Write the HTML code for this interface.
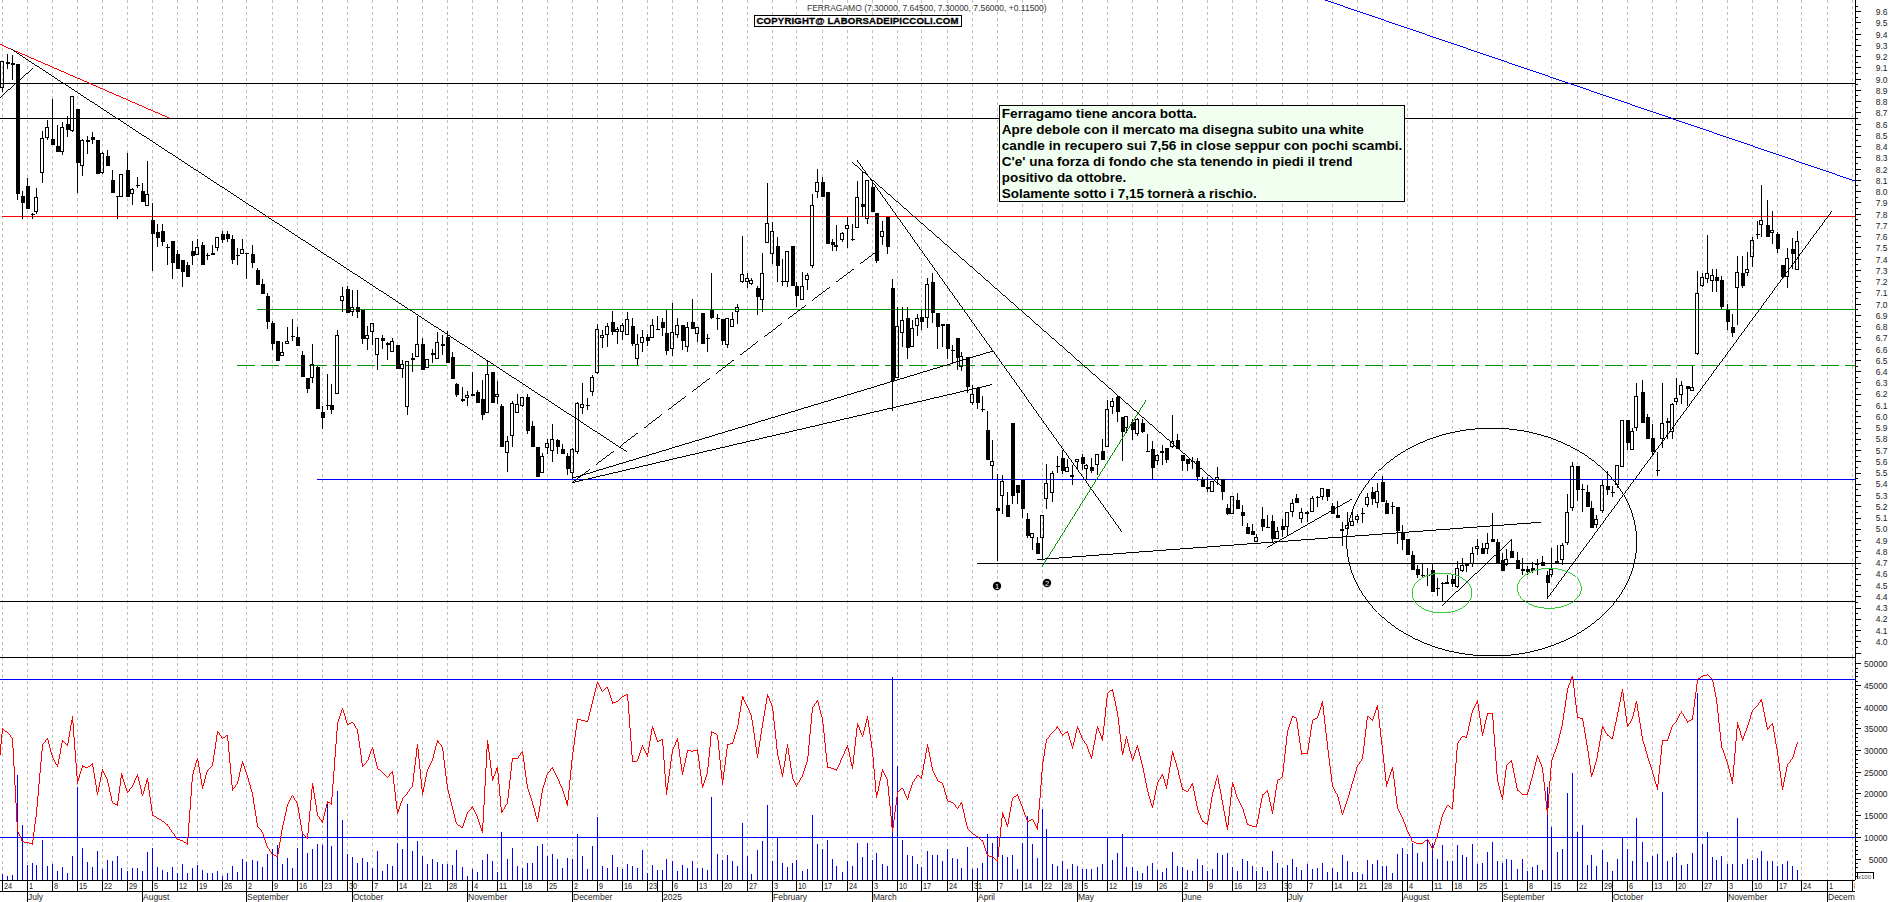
<!DOCTYPE html><html><head><meta charset="utf-8"><style>
html,body{margin:0;padding:0;background:#fff;width:1890px;height:902px;overflow:hidden}
svg{display:block;position:absolute;left:0;top:0}
text{font-family:"Liberation Sans",sans-serif}
</style></head><body>
<svg width="1890" height="902" viewBox="0 0 1890 902" shape-rendering="crispEdges">
<path d="M2.5 0V657M2.5 657V880M27.5 0V657M27.5 657V880M52.5 0V657M52.5 657V880M77.5 0V657M77.5 657V880M102.5 0V657M102.5 657V880M127.5 0V657M127.5 657V880M152.5 0V657M152.5 657V880M177.5 0V657M177.5 657V880M197.5 0V657M197.5 657V880M222.5 0V657M222.5 657V880M246.5 0V657M246.5 657V880M272.5 0V657M272.5 657V880M297.5 0V657M297.5 657V880M322.5 0V657M322.5 657V880M347.5 0V657M347.5 657V880M372.5 0V657M372.5 657V880M397.5 0V657M397.5 657V880M422.5 0V657M422.5 657V880M447.5 0V657M447.5 657V880M472.5 0V657M472.5 657V880M497.5 0V657M497.5 657V880M522.5 0V657M522.5 657V880M547.5 0V657M547.5 657V880M572.5 0V657M572.5 657V880M597.5 0V657M597.5 657V880M622.5 0V657M622.5 657V880M647.5 0V657M647.5 657V880M672.5 0V657M672.5 657V880M697.5 0V657M697.5 657V880M722.5 0V657M722.5 657V880M747.5 0V657M747.5 657V880M772.5 0V657M772.5 657V880M796.5 0V657M796.5 657V880M822.5 0V657M822.5 657V880M847.5 0V657M847.5 657V880M872.5 0V657M872.5 657V880M897.5 0V657M897.5 657V880M921.5 0V657M921.5 657V880M947.5 0V657M947.5 657V880M972.5 0V657M972.5 657V880M997.5 0V657M997.5 657V880M1022.5 0V657M1022.5 657V880M1042.5 0V657M1042.5 657V880M1062.5 0V657M1062.5 657V880M1082.5 0V657M1082.5 657V880M1107.5 0V657M1107.5 657V880M1132.5 0V657M1132.5 657V880M1157.5 0V657M1157.5 657V880M1182.5 0V657M1182.5 657V880M1207.5 0V657M1207.5 657V880M1232.5 0V657M1232.5 657V880M1256.5 0V657M1256.5 657V880M1282.5 0V657M1282.5 657V880M1307.5 0V657M1307.5 657V880M1332.5 0V657M1332.5 657V880M1357.5 0V657M1357.5 657V880M1382.5 0V657M1382.5 657V880M1407.5 0V657M1407.5 657V880M1432.5 0V657M1432.5 657V880M1452.5 0V657M1452.5 657V880M1477.5 0V657M1477.5 657V880M1502.5 0V657M1502.5 657V880M1527.5 0V657M1527.5 657V880M1551.5 0V657M1551.5 657V880M1577.5 0V657M1577.5 657V880M1602.5 0V657M1602.5 657V880M1627.5 0V657M1627.5 657V880M1652.5 0V657M1652.5 657V880M1676.5 0V657M1676.5 657V880M1702.5 0V657M1702.5 657V880M1727.5 0V657M1727.5 657V880M1752.5 0V657M1752.5 657V880M1777.5 0V657M1777.5 657V880M1801.5 0V657M1801.5 657V880M1827.5 0V657M1827.5 657V880M1852.5 0V657M1852.5 657V880" stroke="#c0c0c0" stroke-width="1" stroke-dasharray="3 3" fill="none"/>
<line x1="0" y1="83.5" x2="1855" y2="83.5" stroke="#000" stroke-width="1" />
<line x1="0" y1="118.5" x2="1855" y2="118.5" stroke="#000" stroke-width="1" />
<line x1="2" y1="216.5" x2="1855" y2="216.5" stroke="#f00" stroke-width="1" />
<line x1="257" y1="309.5" x2="1855" y2="309.5" stroke="#009600" stroke-width="1" />
<line x1="237" y1="365.5" x2="1855" y2="365.5" stroke="#009600" stroke-width="1" stroke-dasharray="18 6"/>
<line x1="317" y1="479.5" x2="1855" y2="479.5" stroke="#00f" stroke-width="1" />
<line x1="977" y1="563.5" x2="1855" y2="563.5" stroke="#000" stroke-width="1" />
<line x1="0" y1="601.5" x2="1855" y2="601.5" stroke="#000" stroke-width="1" />
<line x1="0" y1="657.5" x2="1855" y2="657.5" stroke="#000" stroke-width="1" />
<path d="M2.5 88V92M7.5 54V69M12.5 55V80M17.5 64V200M22.5 191V219M27.5 178V209M32.5 213V219M36.5 188V197M36.5 212V214M42.5 131V138M42.5 173V183M47.5 120V127M47.5 138V140M52.5 99V145M57.5 125V152M62.5 122V127M62.5 152V155M67.5 116V137M72.5 131V132M77.5 109V193M82.5 139V140M82.5 166V176M87.5 136V154M92.5 132V144M97.5 140V174M102.5 152V153M102.5 173V174M107.5 150V166M112.5 170V193M117.5 196V219M127.5 153V197M132.5 188V189M132.5 194V205M137.5 177V188M142.5 183V202M147.5 161V194M152.5 203V271M157.5 224V247M162.5 224V246M167.5 244V265M172.5 241V279M177.5 250V269M182.5 260V287M187.5 262V277M192.5 241V265M197.5 239V247M202.5 242V265M207.5 253V260M212.5 245V255M217.5 248V251M222.5 231V243M227.5 231V242M232.5 235V264M237.5 248V265M242.5 239V249M246.5 253V279M252.5 245V268M257.5 268V285M262.5 279V294M267.5 293V329M272.5 321V350M277.5 341V361M282.5 342V352M287.5 327V341M292.5 319V341M297.5 327V346M302.5 351V377M307.5 378V393M312.5 344V364M312.5 378V383M317.5 366V409M322.5 406V429M327.5 374V410M331.5 384V414M337.5 330V335M342.5 287V296M342.5 301V312M347.5 286V313M352.5 290V307M352.5 312V316M357.5 290V318M362.5 310V344M367.5 326V335M367.5 339V350M372.5 332V345M377.5 355V370M382.5 335V349M387.5 342V360M392.5 338V341M397.5 345V369M402.5 360V364M402.5 369V378M407.5 407V415M412.5 353V372M417.5 316V344M422.5 338V370M432.5 349V363M437.5 332V342M442.5 335V355M447.5 331V363M452.5 352V379M456.5 383V397M462.5 387V402M467.5 391V395M467.5 398V406M472.5 372V396M477.5 390V403M482.5 380V420M487.5 361V374M492.5 372V403M497.5 381V394M497.5 397V404M501.5 404V447M507.5 436V441M507.5 453V472M512.5 401V403M512.5 436V447M517.5 394V404M522.5 406V407M527.5 394V434M532.5 421V447M537.5 447V477M542.5 453V456M547.5 439V443M547.5 448V454M552.5 424V439M552.5 451V462M557.5 439V454M562.5 444V454M567.5 453V475M572.5 448V449M572.5 473V479M577.5 402V403M577.5 452V454M582.5 383V404M582.5 408V414M587.5 398V410M592.5 375V377M592.5 392V396M597.5 324V329M597.5 373V374M602.5 330V335M602.5 338V348M607.5 323V326M607.5 335V347M612.5 311V335M617.5 327V329M617.5 332V344M622.5 323V325M622.5 332V340M627.5 312V319M632.5 318V346M637.5 334V344M637.5 359V365M642.5 330V337M642.5 343V352M647.5 334V346M652.5 319V325M657.5 316V330M662.5 318V336M666.5 310V355M672.5 303V332M672.5 349V356M677.5 318V325M677.5 335V338M682.5 325V350M687.5 322V327M687.5 347V352M692.5 299V329M697.5 334V342M702.5 313V344M707.5 334V352M711.5 273V319M717.5 314V330M722.5 319V345M727.5 345V348M732.5 312V319M737.5 304V307M737.5 312V324M742.5 236V274M742.5 282V283M747.5 273V278M747.5 282V288M751.5 278V280M751.5 284V285M757.5 286V315M762.5 253V273M762.5 300V312M767.5 183V223M772.5 222V231M772.5 254V264M777.5 237V282M782.5 259V286M787.5 282V287M792.5 246V286M796.5 282V307M802.5 272V286M807.5 273V275M807.5 280V290M812.5 194V205M812.5 266V268M817.5 169V182M817.5 192V198M822.5 177V197M827.5 192V244M832.5 239V251M836.5 225V245M836.5 247V251M842.5 232V233M842.5 240V242M847.5 217V225M847.5 229V248M852.5 224V241M857.5 181V197M862.5 171V217M867.5 219V224M872.5 182V212M876.5 213V263M882.5 221V231M882.5 237V245M887.5 217V254M892.5 279V411M897.5 307V326M902.5 307V320M902.5 333V347M907.5 307V359M912.5 320V328M917.5 314V318M917.5 326V336M921.5 310V330M927.5 278V284M927.5 318V328M932.5 273V323M937.5 313V349M942.5 324V347M947.5 324V359M952.5 345V364M957.5 338V370M961.5 352V356M961.5 367V371M967.5 357V393M972.5 385V394M972.5 403V405M977.5 387V409M982.5 396V412M987.5 411V460M992.5 440V461M992.5 466V479M997.5 474V561M1002.5 475V481M1002.5 496V514M1007.5 492V517M1012.5 423V504M1017.5 485V504M1022.5 480V518M1027.5 513V538M1032.5 538V550M1037.5 537V554M1042.5 538V560M1046.5 464V483M1046.5 499V509M1052.5 471V473M1052.5 493V502M1057.5 456V473M1062.5 450V474M1067.5 459V467M1072.5 465V475M1072.5 477V485M1077.5 462V469M1082.5 454V470M1086.5 464V465M1086.5 469V480M1091.5 458V473M1097.5 465V475M1102.5 439V460M1107.5 400V409M1112.5 398V401M1112.5 407V414M1117.5 396V422M1122.5 417V461M1126.5 428V433M1132.5 419V440M1137.5 418V419M1137.5 434V436M1142.5 419V433M1147.5 434V452M1152.5 441V479M1157.5 454V455M1157.5 461V465M1162.5 445V451M1162.5 453V465M1166.5 448V463M1172.5 415V441M1172.5 447V448M1177.5 434V449M1182.5 455V471M1187.5 459V471M1192.5 457V469M1197.5 458V481M1202.5 477V487M1207.5 477V492M1217.5 467V477M1217.5 480V485M1222.5 479V500M1227.5 504V515M1237.5 493V509M1242.5 505V526M1247.5 523V534M1252.5 524V535M1256.5 534V537M1262.5 507V531M1267.5 515V528M1272.5 515V542M1277.5 527V531M1282.5 519V537M1287.5 527V535M1292.5 499V503M1292.5 512V517M1296.5 494V503M1301.5 508V512M1301.5 519V523M1307.5 511V512M1307.5 513V522M1312.5 496V498M1317.5 496V507M1322.5 497V500M1327.5 489V501M1332.5 503V514M1337.5 501V518M1342.5 522V529M1342.5 531V546M1347.5 512V525M1347.5 529V535M1352.5 509V521M1357.5 514V516M1357.5 520V523M1362.5 508V523M1367.5 493V497M1367.5 505V507M1372.5 487V505M1377.5 483V491M1377.5 503V508M1382.5 476V502M1386.5 500V514M1392.5 502V514M1397.5 507V544M1402.5 525V550M1407.5 539V555M1412.5 551V570M1417.5 565V578M1422.5 564V577M1427.5 568V586M1432.5 564V592M1437.5 578V596M1442.5 582V602M1447.5 575V582M1452.5 575V587M1457.5 561V568M1457.5 587V588M1462.5 558V565M1462.5 571V572M1466.5 563V572M1472.5 547V553M1472.5 564V567M1477.5 539V546M1477.5 549V555M1482.5 543V554M1487.5 533V543M1487.5 549V554M1492.5 513V542M1497.5 539V563M1502.5 553V571M1506.5 549V559M1506.5 565V566M1511.5 539V558M1517.5 552V569M1522.5 558V575M1527.5 566V575M1532.5 562V573M1537.5 559V563M1537.5 565V575M1542.5 556V566M1547.5 571V599M1551.5 548V569M1551.5 575V577M1557.5 545V561M1562.5 543V545M1562.5 560V565M1567.5 494V512M1567.5 543V545M1572.5 462V466M1572.5 508V511M1577.5 466V501M1582.5 484V512M1587.5 485V507M1591.5 501V528M1596.5 515V519M1596.5 525V528M1602.5 480V485M1602.5 511V513M1607.5 471V495M1612.5 486V497M1617.5 485V488M1627.5 420V450M1632.5 428V431M1636.5 383V396M1636.5 428V431M1642.5 380V423M1647.5 414V439M1652.5 424V455M1657.5 452V476M1662.5 383V423M1662.5 439V448M1667.5 418V439M1672.5 403V404M1672.5 432V439M1676.5 378V398M1676.5 402V405M1681.5 381V385M1681.5 395V404M1687.5 386V406M1692.5 366V387M1697.5 271V293M1697.5 354V355M1702.5 273V277M1702.5 286V287M1707.5 235V273M1707.5 279V283M1712.5 269V275M1712.5 281V292M1716.5 269V292M1721.5 276V309M1727.5 304V330M1732.5 314V337M1737.5 256V272M1737.5 288V325M1742.5 256V288M1747.5 252V269M1747.5 273V276M1752.5 237V240M1752.5 257V267M1757.5 221V239M1761.5 185V220M1761.5 225V237M1767.5 200V237M1772.5 211V230M1772.5 233V244M1777.5 232V253M1782.5 265V279M1787.5 248V258M1787.5 277V288M1792.5 238V269M1797.5 231V241" stroke="#000" stroke-width="1" fill="none"/>
<path d="M6 62h4v2h-4zM11 63h4v2h-4zM16 64h4v130h-4zM21 196h4v7h-4zM26 186h4v23h-4zM31 214h4v1h-4zM51 139h4v6h-4zM56 146h4v6h-4zM66 124h4v6h-4zM76 109h4v54h-4zM86 140h4v2h-4zM91 137h4v3h-4zM96 140h4v34h-4zM106 156h4v10h-4zM111 180h4v13h-4zM116 196h4v1h-4zM126 170h4v27h-4zM136 185h4v1h-4zM141 191h4v11h-4zM151 220h4v14h-4zM156 232h4v6h-4zM161 231h4v11h-4zM166 247h4v1h-4zM171 241h4v22h-4zM176 254h4v15h-4zM181 260h4v12h-4zM186 265h4v12h-4zM191 251h4v5h-4zM201 245h4v20h-4zM206 255h4v1h-4zM211 253h4v2h-4zM221 234h4v6h-4zM226 234h4v5h-4zM231 239h4v21h-4zM236 255h4v1h-4zM245 253h4v1h-4zM251 254h4v9h-4zM256 270h4v15h-4zM261 284h4v10h-4zM266 296h4v26h-4zM271 323h4v21h-4zM276 341h4v20h-4zM291 336h4v1h-4zM296 337h4v9h-4zM301 355h4v22h-4zM306 378h4v11h-4zM316 367h4v42h-4zM321 412h4v6h-4zM326 405h4v1h-4zM330 405h4v5h-4zM346 289h4v24h-4zM356 307h4v5h-4zM361 310h4v29h-4zM381 338h4v3h-4zM386 343h4v2h-4zM396 345h4v24h-4zM411 358h4v2h-4zM421 344h4v26h-4zM431 353h4v2h-4zM441 344h4v2h-4zM446 337h4v26h-4zM451 357h4v22h-4zM455 384h4v11h-4zM461 399h4v2h-4zM471 394h4v2h-4zM476 392h4v11h-4zM481 399h4v16h-4zM491 372h4v31h-4zM500 406h4v41h-4zM526 397h4v34h-4zM531 426h4v21h-4zM536 447h4v30h-4zM556 440h4v7h-4zM561 449h4v5h-4zM566 456h4v13h-4zM586 405h4v1h-4zM611 322h4v10h-4zM631 326h4v18h-4zM646 337h4v4h-4zM656 329h4v1h-4zM661 322h4v6h-4zM665 333h4v18h-4zM681 325h4v16h-4zM691 322h4v7h-4zM701 313h4v31h-4zM706 338h4v1h-4zM710 310h4v8h-4zM716 318h4v1h-4zM721 319h4v22h-4zM756 288h4v9h-4zM776 246h4v20h-4zM781 281h4v1h-4zM791 246h4v40h-4zM795 286h4v10h-4zM821 182h4v15h-4zM826 192h4v52h-4zM831 242h4v3h-4zM851 239h4v1h-4zM861 204h4v3h-4zM871 187h4v25h-4zM875 213h4v48h-4zM886 217h4v30h-4zM891 288h4v93h-4zM906 318h4v30h-4zM920 317h4v5h-4zM931 282h4v31h-4zM936 313h4v14h-4zM941 324h4v2h-4zM946 324h4v25h-4zM951 350h4v1h-4zM956 338h4v20h-4zM966 357h4v30h-4zM976 388h4v15h-4zM981 409h4v1h-4zM986 430h4v30h-4zM996 508h4v3h-4zM1006 505h4v12h-4zM1011 423h4v73h-4zM1016 485h4v8h-4zM1021 480h4v29h-4zM1026 519h4v17h-4zM1036 543h4v11h-4zM1056 466h4v1h-4zM1061 458h4v13h-4zM1081 457h4v7h-4zM1090 467h4v4h-4zM1101 451h4v9h-4zM1116 397h4v15h-4zM1121 417h4v15h-4zM1131 422h4v8h-4zM1141 423h4v9h-4zM1146 451h4v1h-4zM1151 449h4v19h-4zM1165 448h4v12h-4zM1176 440h4v9h-4zM1181 455h4v6h-4zM1186 459h4v5h-4zM1191 461h4v1h-4zM1196 461h4v16h-4zM1201 479h4v8h-4zM1206 487h4v2h-4zM1221 479h4v13h-4zM1226 508h4v6h-4zM1236 500h4v9h-4zM1241 512h4v4h-4zM1246 527h4v7h-4zM1251 531h4v4h-4zM1261 519h4v8h-4zM1266 527h4v1h-4zM1271 521h4v18h-4zM1281 526h4v4h-4zM1295 498h4v5h-4zM1316 497h4v1h-4zM1326 489h4v8h-4zM1331 506h4v8h-4zM1336 515h4v3h-4zM1361 513h4v1h-4zM1371 492h4v7h-4zM1381 482h4v20h-4zM1385 503h4v11h-4zM1391 506h4v1h-4zM1396 507h4v24h-4zM1401 532h4v8h-4zM1406 539h4v16h-4zM1411 555h4v15h-4zM1416 569h4v6h-4zM1421 575h4v1h-4zM1426 575h4v1h-4zM1431 570h4v22h-4zM1436 588h4v1h-4zM1441 583h4v1h-4zM1451 579h4v5h-4zM1465 564h4v2h-4zM1481 548h4v6h-4zM1491 539h4v3h-4zM1496 542h4v21h-4zM1501 560h4v11h-4zM1510 551h4v7h-4zM1516 560h4v9h-4zM1521 569h4v2h-4zM1526 569h4v3h-4zM1531 568h4v3h-4zM1541 562h4v4h-4zM1546 575h4v8h-4zM1576 466h4v24h-4zM1581 489h4v1h-4zM1586 492h4v15h-4zM1590 508h4v20h-4zM1606 486h4v4h-4zM1611 492h4v1h-4zM1626 420h4v23h-4zM1641 392h4v31h-4zM1646 417h4v22h-4zM1651 438h4v14h-4zM1656 470h4v1h-4zM1666 421h4v2h-4zM1686 386h4v3h-4zM1715 277h4v4h-4zM1720 280h4v27h-4zM1726 310h4v12h-4zM1731 327h4v6h-4zM1741 273h4v13h-4zM1756 234h4v1h-4zM1766 225h4v12h-4zM1776 234h4v15h-4zM1781 265h4v12h-4zM1791 249h4v5h-4z" fill="#000"/>
<path d="M0.5 61.5h3v26h-3zM34.5 197.5h3v14h-3zM40.5 138.5h3v34h-3zM45.5 127.5h3v10h-3zM60.5 127.5h3v24h-3zM70.5 96.5h3v34h-3zM80.5 140.5h3v25h-3zM100.5 153.5h3v19h-3zM119.5 174.5h3v22h-3zM130.5 189.5h3v4h-3zM145.5 194.5h3v11h-3zM195.5 247.5h3v7h-3zM215.5 237.5h3v10h-3zM240.5 249.5h3v4h-3zM280.5 352.5h3v3h-3zM285.5 341.5h3v2h-3zM310.5 364.5h3v13h-3zM335.5 335.5h3v58h-3zM340.5 296.5h3v4h-3zM350.5 307.5h3v4h-3zM365.5 335.5h3v3h-3zM370.5 323.5h3v8h-3zM375.5 338.5h3v16h-3zM390.5 341.5h3v10h-3zM400.5 364.5h3v4h-3zM405.5 361.5h3v45h-3zM415.5 344.5h3v12h-3zM425.5 359.5h3v8h-3zM435.5 342.5h3v16h-3zM465.5 395.5h3v2h-3zM485.5 374.5h3v38h-3zM495.5 394.5h3v2h-3zM505.5 441.5h3v11h-3zM510.5 403.5h3v32h-3zM515.5 404.5h3v8h-3zM520.5 397.5h3v8h-3zM540.5 456.5h3v16h-3zM545.5 443.5h3v4h-3zM550.5 439.5h3v11h-3zM570.5 449.5h3v23h-3zM575.5 403.5h3v48h-3zM580.5 404.5h3v3h-3zM590.5 377.5h3v14h-3zM595.5 329.5h3v43h-3zM600.5 335.5h3v2h-3zM605.5 326.5h3v8h-3zM615.5 329.5h3v2h-3zM620.5 325.5h3v6h-3zM625.5 319.5h3v15h-3zM635.5 344.5h3v14h-3zM640.5 337.5h3v5h-3zM650.5 325.5h3v12h-3zM670.5 332.5h3v16h-3zM675.5 325.5h3v9h-3zM685.5 327.5h3v19h-3zM695.5 327.5h3v6h-3zM725.5 318.5h3v26h-3zM730.5 319.5h3v7h-3zM735.5 307.5h3v4h-3zM740.5 274.5h3v7h-3zM745.5 278.5h3v3h-3zM749.5 280.5h3v3h-3zM760.5 273.5h3v26h-3zM765.5 223.5h3v19h-3zM770.5 231.5h3v22h-3zM785.5 251.5h3v30h-3zM800.5 286.5h3v13h-3zM805.5 275.5h3v4h-3zM810.5 205.5h3v60h-3zM815.5 182.5h3v9h-3zM834.5 245.5h3v1h-3zM840.5 233.5h3v6h-3zM845.5 225.5h3v3h-3zM855.5 197.5h3v30h-3zM865.5 180.5h3v38h-3zM880.5 231.5h3v5h-3zM895.5 326.5h3v51h-3zM900.5 320.5h3v12h-3zM910.5 328.5h3v18h-3zM915.5 318.5h3v7h-3zM925.5 284.5h3v33h-3zM959.5 356.5h3v10h-3zM970.5 394.5h3v8h-3zM990.5 461.5h3v4h-3zM1000.5 481.5h3v14h-3zM1030.5 533.5h3v4h-3zM1040.5 515.5h3v22h-3zM1044.5 483.5h3v15h-3zM1050.5 473.5h3v19h-3zM1065.5 467.5h3v4h-3zM1070.5 475.5h3v1h-3zM1075.5 459.5h3v2h-3zM1084.5 465.5h3v3h-3zM1095.5 454.5h3v10h-3zM1105.5 409.5h3v37h-3zM1110.5 401.5h3v5h-3zM1124.5 416.5h3v11h-3zM1135.5 419.5h3v14h-3zM1155.5 455.5h3v5h-3zM1160.5 451.5h3v1h-3zM1170.5 441.5h3v5h-3zM1210.5 481.5h3v10h-3zM1215.5 477.5h3v2h-3zM1230.5 496.5h3v17h-3zM1254.5 537.5h3v4h-3zM1275.5 531.5h3v7h-3zM1285.5 512.5h3v14h-3zM1290.5 503.5h3v8h-3zM1299.5 512.5h3v6h-3zM1305.5 512.5h3v1h-3zM1310.5 498.5h3v13h-3zM1320.5 488.5h3v8h-3zM1340.5 529.5h3v1h-3zM1345.5 525.5h3v3h-3zM1350.5 521.5h3v4h-3zM1355.5 516.5h3v3h-3zM1365.5 497.5h3v7h-3zM1375.5 491.5h3v11h-3zM1445.5 582.5h3v1h-3zM1455.5 568.5h3v18h-3zM1460.5 565.5h3v5h-3zM1470.5 553.5h3v10h-3zM1475.5 546.5h3v2h-3zM1485.5 543.5h3v5h-3zM1504.5 559.5h3v5h-3zM1535.5 563.5h3v1h-3zM1549.5 569.5h3v5h-3zM1555.5 561.5h3v1h-3zM1560.5 545.5h3v14h-3zM1565.5 512.5h3v30h-3zM1570.5 466.5h3v41h-3zM1594.5 519.5h3v5h-3zM1600.5 485.5h3v25h-3zM1615.5 465.5h3v19h-3zM1620.5 420.5h3v46h-3zM1630.5 431.5h3v18h-3zM1634.5 396.5h3v31h-3zM1660.5 423.5h3v15h-3zM1670.5 404.5h3v27h-3zM1674.5 398.5h3v3h-3zM1679.5 385.5h3v9h-3zM1690.5 387.5h3v3h-3zM1695.5 293.5h3v60h-3zM1700.5 277.5h3v8h-3zM1705.5 273.5h3v5h-3zM1710.5 275.5h3v5h-3zM1735.5 272.5h3v15h-3zM1745.5 269.5h3v3h-3zM1750.5 240.5h3v16h-3zM1759.5 220.5h3v4h-3zM1770.5 230.5h3v2h-3zM1785.5 258.5h3v18h-3zM1795.5 241.5h3v28h-3z" stroke="#000" stroke-width="1" fill="none"/>
<path d="M0 44h2v1h-2zM2 45h2v1h-2zM4 46h2v1h-2zM6 47h2v1h-2zM8 48h3v1h-3zM11 49h2v1h-2zM13 50h2v1h-2zM15 51h3v1h-3zM18 52h2v1h-2zM20 53h2v1h-2zM22 54h3v1h-3zM25 55h2v1h-2zM27 56h2v1h-2zM29 57h2v1h-2zM31 58h3v1h-3zM34 59h2v1h-2zM36 60h2v1h-2zM38 61h3v1h-3zM41 62h2v1h-2zM43 63h2v1h-2zM45 64h3v1h-3zM48 65h2v1h-2zM50 66h2v1h-2zM52 67h2v1h-2zM54 68h3v1h-3zM57 69h2v1h-2zM59 70h2v1h-2zM61 71h3v1h-3zM64 72h2v1h-2zM66 73h2v1h-2zM68 74h2v1h-2zM70 75h3v1h-3zM73 76h2v1h-2zM75 77h2v1h-2zM77 78h3v1h-3zM80 79h2v1h-2zM82 80h2v1h-2zM84 81h3v1h-3zM87 82h2v1h-2zM89 83h2v1h-2zM91 84h2v1h-2zM93 85h3v1h-3zM96 86h2v1h-2zM98 87h2v1h-2zM100 88h3v1h-3zM103 89h2v1h-2zM105 90h2v1h-2zM107 91h2v1h-2zM109 92h3v1h-3zM112 93h2v1h-2zM114 94h2v1h-2zM116 95h3v1h-3zM119 96h2v1h-2zM121 97h2v1h-2zM123 98h3v1h-3zM126 99h2v1h-2zM128 100h2v1h-2zM130 101h2v1h-2zM132 102h3v1h-3zM135 103h2v1h-2zM137 104h2v1h-2zM139 105h3v1h-3zM142 106h2v1h-2zM144 107h2v1h-2zM146 108h2v1h-2zM148 109h3v1h-3zM151 110h2v1h-2zM153 111h2v1h-2zM155 112h3v1h-3zM158 113h2v1h-2zM160 114h2v1h-2zM162 115h3v1h-3zM165 116h2v1h-2zM167 117h2v1h-2z" fill="#f00"/>
<path d="M11 49h2v1h-2zM13 50h1v1h-1zM14 51h2v1h-2zM16 52h1v1h-1zM17 53h2v1h-2zM19 54h1v1h-1zM20 55h2v1h-2zM22 56h1v1h-1zM23 57h2v1h-2zM25 58h1v1h-1zM26 59h2v1h-2zM28 60h1v1h-1zM29 61h2v1h-2zM31 62h1v1h-1zM32 63h2v1h-2zM34 64h1v1h-1zM35 65h2v1h-2zM37 66h2v1h-2zM39 67h1v1h-1zM40 68h2v1h-2zM42 69h1v1h-1zM43 70h2v1h-2zM45 71h1v1h-1zM46 72h2v1h-2zM48 73h1v1h-1zM49 74h2v1h-2zM51 75h1v1h-1zM52 76h2v1h-2zM54 77h1v1h-1zM55 78h2v1h-2zM57 79h1v1h-1zM58 80h2v1h-2zM60 81h1v1h-1zM61 82h2v1h-2zM63 83h2v1h-2zM65 84h1v1h-1zM66 85h2v1h-2zM68 86h1v1h-1zM69 87h2v1h-2zM71 88h1v1h-1zM72 89h2v1h-2zM74 90h1v1h-1zM75 91h2v1h-2zM77 92h1v1h-1zM78 93h2v1h-2zM80 94h1v1h-1zM81 95h2v1h-2zM83 96h1v1h-1zM84 97h2v1h-2zM86 98h1v1h-1zM87 99h2v1h-2zM89 100h1v1h-1zM90 101h2v1h-2zM92 102h2v1h-2zM94 103h1v1h-1zM95 104h2v1h-2zM97 105h1v1h-1zM98 106h2v1h-2zM100 107h1v1h-1zM101 108h2v1h-2zM103 109h1v1h-1zM104 110h2v1h-2zM106 111h1v1h-1zM107 112h2v1h-2zM109 113h1v1h-1zM110 114h2v1h-2zM112 115h1v1h-1zM113 116h2v1h-2zM115 117h1v1h-1zM116 118h2v1h-2zM118 119h2v1h-2zM120 120h1v1h-1zM121 121h2v1h-2zM123 122h1v1h-1zM124 123h2v1h-2zM126 124h1v1h-1zM127 125h2v1h-2zM129 126h1v1h-1zM130 127h2v1h-2zM132 128h1v1h-1zM133 129h2v1h-2zM135 130h1v1h-1zM136 131h2v1h-2zM138 132h1v1h-1zM139 133h2v1h-2zM141 134h1v1h-1zM142 135h2v1h-2zM144 136h2v1h-2zM146 137h1v1h-1zM147 138h2v1h-2zM149 139h1v1h-1zM150 140h2v1h-2zM152 141h1v1h-1zM153 142h2v1h-2zM155 143h1v1h-1zM156 144h2v1h-2zM158 145h1v1h-1zM159 146h2v1h-2zM161 147h1v1h-1zM162 148h2v1h-2zM164 149h1v1h-1zM165 150h2v1h-2zM167 151h1v1h-1zM168 152h2v1h-2zM170 153h2v1h-2zM172 154h1v1h-1zM173 155h2v1h-2zM175 156h1v1h-1zM176 157h2v1h-2zM178 158h1v1h-1zM179 159h2v1h-2zM181 160h1v1h-1zM182 161h2v1h-2zM184 162h1v1h-1zM185 163h2v1h-2zM187 164h1v1h-1zM188 165h2v1h-2zM190 166h1v1h-1zM191 167h2v1h-2zM193 168h1v1h-1zM194 169h2v1h-2zM196 170h2v1h-2zM198 171h1v1h-1zM199 172h2v1h-2zM201 173h1v1h-1zM202 174h2v1h-2zM204 175h1v1h-1zM205 176h2v1h-2zM207 177h1v1h-1zM208 178h2v1h-2zM210 179h1v1h-1zM211 180h2v1h-2zM213 181h1v1h-1zM214 182h2v1h-2zM216 183h1v1h-1zM217 184h2v1h-2zM219 185h1v1h-1zM220 186h2v1h-2zM222 187h2v1h-2zM224 188h1v1h-1zM225 189h2v1h-2zM227 190h1v1h-1zM228 191h2v1h-2zM230 192h1v1h-1zM231 193h2v1h-2zM233 194h1v1h-1zM234 195h2v1h-2zM236 196h1v1h-1zM237 197h2v1h-2zM239 198h1v1h-1zM240 199h2v1h-2zM242 200h1v1h-1zM243 201h2v1h-2zM245 202h1v1h-1zM246 203h2v1h-2zM248 204h1v1h-1zM249 205h2v1h-2zM251 206h2v1h-2zM253 207h1v1h-1zM254 208h2v1h-2zM256 209h1v1h-1zM257 210h2v1h-2zM259 211h1v1h-1zM260 212h2v1h-2zM262 213h1v1h-1zM263 214h2v1h-2zM265 215h1v1h-1zM266 216h2v1h-2zM268 217h1v1h-1zM269 218h2v1h-2zM271 219h1v1h-1zM272 220h2v1h-2zM274 221h1v1h-1zM275 222h2v1h-2zM277 223h2v1h-2zM279 224h1v1h-1zM280 225h2v1h-2zM282 226h1v1h-1zM283 227h2v1h-2zM285 228h1v1h-1zM286 229h2v1h-2zM288 230h1v1h-1zM289 231h2v1h-2zM291 232h1v1h-1zM292 233h2v1h-2zM294 234h1v1h-1zM295 235h2v1h-2zM297 236h1v1h-1zM298 237h2v1h-2zM300 238h1v1h-1zM301 239h2v1h-2zM303 240h2v1h-2zM305 241h1v1h-1zM306 242h2v1h-2zM308 243h1v1h-1zM309 244h2v1h-2zM311 245h1v1h-1zM312 246h2v1h-2zM314 247h1v1h-1zM315 248h2v1h-2zM317 249h1v1h-1zM318 250h2v1h-2zM320 251h1v1h-1zM321 252h2v1h-2zM323 253h1v1h-1zM324 254h2v1h-2zM326 255h1v1h-1zM327 256h2v1h-2zM329 257h2v1h-2zM331 258h1v1h-1zM332 259h2v1h-2zM334 260h1v1h-1zM335 261h2v1h-2zM337 262h1v1h-1zM338 263h2v1h-2zM340 264h1v1h-1zM341 265h2v1h-2zM343 266h1v1h-1zM344 267h2v1h-2zM346 268h1v1h-1zM347 269h2v1h-2zM349 270h1v1h-1zM350 271h2v1h-2zM352 272h1v1h-1zM353 273h2v1h-2zM355 274h2v1h-2zM357 275h1v1h-1zM358 276h2v1h-2zM360 277h1v1h-1zM361 278h2v1h-2zM363 279h1v1h-1zM364 280h2v1h-2zM366 281h1v1h-1zM367 282h2v1h-2zM369 283h1v1h-1zM370 284h2v1h-2zM372 285h1v1h-1zM373 286h2v1h-2zM375 287h1v1h-1zM376 288h2v1h-2zM378 289h1v1h-1zM379 290h2v1h-2zM381 291h2v1h-2zM383 292h1v1h-1zM384 293h2v1h-2zM386 294h1v1h-1zM387 295h2v1h-2zM389 296h1v1h-1zM390 297h2v1h-2zM392 298h1v1h-1zM393 299h2v1h-2zM395 300h1v1h-1zM396 301h2v1h-2zM398 302h1v1h-1zM399 303h2v1h-2zM401 304h1v1h-1zM402 305h2v1h-2zM404 306h1v1h-1zM405 307h2v1h-2zM407 308h1v1h-1zM408 309h2v1h-2zM410 310h2v1h-2zM412 311h1v1h-1zM413 312h2v1h-2zM415 313h1v1h-1zM416 314h2v1h-2zM418 315h1v1h-1zM419 316h2v1h-2zM421 317h1v1h-1zM422 318h2v1h-2zM424 319h1v1h-1zM425 320h2v1h-2zM427 321h1v1h-1zM428 322h2v1h-2zM430 323h1v1h-1zM431 324h2v1h-2zM433 325h1v1h-1zM434 326h2v1h-2zM436 327h2v1h-2zM438 328h1v1h-1zM439 329h2v1h-2zM441 330h1v1h-1zM442 331h2v1h-2zM444 332h1v1h-1zM445 333h2v1h-2zM447 334h1v1h-1zM448 335h2v1h-2zM450 336h1v1h-1zM451 337h2v1h-2zM453 338h1v1h-1zM454 339h2v1h-2zM456 340h1v1h-1zM457 341h2v1h-2zM459 342h1v1h-1zM460 343h2v1h-2zM462 344h2v1h-2zM464 345h1v1h-1zM465 346h2v1h-2zM467 347h1v1h-1zM468 348h2v1h-2zM470 349h1v1h-1zM471 350h2v1h-2zM473 351h1v1h-1zM474 352h2v1h-2zM476 353h1v1h-1zM477 354h2v1h-2zM479 355h1v1h-1zM480 356h2v1h-2zM482 357h1v1h-1zM483 358h2v1h-2zM485 359h1v1h-1zM486 360h2v1h-2zM488 361h2v1h-2zM490 362h1v1h-1zM491 363h2v1h-2zM493 364h1v1h-1zM494 365h2v1h-2zM496 366h1v1h-1zM497 367h2v1h-2zM499 368h1v1h-1zM500 369h2v1h-2zM502 370h1v1h-1zM503 371h2v1h-2zM505 372h1v1h-1zM506 373h2v1h-2zM508 374h1v1h-1zM509 375h2v1h-2zM511 376h1v1h-1zM512 377h2v1h-2zM514 378h2v1h-2zM516 379h1v1h-1zM517 380h2v1h-2zM519 381h1v1h-1zM520 382h2v1h-2zM522 383h1v1h-1zM523 384h2v1h-2zM525 385h1v1h-1zM526 386h2v1h-2zM528 387h1v1h-1zM529 388h2v1h-2zM531 389h1v1h-1zM532 390h2v1h-2zM534 391h1v1h-1zM535 392h2v1h-2zM537 393h1v1h-1zM538 394h2v1h-2zM540 395h1v1h-1zM541 396h2v1h-2zM543 397h2v1h-2zM545 398h1v1h-1zM546 399h2v1h-2zM548 400h1v1h-1zM549 401h2v1h-2zM551 402h1v1h-1zM552 403h2v1h-2zM554 404h1v1h-1zM555 405h2v1h-2zM557 406h1v1h-1zM558 407h2v1h-2zM560 408h1v1h-1zM561 409h2v1h-2zM563 410h1v1h-1zM564 411h2v1h-2zM566 412h1v1h-1zM567 413h2v1h-2zM569 414h2v1h-2zM571 415h1v1h-1zM572 416h2v1h-2zM574 417h1v1h-1zM575 418h2v1h-2zM577 419h1v1h-1zM578 420h2v1h-2zM580 421h1v1h-1zM581 422h2v1h-2zM583 423h1v1h-1zM584 424h2v1h-2zM586 425h1v1h-1zM587 426h2v1h-2zM589 427h1v1h-1zM590 428h2v1h-2zM592 429h1v1h-1zM593 430h2v1h-2zM595 431h2v1h-2zM597 432h1v1h-1zM598 433h2v1h-2zM600 434h1v1h-1zM601 435h2v1h-2zM603 436h1v1h-1zM604 437h2v1h-2zM606 438h1v1h-1zM607 439h2v1h-2zM609 440h1v1h-1zM610 441h2v1h-2zM612 442h1v1h-1zM613 443h2v1h-2zM615 444h1v1h-1zM616 445h2v1h-2zM618 446h1v1h-1zM619 447h2v1h-2zM621 448h2v1h-2zM623 449h1v1h-1zM624 450h2v1h-2zM626 451h1v1h-1z" fill="#000"/>
<path d="M32 68h1v1h-1zM31 69h1v1h-1zM30 70h1v1h-1zM29 71h1v1h-1zM28 72h1v1h-1zM26 73h2v1h-2zM25 74h1v1h-1zM24 75h1v1h-1zM23 76h1v1h-1zM22 77h1v1h-1zM21 78h1v1h-1zM20 79h1v1h-1zM19 80h1v1h-1zM17 81h2v1h-2zM16 82h1v1h-1zM15 83h1v1h-1zM14 84h1v1h-1zM13 85h1v1h-1zM12 86h1v1h-1zM11 87h1v1h-1zM10 88h1v1h-1zM8 89h2v1h-2zM7 90h1v1h-1zM6 91h1v1h-1zM5 92h1v1h-1zM4 93h1v1h-1zM3 94h1v1h-1zM2 95h1v1h-1zM1 96h1v1h-1zM0 97h1v1h-1z" fill="#000"/>
<path d="M1325 0h3v1h-3zM1328 1h3v1h-3zM1331 2h3v1h-3zM1334 3h3v1h-3zM1337 4h3v1h-3zM1340 5h3v1h-3zM1343 6h2v1h-2zM1345 7h3v1h-3zM1348 8h3v1h-3zM1351 9h3v1h-3zM1354 10h3v1h-3zM1357 11h3v1h-3zM1360 12h3v1h-3zM1363 13h3v1h-3zM1366 14h3v1h-3zM1369 15h3v1h-3zM1372 16h3v1h-3zM1375 17h3v1h-3zM1378 18h3v1h-3zM1381 19h3v1h-3zM1384 20h2v1h-2zM1386 21h3v1h-3zM1389 22h3v1h-3zM1392 23h3v1h-3zM1395 24h3v1h-3zM1398 25h3v1h-3zM1401 26h3v1h-3zM1404 27h3v1h-3zM1407 28h3v1h-3zM1410 29h3v1h-3zM1413 30h3v1h-3zM1416 31h3v1h-3zM1419 32h3v1h-3zM1422 33h3v1h-3zM1425 34h2v1h-2zM1427 35h3v1h-3zM1430 36h3v1h-3zM1433 37h3v1h-3zM1436 38h3v1h-3zM1439 39h3v1h-3zM1442 40h3v1h-3zM1445 41h3v1h-3zM1448 42h3v1h-3zM1451 43h3v1h-3zM1454 44h3v1h-3zM1457 45h3v1h-3zM1460 46h3v1h-3zM1463 47h3v1h-3zM1466 48h2v1h-2zM1468 49h3v1h-3zM1471 50h3v1h-3zM1474 51h3v1h-3zM1477 52h3v1h-3zM1480 53h3v1h-3zM1483 54h3v1h-3zM1486 55h3v1h-3zM1489 56h3v1h-3zM1492 57h3v1h-3zM1495 58h3v1h-3zM1498 59h3v1h-3zM1501 60h3v1h-3zM1504 61h3v1h-3zM1507 62h2v1h-2zM1509 63h3v1h-3zM1512 64h3v1h-3zM1515 65h3v1h-3zM1518 66h3v1h-3zM1521 67h3v1h-3zM1524 68h3v1h-3zM1527 69h3v1h-3zM1530 70h3v1h-3zM1533 71h3v1h-3zM1536 72h3v1h-3zM1539 73h3v1h-3zM1542 74h3v1h-3zM1545 75h3v1h-3zM1548 76h2v1h-2zM1550 77h3v1h-3zM1553 78h3v1h-3zM1556 79h3v1h-3zM1559 80h3v1h-3zM1562 81h3v1h-3zM1565 82h3v1h-3zM1568 83h3v1h-3zM1571 84h3v1h-3zM1574 85h3v1h-3zM1577 86h3v1h-3zM1580 87h3v1h-3zM1583 88h3v1h-3zM1586 89h3v1h-3zM1589 90h2v1h-2zM1591 91h3v1h-3zM1594 92h3v1h-3zM1597 93h3v1h-3zM1600 94h3v1h-3zM1603 95h3v1h-3zM1606 96h3v1h-3zM1609 97h3v1h-3zM1612 98h3v1h-3zM1615 99h3v1h-3zM1618 100h3v1h-3zM1621 101h3v1h-3zM1624 102h3v1h-3zM1627 103h3v1h-3zM1630 104h2v1h-2zM1632 105h3v1h-3zM1635 106h3v1h-3zM1638 107h3v1h-3zM1641 108h3v1h-3zM1644 109h3v1h-3zM1647 110h3v1h-3zM1650 111h3v1h-3zM1653 112h3v1h-3zM1656 113h3v1h-3zM1659 114h3v1h-3zM1662 115h3v1h-3zM1665 116h3v1h-3zM1668 117h3v1h-3zM1671 118h2v1h-2zM1673 119h3v1h-3zM1676 120h3v1h-3zM1679 121h3v1h-3zM1682 122h3v1h-3zM1685 123h3v1h-3zM1688 124h3v1h-3zM1691 125h3v1h-3zM1694 126h3v1h-3zM1697 127h3v1h-3zM1700 128h3v1h-3zM1703 129h3v1h-3zM1706 130h3v1h-3zM1709 131h3v1h-3zM1712 132h2v1h-2zM1714 133h3v1h-3zM1717 134h3v1h-3zM1720 135h3v1h-3zM1723 136h3v1h-3zM1726 137h3v1h-3zM1729 138h3v1h-3zM1732 139h3v1h-3zM1735 140h3v1h-3zM1738 141h3v1h-3zM1741 142h3v1h-3zM1744 143h3v1h-3zM1747 144h3v1h-3zM1750 145h3v1h-3zM1753 146h2v1h-2zM1755 147h3v1h-3zM1758 148h3v1h-3zM1761 149h3v1h-3zM1764 150h3v1h-3zM1767 151h3v1h-3zM1770 152h3v1h-3zM1773 153h3v1h-3zM1776 154h3v1h-3zM1779 155h3v1h-3zM1782 156h3v1h-3zM1785 157h3v1h-3zM1788 158h3v1h-3zM1791 159h3v1h-3zM1794 160h2v1h-2zM1796 161h3v1h-3zM1799 162h3v1h-3zM1802 163h3v1h-3zM1805 164h3v1h-3zM1808 165h3v1h-3zM1811 166h3v1h-3zM1814 167h3v1h-3zM1817 168h3v1h-3zM1820 169h3v1h-3zM1823 170h3v1h-3zM1826 171h3v1h-3zM1829 172h3v1h-3zM1832 173h3v1h-3zM1835 174h2v1h-2zM1837 175h3v1h-3zM1840 176h3v1h-3zM1843 177h3v1h-3zM1846 178h3v1h-3zM1849 179h3v1h-3zM1852 180h3v1h-3z" fill="#00f"/>
<path d="M852 162h1v1h-1zM853 163h1v1h-1zM854 164h1v1h-1zM855 165h2v1h-2zM857 166h1v1h-1zM858 167h1v1h-1zM859 168h1v1h-1zM860 169h1v1h-1zM861 170h1v1h-1zM862 171h1v1h-1zM863 172h2v1h-2zM865 173h1v1h-1zM866 174h1v1h-1zM867 175h1v1h-1zM868 176h1v1h-1zM869 177h1v1h-1zM870 178h1v1h-1zM871 179h1v1h-1zM872 180h2v1h-2zM874 181h1v1h-1zM875 182h1v1h-1zM876 183h1v1h-1zM877 184h1v1h-1zM878 185h1v1h-1zM879 186h1v1h-1zM880 187h2v1h-2zM882 188h1v1h-1zM883 189h1v1h-1zM884 190h1v1h-1zM885 191h1v1h-1zM886 192h1v1h-1zM887 193h1v1h-1zM888 194h2v1h-2zM890 195h1v1h-1zM891 196h1v1h-1zM892 197h1v1h-1zM893 198h1v1h-1zM894 199h1v1h-1zM895 200h1v1h-1zM896 201h2v1h-2zM898 202h1v1h-1zM899 203h1v1h-1zM900 204h1v1h-1zM901 205h1v1h-1zM902 206h1v1h-1zM903 207h1v1h-1zM904 208h2v1h-2zM906 209h1v1h-1zM907 210h1v1h-1zM908 211h1v1h-1zM909 212h1v1h-1zM910 213h1v1h-1zM911 214h1v1h-1zM912 215h1v1h-1zM913 216h2v1h-2zM915 217h1v1h-1zM916 218h1v1h-1zM917 219h1v1h-1zM918 220h1v1h-1zM919 221h1v1h-1zM920 222h1v1h-1zM921 223h2v1h-2zM923 224h1v1h-1zM924 225h1v1h-1zM925 226h1v1h-1zM926 227h1v1h-1zM927 228h1v1h-1zM928 229h1v1h-1zM929 230h2v1h-2zM931 231h1v1h-1zM932 232h1v1h-1zM933 233h1v1h-1zM934 234h1v1h-1zM935 235h1v1h-1zM936 236h1v1h-1zM937 237h2v1h-2zM939 238h1v1h-1zM940 239h1v1h-1zM941 240h1v1h-1zM942 241h1v1h-1zM943 242h1v1h-1zM944 243h1v1h-1zM945 244h2v1h-2zM947 245h1v1h-1zM948 246h1v1h-1zM949 247h1v1h-1zM950 248h1v1h-1zM951 249h1v1h-1zM952 250h1v1h-1zM953 251h1v1h-1zM954 252h2v1h-2zM956 253h1v1h-1zM957 254h1v1h-1zM958 255h1v1h-1zM959 256h1v1h-1zM960 257h1v1h-1zM961 258h1v1h-1zM962 259h2v1h-2zM964 260h1v1h-1zM965 261h1v1h-1zM966 262h1v1h-1zM967 263h1v1h-1zM968 264h1v1h-1zM969 265h1v1h-1zM970 266h2v1h-2zM972 267h1v1h-1zM973 268h1v1h-1zM974 269h1v1h-1zM975 270h1v1h-1zM976 271h1v1h-1zM977 272h1v1h-1zM978 273h2v1h-2zM980 274h1v1h-1zM981 275h1v1h-1zM982 276h1v1h-1zM983 277h1v1h-1zM984 278h1v1h-1zM985 279h1v1h-1zM986 280h2v1h-2zM988 281h1v1h-1zM989 282h1v1h-1zM990 283h1v1h-1zM991 284h1v1h-1zM992 285h1v1h-1zM993 286h1v1h-1zM994 287h1v1h-1zM995 288h2v1h-2zM997 289h1v1h-1zM998 290h1v1h-1zM999 291h1v1h-1zM1000 292h1v1h-1zM1001 293h1v1h-1zM1002 294h1v1h-1zM1003 295h2v1h-2zM1005 296h1v1h-1zM1006 297h1v1h-1zM1007 298h1v1h-1zM1008 299h1v1h-1zM1009 300h1v1h-1zM1010 301h1v1h-1zM1011 302h2v1h-2zM1013 303h1v1h-1zM1014 304h1v1h-1zM1015 305h1v1h-1zM1016 306h1v1h-1zM1017 307h1v1h-1zM1018 308h1v1h-1zM1019 309h2v1h-2zM1021 310h1v1h-1zM1022 311h1v1h-1zM1023 312h1v1h-1zM1024 313h1v1h-1zM1025 314h1v1h-1zM1026 315h1v1h-1zM1027 316h2v1h-2zM1029 317h1v1h-1zM1030 318h1v1h-1zM1031 319h1v1h-1zM1032 320h1v1h-1zM1033 321h1v1h-1zM1034 322h1v1h-1zM1035 323h1v1h-1zM1036 324h2v1h-2zM1038 325h1v1h-1zM1039 326h1v1h-1zM1040 327h1v1h-1zM1041 328h1v1h-1zM1042 329h1v1h-1zM1043 330h1v1h-1zM1044 331h2v1h-2zM1046 332h1v1h-1zM1047 333h1v1h-1zM1048 334h1v1h-1zM1049 335h1v1h-1zM1050 336h1v1h-1zM1051 337h1v1h-1zM1052 338h2v1h-2zM1054 339h1v1h-1zM1055 340h1v1h-1zM1056 341h1v1h-1zM1057 342h1v1h-1zM1058 343h1v1h-1zM1059 344h1v1h-1zM1060 345h2v1h-2zM1062 346h1v1h-1zM1063 347h1v1h-1zM1064 348h1v1h-1zM1065 349h1v1h-1zM1066 350h1v1h-1zM1067 351h1v1h-1zM1068 352h2v1h-2zM1070 353h1v1h-1zM1071 354h1v1h-1zM1072 355h1v1h-1zM1073 356h1v1h-1zM1074 357h1v1h-1zM1075 358h1v1h-1zM1076 359h1v1h-1zM1077 360h2v1h-2zM1079 361h1v1h-1zM1080 362h1v1h-1zM1081 363h1v1h-1zM1082 364h1v1h-1zM1083 365h1v1h-1zM1084 366h1v1h-1zM1085 367h2v1h-2zM1087 368h1v1h-1zM1088 369h1v1h-1zM1089 370h1v1h-1zM1090 371h1v1h-1zM1091 372h1v1h-1zM1092 373h1v1h-1zM1093 374h2v1h-2zM1095 375h1v1h-1zM1096 376h1v1h-1zM1097 377h1v1h-1zM1098 378h1v1h-1zM1099 379h1v1h-1zM1100 380h1v1h-1zM1101 381h2v1h-2zM1103 382h1v1h-1zM1104 383h1v1h-1zM1105 384h1v1h-1zM1106 385h1v1h-1zM1107 386h1v1h-1zM1108 387h1v1h-1zM1109 388h2v1h-2zM1111 389h1v1h-1zM1112 390h1v1h-1zM1113 391h1v1h-1zM1114 392h1v1h-1zM1115 393h1v1h-1zM1116 394h1v1h-1zM1117 395h1v1h-1zM1118 396h2v1h-2zM1120 397h1v1h-1zM1121 398h1v1h-1zM1122 399h1v1h-1zM1123 400h1v1h-1zM1124 401h1v1h-1zM1125 402h1v1h-1zM1126 403h2v1h-2zM1128 404h1v1h-1zM1129 405h1v1h-1zM1130 406h1v1h-1zM1131 407h1v1h-1zM1132 408h1v1h-1zM1133 409h1v1h-1zM1134 410h2v1h-2zM1136 411h1v1h-1zM1137 412h1v1h-1zM1138 413h1v1h-1zM1139 414h1v1h-1zM1140 415h1v1h-1zM1141 416h1v1h-1zM1142 417h2v1h-2zM1144 418h1v1h-1zM1145 419h1v1h-1zM1146 420h1v1h-1zM1147 421h1v1h-1zM1148 422h1v1h-1zM1149 423h1v1h-1zM1150 424h2v1h-2zM1152 425h1v1h-1zM1153 426h1v1h-1zM1154 427h1v1h-1zM1155 428h1v1h-1zM1156 429h1v1h-1zM1157 430h1v1h-1zM1158 431h1v1h-1zM1159 432h2v1h-2zM1161 433h1v1h-1zM1162 434h1v1h-1zM1163 435h1v1h-1zM1164 436h1v1h-1zM1165 437h1v1h-1zM1166 438h1v1h-1zM1167 439h2v1h-2zM1169 440h1v1h-1zM1170 441h1v1h-1zM1171 442h1v1h-1zM1172 443h1v1h-1zM1173 444h1v1h-1zM1174 445h1v1h-1zM1175 446h2v1h-2zM1177 447h1v1h-1zM1178 448h1v1h-1zM1179 449h1v1h-1zM1180 450h1v1h-1zM1181 451h1v1h-1zM1182 452h1v1h-1zM1183 453h2v1h-2zM1185 454h1v1h-1zM1186 455h1v1h-1zM1187 456h1v1h-1zM1188 457h1v1h-1zM1189 458h1v1h-1zM1190 459h1v1h-1zM1191 460h2v1h-2zM1193 461h1v1h-1zM1194 462h1v1h-1zM1195 463h1v1h-1zM1196 464h1v1h-1zM1197 465h1v1h-1zM1198 466h1v1h-1zM1199 467h1v1h-1zM1200 468h2v1h-2zM1202 469h1v1h-1zM1203 470h1v1h-1zM1204 471h1v1h-1zM1205 472h1v1h-1zM1206 473h1v1h-1zM1207 474h1v1h-1zM1208 475h2v1h-2zM1210 476h1v1h-1zM1211 477h1v1h-1zM1212 478h1v1h-1zM1213 479h1v1h-1zM1214 480h1v1h-1zM1215 481h1v1h-1zM1216 482h2v1h-2zM1218 483h1v1h-1zM1219 484h1v1h-1zM1220 485h1v1h-1zM1221 486h1v1h-1z" fill="#000"/>
<path d="M857 160h1v1h-1zM857 161h1v1h-1zM858 162h1v1h-1zM859 163h1v1h-1zM860 164h1v1h-1zM860 165h1v1h-1zM861 166h1v1h-1zM862 167h1v1h-1zM862 168h1v1h-1zM863 169h1v1h-1zM864 170h1v1h-1zM865 171h1v1h-1zM865 172h1v1h-1zM866 173h1v1h-1zM867 174h1v1h-1zM867 175h1v1h-1zM868 176h1v1h-1zM869 177h1v1h-1zM870 178h1v1h-1zM870 179h1v1h-1zM871 180h1v1h-1zM872 181h1v1h-1zM872 182h1v1h-1zM873 183h1v1h-1zM874 184h1v1h-1zM875 185h1v1h-1zM875 186h1v1h-1zM876 187h1v1h-1zM877 188h1v1h-1zM877 189h1v1h-1zM878 190h1v1h-1zM879 191h1v1h-1zM880 192h1v1h-1zM880 193h1v1h-1zM881 194h1v1h-1zM882 195h1v1h-1zM882 196h1v1h-1zM883 197h1v1h-1zM884 198h1v1h-1zM885 199h1v1h-1zM885 200h1v1h-1zM886 201h1v1h-1zM887 202h1v1h-1zM887 203h1v1h-1zM888 204h1v1h-1zM889 205h1v1h-1zM890 206h1v1h-1zM890 207h1v1h-1zM891 208h1v1h-1zM892 209h1v1h-1zM892 210h1v1h-1zM893 211h1v1h-1zM894 212h1v1h-1zM895 213h1v1h-1zM895 214h1v1h-1zM896 215h1v1h-1zM897 216h1v1h-1zM897 217h1v1h-1zM898 218h1v1h-1zM899 219h1v1h-1zM900 220h1v1h-1zM900 221h1v1h-1zM901 222h1v1h-1zM902 223h1v1h-1zM902 224h1v1h-1zM903 225h1v1h-1zM904 226h1v1h-1zM905 227h1v1h-1zM905 228h1v1h-1zM906 229h1v1h-1zM907 230h1v1h-1zM907 231h1v1h-1zM908 232h1v1h-1zM909 233h1v1h-1zM910 234h1v1h-1zM910 235h1v1h-1zM911 236h1v1h-1zM912 237h1v1h-1zM912 238h1v1h-1zM913 239h1v1h-1zM914 240h1v1h-1zM914 241h1v1h-1zM915 242h1v1h-1zM916 243h1v1h-1zM917 244h1v1h-1zM917 245h1v1h-1zM918 246h1v1h-1zM919 247h1v1h-1zM919 248h1v1h-1zM920 249h1v1h-1zM921 250h1v1h-1zM922 251h1v1h-1zM922 252h1v1h-1zM923 253h1v1h-1zM924 254h1v1h-1zM924 255h1v1h-1zM925 256h1v1h-1zM926 257h1v1h-1zM927 258h1v1h-1zM927 259h1v1h-1zM928 260h1v1h-1zM929 261h1v1h-1zM929 262h1v1h-1zM930 263h1v1h-1zM931 264h1v1h-1zM932 265h1v1h-1zM932 266h1v1h-1zM933 267h1v1h-1zM934 268h1v1h-1zM934 269h1v1h-1zM935 270h1v1h-1zM936 271h1v1h-1zM937 272h1v1h-1zM937 273h1v1h-1zM938 274h1v1h-1zM939 275h1v1h-1zM939 276h1v1h-1zM940 277h1v1h-1zM941 278h1v1h-1zM942 279h1v1h-1zM942 280h1v1h-1zM943 281h1v1h-1zM944 282h1v1h-1zM944 283h1v1h-1zM945 284h1v1h-1zM946 285h1v1h-1zM947 286h1v1h-1zM947 287h1v1h-1zM948 288h1v1h-1zM949 289h1v1h-1zM949 290h1v1h-1zM950 291h1v1h-1zM951 292h1v1h-1zM952 293h1v1h-1zM952 294h1v1h-1zM953 295h1v1h-1zM954 296h1v1h-1zM954 297h1v1h-1zM955 298h1v1h-1zM956 299h1v1h-1zM957 300h1v1h-1zM957 301h1v1h-1zM958 302h1v1h-1zM959 303h1v1h-1zM959 304h1v1h-1zM960 305h1v1h-1zM961 306h1v1h-1zM962 307h1v1h-1zM962 308h1v1h-1zM963 309h1v1h-1zM964 310h1v1h-1zM964 311h1v1h-1zM965 312h1v1h-1zM966 313h1v1h-1zM967 314h1v1h-1zM967 315h1v1h-1zM968 316h1v1h-1zM969 317h1v1h-1zM969 318h1v1h-1zM970 319h1v1h-1zM971 320h1v1h-1zM971 321h1v1h-1zM972 322h1v1h-1zM973 323h1v1h-1zM974 324h1v1h-1zM974 325h1v1h-1zM975 326h1v1h-1zM976 327h1v1h-1zM976 328h1v1h-1zM977 329h1v1h-1zM978 330h1v1h-1zM979 331h1v1h-1zM979 332h1v1h-1zM980 333h1v1h-1zM981 334h1v1h-1zM981 335h1v1h-1zM982 336h1v1h-1zM983 337h1v1h-1zM984 338h1v1h-1zM984 339h1v1h-1zM985 340h1v1h-1zM986 341h1v1h-1zM986 342h1v1h-1zM987 343h1v1h-1zM988 344h1v1h-1zM989 345h1v1h-1zM989 346h1v1h-1zM990 347h1v1h-1zM991 348h1v1h-1zM991 349h1v1h-1zM992 350h1v1h-1zM993 351h1v1h-1zM994 352h1v1h-1zM994 353h1v1h-1zM995 354h1v1h-1zM996 355h1v1h-1zM996 356h1v1h-1zM997 357h1v1h-1zM998 358h1v1h-1zM999 359h1v1h-1zM999 360h1v1h-1zM1000 361h1v1h-1zM1001 362h1v1h-1zM1001 363h1v1h-1zM1002 364h1v1h-1zM1003 365h1v1h-1zM1004 366h1v1h-1zM1004 367h1v1h-1zM1005 368h1v1h-1zM1006 369h1v1h-1zM1006 370h1v1h-1zM1007 371h1v1h-1zM1008 372h1v1h-1zM1009 373h1v1h-1zM1009 374h1v1h-1zM1010 375h1v1h-1zM1011 376h1v1h-1zM1011 377h1v1h-1zM1012 378h1v1h-1zM1013 379h1v1h-1zM1014 380h1v1h-1zM1014 381h1v1h-1zM1015 382h1v1h-1zM1016 383h1v1h-1zM1016 384h1v1h-1zM1017 385h1v1h-1zM1018 386h1v1h-1zM1019 387h1v1h-1zM1019 388h1v1h-1zM1020 389h1v1h-1zM1021 390h1v1h-1zM1021 391h1v1h-1zM1022 392h1v1h-1zM1023 393h1v1h-1zM1024 394h1v1h-1zM1024 395h1v1h-1zM1025 396h1v1h-1zM1026 397h1v1h-1zM1026 398h1v1h-1zM1027 399h1v1h-1zM1028 400h1v1h-1zM1028 401h1v1h-1zM1029 402h1v1h-1zM1030 403h1v1h-1zM1031 404h1v1h-1zM1031 405h1v1h-1zM1032 406h1v1h-1zM1033 407h1v1h-1zM1033 408h1v1h-1zM1034 409h1v1h-1zM1035 410h1v1h-1zM1036 411h1v1h-1zM1036 412h1v1h-1zM1037 413h1v1h-1zM1038 414h1v1h-1zM1038 415h1v1h-1zM1039 416h1v1h-1zM1040 417h1v1h-1zM1041 418h1v1h-1zM1041 419h1v1h-1zM1042 420h1v1h-1zM1043 421h1v1h-1zM1043 422h1v1h-1zM1044 423h1v1h-1zM1045 424h1v1h-1zM1046 425h1v1h-1zM1046 426h1v1h-1zM1047 427h1v1h-1zM1048 428h1v1h-1zM1048 429h1v1h-1zM1049 430h1v1h-1zM1050 431h1v1h-1zM1051 432h1v1h-1zM1051 433h1v1h-1zM1052 434h1v1h-1zM1053 435h1v1h-1zM1053 436h1v1h-1zM1054 437h1v1h-1zM1055 438h1v1h-1zM1056 439h1v1h-1zM1056 440h1v1h-1zM1057 441h1v1h-1zM1058 442h1v1h-1zM1058 443h1v1h-1zM1059 444h1v1h-1zM1060 445h1v1h-1zM1061 446h1v1h-1zM1061 447h1v1h-1zM1062 448h1v1h-1zM1063 449h1v1h-1zM1063 450h1v1h-1zM1064 451h1v1h-1zM1065 452h1v1h-1zM1066 453h1v1h-1zM1066 454h1v1h-1zM1067 455h1v1h-1zM1068 456h1v1h-1zM1068 457h1v1h-1zM1069 458h1v1h-1zM1070 459h1v1h-1zM1071 460h1v1h-1zM1071 461h1v1h-1zM1072 462h1v1h-1zM1073 463h1v1h-1zM1073 464h1v1h-1zM1074 465h1v1h-1zM1075 466h1v1h-1zM1076 467h1v1h-1zM1076 468h1v1h-1zM1077 469h1v1h-1zM1078 470h1v1h-1zM1078 471h1v1h-1zM1079 472h1v1h-1zM1080 473h1v1h-1zM1081 474h1v1h-1zM1081 475h1v1h-1zM1082 476h1v1h-1zM1083 477h1v1h-1zM1083 478h1v1h-1zM1084 479h1v1h-1zM1085 480h1v1h-1zM1086 481h1v1h-1zM1086 482h1v1h-1zM1087 483h1v1h-1zM1088 484h1v1h-1zM1088 485h1v1h-1zM1089 486h1v1h-1zM1090 487h1v1h-1zM1090 488h1v1h-1zM1091 489h1v1h-1zM1092 490h1v1h-1zM1093 491h1v1h-1zM1093 492h1v1h-1zM1094 493h1v1h-1zM1095 494h1v1h-1zM1095 495h1v1h-1zM1096 496h1v1h-1zM1097 497h1v1h-1zM1098 498h1v1h-1zM1098 499h1v1h-1zM1099 500h1v1h-1zM1100 501h1v1h-1zM1100 502h1v1h-1zM1101 503h1v1h-1zM1102 504h1v1h-1zM1103 505h1v1h-1zM1103 506h1v1h-1zM1104 507h1v1h-1zM1105 508h1v1h-1zM1105 509h1v1h-1zM1106 510h1v1h-1zM1107 511h1v1h-1zM1108 512h1v1h-1zM1108 513h1v1h-1zM1109 514h1v1h-1zM1110 515h1v1h-1zM1110 516h1v1h-1zM1111 517h1v1h-1zM1112 518h1v1h-1zM1113 519h1v1h-1zM1113 520h1v1h-1zM1114 521h1v1h-1zM1115 522h1v1h-1zM1115 523h1v1h-1zM1116 524h1v1h-1zM1117 525h1v1h-1zM1118 526h1v1h-1zM1118 527h1v1h-1zM1119 528h1v1h-1zM1120 529h1v1h-1zM1120 530h1v1h-1zM1121 531h1v1h-1z" fill="#000"/>
<path d="M990 351h3v1h-3zM986 352h4v1h-4zM983 353h3v1h-3zM980 354h3v1h-3zM976 355h4v1h-4zM973 356h3v1h-3zM970 357h3v1h-3zM966 358h4v1h-4zM963 359h3v1h-3zM960 360h3v1h-3zM956 361h4v1h-4zM953 362h3v1h-3zM950 363h3v1h-3zM947 364h3v1h-3zM943 365h4v1h-4zM940 366h3v1h-3zM937 367h3v1h-3zM933 368h4v1h-4zM930 369h3v1h-3zM927 370h3v1h-3zM923 371h4v1h-4zM920 372h3v1h-3zM917 373h3v1h-3zM914 374h3v1h-3zM910 375h4v1h-4zM907 376h3v1h-3zM904 377h3v1h-3zM900 378h4v1h-4zM897 379h3v1h-3zM894 380h3v1h-3zM890 381h4v1h-4zM887 382h3v1h-3zM884 383h3v1h-3zM880 384h4v1h-4zM877 385h3v1h-3zM874 386h3v1h-3zM871 387h3v1h-3zM867 388h4v1h-4zM864 389h3v1h-3zM861 390h3v1h-3zM857 391h4v1h-4zM854 392h3v1h-3zM851 393h3v1h-3zM847 394h4v1h-4zM844 395h3v1h-3zM841 396h3v1h-3zM837 397h4v1h-4zM834 398h3v1h-3zM831 399h3v1h-3zM828 400h3v1h-3zM824 401h4v1h-4zM821 402h3v1h-3zM818 403h3v1h-3zM814 404h4v1h-4zM811 405h3v1h-3zM808 406h3v1h-3zM804 407h4v1h-4zM801 408h3v1h-3zM798 409h3v1h-3zM795 410h3v1h-3zM791 411h4v1h-4zM788 412h3v1h-3zM785 413h3v1h-3zM781 414h4v1h-4zM778 415h3v1h-3zM775 416h3v1h-3zM771 417h4v1h-4zM768 418h3v1h-3zM765 419h3v1h-3zM761 420h4v1h-4zM758 421h3v1h-3zM755 422h3v1h-3zM752 423h3v1h-3zM748 424h4v1h-4zM745 425h3v1h-3zM742 426h3v1h-3zM738 427h4v1h-4zM735 428h3v1h-3zM732 429h3v1h-3zM728 430h4v1h-4zM725 431h3v1h-3zM722 432h3v1h-3zM718 433h4v1h-4zM715 434h3v1h-3zM712 435h3v1h-3zM709 436h3v1h-3zM705 437h4v1h-4zM702 438h3v1h-3zM699 439h3v1h-3zM695 440h4v1h-4zM692 441h3v1h-3zM689 442h3v1h-3zM685 443h4v1h-4zM682 444h3v1h-3zM679 445h3v1h-3zM675 446h4v1h-4zM672 447h3v1h-3zM669 448h3v1h-3zM666 449h3v1h-3zM662 450h4v1h-4zM659 451h3v1h-3zM656 452h3v1h-3zM652 453h4v1h-4zM649 454h3v1h-3zM646 455h3v1h-3zM642 456h4v1h-4zM639 457h3v1h-3zM636 458h3v1h-3zM633 459h3v1h-3zM629 460h4v1h-4zM626 461h3v1h-3zM623 462h3v1h-3zM619 463h4v1h-4zM616 464h3v1h-3zM613 465h3v1h-3zM609 466h4v1h-4zM606 467h3v1h-3zM603 468h3v1h-3zM599 469h4v1h-4zM596 470h3v1h-3zM593 471h3v1h-3zM590 472h3v1h-3zM586 473h4v1h-4zM583 474h3v1h-3zM580 475h3v1h-3zM576 476h4v1h-4zM573 477h3v1h-3z" fill="#000"/>
<path d="M990 384h2v1h-2zM986 385h4v1h-4zM982 386h4v1h-4zM977 387h5v1h-5zM973 388h4v1h-4zM969 389h4v1h-4zM964 390h5v1h-5zM960 391h4v1h-4zM956 392h4v1h-4zM952 393h4v1h-4zM947 394h5v1h-5zM943 395h4v1h-4zM939 396h4v1h-4zM934 397h5v1h-5zM930 398h4v1h-4zM926 399h4v1h-4zM922 400h4v1h-4zM917 401h5v1h-5zM913 402h4v1h-4zM909 403h4v1h-4zM904 404h5v1h-5zM900 405h4v1h-4zM896 406h4v1h-4zM892 407h4v1h-4zM887 408h5v1h-5zM883 409h4v1h-4zM879 410h4v1h-4zM874 411h5v1h-5zM870 412h4v1h-4zM866 413h4v1h-4zM862 414h4v1h-4zM857 415h5v1h-5zM853 416h4v1h-4zM849 417h4v1h-4zM844 418h5v1h-5zM840 419h4v1h-4zM836 420h4v1h-4zM832 421h4v1h-4zM827 422h5v1h-5zM823 423h4v1h-4zM819 424h4v1h-4zM815 425h4v1h-4zM810 426h5v1h-5zM806 427h4v1h-4zM802 428h4v1h-4zM797 429h5v1h-5zM793 430h4v1h-4zM789 431h4v1h-4zM785 432h4v1h-4zM780 433h5v1h-5zM776 434h4v1h-4zM772 435h4v1h-4zM767 436h5v1h-5zM763 437h4v1h-4zM759 438h4v1h-4zM755 439h4v1h-4zM750 440h5v1h-5zM746 441h4v1h-4zM742 442h4v1h-4zM737 443h5v1h-5zM733 444h4v1h-4zM729 445h4v1h-4zM725 446h4v1h-4zM720 447h5v1h-5zM716 448h4v1h-4zM712 449h4v1h-4zM707 450h5v1h-5zM703 451h4v1h-4zM699 452h4v1h-4zM695 453h4v1h-4zM690 454h5v1h-5zM686 455h4v1h-4zM682 456h4v1h-4zM677 457h5v1h-5zM673 458h4v1h-4zM669 459h4v1h-4zM665 460h4v1h-4zM660 461h5v1h-5zM656 462h4v1h-4zM652 463h4v1h-4zM648 464h4v1h-4zM643 465h5v1h-5zM639 466h4v1h-4zM635 467h4v1h-4zM630 468h5v1h-5zM626 469h4v1h-4zM622 470h4v1h-4zM618 471h4v1h-4zM613 472h5v1h-5zM609 473h4v1h-4zM605 474h4v1h-4zM600 475h5v1h-5zM596 476h4v1h-4zM592 477h4v1h-4zM588 478h4v1h-4zM583 479h5v1h-5zM579 480h4v1h-4zM575 481h4v1h-4zM573 482h2v1h-2z" fill="#000"/>
<path d="M875 252h1v1h-1zM873 253h2v1h-2zM872 254h1v1h-1zM871 255h1v1h-1zM869 256h2v1h-2zM868 257h1v1h-1zM867 258h1v1h-1zM865 259h2v1h-2zM864 260h1v1h-1zM863 261h1v1h-1zM861 262h2v1h-2zM860 263h1v1h-1zM852 269h2v1h-2zM851 270h1v1h-1zM850 271h1v1h-1zM848 272h2v1h-2zM847 273h1v1h-1zM846 274h1v1h-1zM844 275h2v1h-2zM843 276h1v1h-1zM842 277h1v1h-1zM840 278h2v1h-2zM839 279h1v1h-1zM838 280h1v1h-1zM836 281h2v1h-2zM829 287h1v1h-1zM827 288h2v1h-2zM826 289h1v1h-1zM825 290h1v1h-1zM823 291h2v1h-2zM822 292h1v1h-1zM821 293h1v1h-1zM819 294h2v1h-2zM818 295h1v1h-1zM817 296h1v1h-1zM815 297h2v1h-2zM814 298h1v1h-1zM813 299h1v1h-1zM812 300h1v1h-1zM805 305h1v1h-1zM804 306h1v1h-1zM802 307h2v1h-2zM801 308h1v1h-1zM800 309h1v1h-1zM798 310h2v1h-2zM797 311h1v1h-1zM796 312h1v1h-1zM794 313h2v1h-2zM793 314h1v1h-1zM792 315h1v1h-1zM790 316h2v1h-2zM789 317h1v1h-1zM788 318h1v1h-1zM781 323h1v1h-1zM780 324h1v1h-1zM778 325h2v1h-2zM777 326h1v1h-1zM776 327h1v1h-1zM775 328h1v1h-1zM773 329h2v1h-2zM772 330h1v1h-1zM771 331h1v1h-1zM769 332h2v1h-2zM768 333h1v1h-1zM767 334h1v1h-1zM765 335h2v1h-2zM764 336h1v1h-1zM757 341h1v1h-1zM756 342h1v1h-1zM755 343h1v1h-1zM753 344h2v1h-2zM752 345h1v1h-1zM751 346h1v1h-1zM750 347h1v1h-1zM748 348h2v1h-2zM747 349h1v1h-1zM746 350h1v1h-1zM744 351h2v1h-2zM743 352h1v1h-1zM742 353h1v1h-1zM740 354h2v1h-2zM732 360h2v1h-2zM731 361h1v1h-1zM730 362h1v1h-1zM728 363h2v1h-2zM727 364h1v1h-1zM726 365h1v1h-1zM725 366h1v1h-1zM723 367h2v1h-2zM722 368h1v1h-1zM721 369h1v1h-1zM719 370h2v1h-2zM718 371h1v1h-1zM717 372h1v1h-1zM716 373h1v1h-1zM709 378h1v1h-1zM707 379h2v1h-2zM706 380h1v1h-1zM705 381h1v1h-1zM703 382h2v1h-2zM702 383h1v1h-1zM701 384h1v1h-1zM700 385h1v1h-1zM698 386h2v1h-2zM697 387h1v1h-1zM696 388h1v1h-1zM694 389h2v1h-2zM693 390h1v1h-1zM692 391h1v1h-1zM685 396h1v1h-1zM684 397h1v1h-1zM682 398h2v1h-2zM681 399h1v1h-1zM680 400h1v1h-1zM678 401h2v1h-2zM677 402h1v1h-1zM676 403h1v1h-1zM674 404h2v1h-2zM673 405h1v1h-1zM672 406h1v1h-1zM671 407h1v1h-1zM669 408h2v1h-2zM668 409h1v1h-1zM661 414h1v1h-1zM660 415h1v1h-1zM659 416h1v1h-1zM657 417h2v1h-2zM656 418h1v1h-1zM655 419h1v1h-1zM653 420h2v1h-2zM652 421h1v1h-1zM651 422h1v1h-1zM649 423h2v1h-2zM648 424h1v1h-1zM647 425h1v1h-1zM646 426h1v1h-1zM644 427h2v1h-2zM636 433h2v1h-2zM635 434h1v1h-1zM634 435h1v1h-1zM632 436h2v1h-2zM631 437h1v1h-1zM630 438h1v1h-1zM628 439h2v1h-2zM627 440h1v1h-1zM626 441h1v1h-1zM624 442h2v1h-2zM623 443h1v1h-1zM622 444h1v1h-1zM621 445h1v1h-1zM620 446h1v1h-1zM613 451h1v1h-1zM611 452h2v1h-2zM610 453h1v1h-1zM609 454h1v1h-1zM607 455h2v1h-2zM606 456h1v1h-1zM605 457h1v1h-1zM603 458h2v1h-2zM602 459h1v1h-1zM601 460h1v1h-1zM599 461h2v1h-2zM598 462h1v1h-1zM597 463h1v1h-1zM596 464h1v1h-1zM589 469h1v1h-1zM588 470h1v1h-1zM586 471h2v1h-2zM585 472h1v1h-1zM584 473h1v1h-1zM582 474h2v1h-2zM581 475h1v1h-1zM580 476h1v1h-1zM578 477h2v1h-2zM577 478h1v1h-1zM576 479h1v1h-1zM574 480h2v1h-2zM573 481h1v1h-1zM572 482h1v1h-1z" fill="#000"/>
<path d="M1145 400h1v1h-1zM1145 401h1v1h-1zM1144 402h1v1h-1zM1144 403h1v1h-1zM1143 404h1v1h-1zM1142 405h1v1h-1zM1142 406h1v1h-1zM1141 407h1v1h-1zM1140 408h1v1h-1zM1140 409h1v1h-1zM1139 410h1v1h-1zM1139 411h1v1h-1zM1138 412h1v1h-1zM1137 413h1v1h-1zM1137 414h1v1h-1zM1136 415h1v1h-1zM1135 416h1v1h-1zM1135 417h1v1h-1zM1134 418h1v1h-1zM1134 419h1v1h-1zM1133 420h1v1h-1zM1132 421h1v1h-1zM1132 422h1v1h-1zM1131 423h1v1h-1zM1130 424h1v1h-1zM1130 425h1v1h-1zM1129 426h1v1h-1zM1129 427h1v1h-1zM1128 428h1v1h-1zM1127 429h1v1h-1zM1127 430h1v1h-1zM1126 431h1v1h-1zM1125 432h1v1h-1zM1125 433h1v1h-1zM1124 434h1v1h-1zM1124 435h1v1h-1zM1123 436h1v1h-1zM1122 437h1v1h-1zM1122 438h1v1h-1zM1121 439h1v1h-1zM1120 440h1v1h-1zM1120 441h1v1h-1zM1119 442h1v1h-1zM1119 443h1v1h-1zM1118 444h1v1h-1zM1117 445h1v1h-1zM1117 446h1v1h-1zM1116 447h1v1h-1zM1115 448h1v1h-1zM1115 449h1v1h-1zM1114 450h1v1h-1zM1114 451h1v1h-1zM1113 452h1v1h-1zM1112 453h1v1h-1zM1112 454h1v1h-1zM1111 455h1v1h-1zM1110 456h1v1h-1zM1110 457h1v1h-1zM1109 458h1v1h-1zM1109 459h1v1h-1zM1108 460h1v1h-1zM1107 461h1v1h-1zM1107 462h1v1h-1zM1106 463h1v1h-1zM1105 464h1v1h-1zM1105 465h1v1h-1zM1104 466h1v1h-1zM1104 467h1v1h-1zM1103 468h1v1h-1zM1102 469h1v1h-1zM1102 470h1v1h-1zM1101 471h1v1h-1zM1100 472h1v1h-1zM1100 473h1v1h-1zM1099 474h1v1h-1zM1099 475h1v1h-1zM1098 476h1v1h-1zM1097 477h1v1h-1zM1097 478h1v1h-1zM1096 479h1v1h-1zM1095 480h1v1h-1zM1095 481h1v1h-1zM1094 482h1v1h-1zM1094 483h1v1h-1zM1093 484h1v1h-1zM1092 485h1v1h-1zM1092 486h1v1h-1zM1091 487h1v1h-1zM1090 488h1v1h-1zM1090 489h1v1h-1zM1089 490h1v1h-1zM1089 491h1v1h-1zM1088 492h1v1h-1zM1087 493h1v1h-1zM1087 494h1v1h-1zM1086 495h1v1h-1zM1085 496h1v1h-1zM1085 497h1v1h-1zM1084 498h1v1h-1zM1084 499h1v1h-1zM1083 500h1v1h-1zM1082 501h1v1h-1zM1082 502h1v1h-1zM1081 503h1v1h-1zM1080 504h1v1h-1zM1080 505h1v1h-1zM1079 506h1v1h-1zM1079 507h1v1h-1zM1078 508h1v1h-1zM1077 509h1v1h-1zM1077 510h1v1h-1zM1076 511h1v1h-1zM1075 512h1v1h-1zM1075 513h1v1h-1zM1074 514h1v1h-1zM1074 515h1v1h-1zM1073 516h1v1h-1zM1072 517h1v1h-1zM1072 518h1v1h-1zM1071 519h1v1h-1zM1070 520h1v1h-1zM1070 521h1v1h-1zM1069 522h1v1h-1zM1069 523h1v1h-1zM1068 524h1v1h-1zM1067 525h1v1h-1zM1067 526h1v1h-1zM1066 527h1v1h-1zM1065 528h1v1h-1zM1065 529h1v1h-1zM1064 530h1v1h-1zM1064 531h1v1h-1zM1063 532h1v1h-1zM1062 533h1v1h-1zM1062 534h1v1h-1zM1061 535h1v1h-1zM1060 536h1v1h-1zM1060 537h1v1h-1zM1059 538h1v1h-1zM1059 539h1v1h-1zM1058 540h1v1h-1zM1057 541h1v1h-1zM1057 542h1v1h-1zM1056 543h1v1h-1zM1055 544h1v1h-1zM1055 545h1v1h-1zM1054 546h1v1h-1zM1054 547h1v1h-1zM1053 548h1v1h-1zM1052 549h1v1h-1zM1052 550h1v1h-1zM1051 551h1v1h-1zM1050 552h1v1h-1zM1050 553h1v1h-1zM1049 554h1v1h-1zM1049 555h1v1h-1zM1048 556h1v1h-1zM1047 557h1v1h-1zM1047 558h1v1h-1zM1046 559h1v1h-1zM1045 560h1v1h-1zM1045 561h1v1h-1zM1044 562h1v1h-1zM1044 563h1v1h-1zM1043 564h1v1h-1zM1042 565h1v1h-1zM1042 566h1v1h-1z" fill="#009600"/>
<path d="M1531 522h10v1h-10zM1517 523h14v1h-14zM1504 524h13v1h-13zM1490 525h14v1h-14zM1477 526h13v1h-13zM1463 527h14v1h-14zM1450 528h13v1h-13zM1436 529h14v1h-14zM1423 530h13v1h-13zM1409 531h14v1h-14zM1396 532h13v1h-13zM1382 533h14v1h-14zM1369 534h13v1h-13zM1355 535h14v1h-14zM1342 536h13v1h-13zM1328 537h14v1h-14zM1315 538h13v1h-13zM1301 539h14v1h-14zM1288 540h13v1h-13zM1274 541h14v1h-14zM1261 542h13v1h-13zM1247 543h14v1h-14zM1234 544h13v1h-13zM1220 545h14v1h-14zM1207 546h13v1h-13zM1193 547h14v1h-14zM1180 548h13v1h-13zM1166 549h14v1h-14zM1153 550h13v1h-13zM1139 551h14v1h-14zM1126 552h13v1h-13zM1113 553h13v1h-13zM1099 554h14v1h-14zM1086 555h13v1h-13zM1072 556h14v1h-14zM1059 557h13v1h-13zM1045 558h14v1h-14zM1037 559h8v1h-8z" fill="#000"/>
<path d="M1350 499h2v1h-2zM1349 500h1v1h-1zM1347 501h2v1h-2zM1345 502h2v1h-2zM1343 503h2v1h-2zM1342 504h1v1h-1zM1340 505h2v1h-2zM1338 506h2v1h-2zM1336 507h2v1h-2zM1335 508h1v1h-1zM1333 509h2v1h-2zM1331 510h2v1h-2zM1329 511h2v1h-2zM1328 512h1v1h-1zM1326 513h2v1h-2zM1324 514h2v1h-2zM1322 515h2v1h-2zM1321 516h1v1h-1zM1319 517h2v1h-2zM1317 518h2v1h-2zM1315 519h2v1h-2zM1314 520h1v1h-1zM1312 521h2v1h-2zM1310 522h2v1h-2zM1308 523h2v1h-2zM1307 524h1v1h-1zM1305 525h2v1h-2zM1303 526h2v1h-2zM1301 527h2v1h-2zM1300 528h1v1h-1zM1298 529h2v1h-2zM1296 530h2v1h-2zM1294 531h2v1h-2zM1293 532h1v1h-1zM1291 533h2v1h-2zM1289 534h2v1h-2zM1287 535h2v1h-2zM1286 536h1v1h-1zM1284 537h2v1h-2zM1282 538h2v1h-2zM1280 539h2v1h-2zM1279 540h1v1h-1zM1277 541h2v1h-2zM1275 542h2v1h-2zM1273 543h2v1h-2zM1272 544h1v1h-1zM1270 545h2v1h-2zM1268 546h2v1h-2zM1267 547h1v1h-1z" fill="#000"/>
<path d="M1511 539h1v1h-1zM1510 540h1v1h-1zM1509 541h1v1h-1zM1508 542h1v1h-1zM1507 543h1v1h-1zM1506 544h1v1h-1zM1505 545h1v1h-1zM1504 546h1v1h-1zM1503 547h1v1h-1zM1502 548h1v1h-1zM1501 549h1v1h-1zM1500 550h1v1h-1zM1499 551h1v1h-1zM1498 552h1v1h-1zM1497 553h1v1h-1zM1496 554h1v1h-1zM1494 555h2v1h-2zM1493 556h1v1h-1zM1492 557h1v1h-1zM1491 558h1v1h-1zM1490 559h1v1h-1zM1489 560h1v1h-1zM1488 561h1v1h-1zM1487 562h1v1h-1zM1486 563h1v1h-1zM1485 564h1v1h-1zM1484 565h1v1h-1zM1483 566h1v1h-1zM1482 567h1v1h-1zM1481 568h1v1h-1zM1480 569h1v1h-1zM1479 570h1v1h-1zM1478 571h1v1h-1zM1477 572h1v1h-1zM1475 573h2v1h-2zM1474 574h1v1h-1zM1473 575h1v1h-1zM1472 576h1v1h-1zM1471 577h1v1h-1zM1470 578h1v1h-1zM1469 579h1v1h-1zM1468 580h1v1h-1zM1467 581h1v1h-1zM1466 582h1v1h-1zM1465 583h1v1h-1zM1464 584h1v1h-1zM1463 585h1v1h-1zM1462 586h1v1h-1zM1461 587h1v1h-1zM1460 588h1v1h-1zM1459 589h1v1h-1zM1458 590h1v1h-1zM1456 591h2v1h-2zM1455 592h1v1h-1zM1454 593h1v1h-1zM1453 594h1v1h-1zM1452 595h1v1h-1zM1451 596h1v1h-1zM1450 597h1v1h-1zM1449 598h1v1h-1zM1448 599h1v1h-1zM1447 600h1v1h-1zM1446 601h1v1h-1zM1445 602h1v1h-1zM1444 603h1v1h-1zM1443 604h1v1h-1zM1442 605h1v1h-1z" fill="#000"/>
<path d="M1831 211h1v1h-1zM1830 212h1v1h-1zM1830 213h1v1h-1zM1829 214h1v1h-1zM1828 215h1v1h-1zM1827 216h1v1h-1zM1827 217h1v1h-1zM1826 218h1v1h-1zM1825 219h1v1h-1zM1824 220h1v1h-1zM1824 221h1v1h-1zM1823 222h1v1h-1zM1822 223h1v1h-1zM1822 224h1v1h-1zM1821 225h1v1h-1zM1820 226h1v1h-1zM1819 227h1v1h-1zM1819 228h1v1h-1zM1818 229h1v1h-1zM1817 230h1v1h-1zM1816 231h1v1h-1zM1816 232h1v1h-1zM1815 233h1v1h-1zM1814 234h1v1h-1zM1813 235h1v1h-1zM1813 236h1v1h-1zM1812 237h1v1h-1zM1811 238h1v1h-1zM1810 239h1v1h-1zM1810 240h1v1h-1zM1809 241h1v1h-1zM1808 242h1v1h-1zM1808 243h1v1h-1zM1807 244h1v1h-1zM1806 245h1v1h-1zM1805 246h1v1h-1zM1805 247h1v1h-1zM1804 248h1v1h-1zM1803 249h1v1h-1zM1802 250h1v1h-1zM1802 251h1v1h-1zM1801 252h1v1h-1zM1800 253h1v1h-1zM1799 254h1v1h-1zM1799 255h1v1h-1zM1798 256h1v1h-1zM1797 257h1v1h-1zM1797 258h1v1h-1zM1796 259h1v1h-1zM1795 260h1v1h-1zM1794 261h1v1h-1zM1794 262h1v1h-1zM1793 263h1v1h-1zM1792 264h1v1h-1zM1791 265h1v1h-1zM1791 266h1v1h-1zM1790 267h1v1h-1zM1789 268h1v1h-1zM1788 269h1v1h-1zM1788 270h1v1h-1zM1787 271h1v1h-1zM1786 272h1v1h-1zM1785 273h1v1h-1zM1785 274h1v1h-1zM1784 275h1v1h-1zM1783 276h1v1h-1zM1783 277h1v1h-1zM1782 278h1v1h-1zM1781 279h1v1h-1zM1780 280h1v1h-1zM1780 281h1v1h-1zM1779 282h1v1h-1zM1778 283h1v1h-1zM1777 284h1v1h-1zM1777 285h1v1h-1zM1776 286h1v1h-1zM1775 287h1v1h-1zM1774 288h1v1h-1zM1774 289h1v1h-1zM1773 290h1v1h-1zM1772 291h1v1h-1zM1772 292h1v1h-1zM1771 293h1v1h-1zM1770 294h1v1h-1zM1769 295h1v1h-1zM1769 296h1v1h-1zM1768 297h1v1h-1zM1767 298h1v1h-1zM1766 299h1v1h-1zM1766 300h1v1h-1zM1765 301h1v1h-1zM1764 302h1v1h-1zM1763 303h1v1h-1zM1763 304h1v1h-1zM1762 305h1v1h-1zM1761 306h1v1h-1zM1761 307h1v1h-1zM1760 308h1v1h-1zM1759 309h1v1h-1zM1758 310h1v1h-1zM1758 311h1v1h-1zM1757 312h1v1h-1zM1756 313h1v1h-1zM1755 314h1v1h-1zM1755 315h1v1h-1zM1754 316h1v1h-1zM1753 317h1v1h-1zM1752 318h1v1h-1zM1752 319h1v1h-1zM1751 320h1v1h-1zM1750 321h1v1h-1zM1749 322h1v1h-1zM1749 323h1v1h-1zM1748 324h1v1h-1zM1747 325h1v1h-1zM1747 326h1v1h-1zM1746 327h1v1h-1zM1745 328h1v1h-1zM1744 329h1v1h-1zM1744 330h1v1h-1zM1743 331h1v1h-1zM1742 332h1v1h-1zM1741 333h1v1h-1zM1741 334h1v1h-1zM1740 335h1v1h-1zM1739 336h1v1h-1zM1738 337h1v1h-1zM1738 338h1v1h-1zM1737 339h1v1h-1zM1736 340h1v1h-1zM1736 341h1v1h-1zM1735 342h1v1h-1zM1734 343h1v1h-1zM1733 344h1v1h-1zM1733 345h1v1h-1zM1732 346h1v1h-1zM1731 347h1v1h-1zM1730 348h1v1h-1zM1730 349h1v1h-1zM1729 350h1v1h-1zM1728 351h1v1h-1zM1727 352h1v1h-1zM1727 353h1v1h-1zM1726 354h1v1h-1zM1725 355h1v1h-1zM1725 356h1v1h-1zM1724 357h1v1h-1zM1723 358h1v1h-1zM1722 359h1v1h-1zM1722 360h1v1h-1zM1721 361h1v1h-1zM1720 362h1v1h-1zM1719 363h1v1h-1zM1719 364h1v1h-1zM1718 365h1v1h-1zM1717 366h1v1h-1zM1716 367h1v1h-1zM1716 368h1v1h-1zM1715 369h1v1h-1zM1714 370h1v1h-1zM1713 371h1v1h-1zM1713 372h1v1h-1zM1712 373h1v1h-1zM1711 374h1v1h-1zM1711 375h1v1h-1zM1710 376h1v1h-1zM1709 377h1v1h-1zM1708 378h1v1h-1zM1708 379h1v1h-1zM1707 380h1v1h-1zM1706 381h1v1h-1zM1705 382h1v1h-1zM1705 383h1v1h-1zM1704 384h1v1h-1zM1703 385h1v1h-1zM1702 386h1v1h-1zM1702 387h1v1h-1zM1701 388h1v1h-1zM1700 389h1v1h-1zM1700 390h1v1h-1zM1699 391h1v1h-1zM1698 392h1v1h-1zM1697 393h1v1h-1zM1697 394h1v1h-1zM1696 395h1v1h-1zM1695 396h1v1h-1zM1694 397h1v1h-1zM1694 398h1v1h-1zM1693 399h1v1h-1zM1692 400h1v1h-1zM1691 401h1v1h-1zM1691 402h1v1h-1zM1690 403h1v1h-1zM1689 404h1v1h-1zM1689 405h1v1h-1zM1688 406h1v1h-1zM1687 407h1v1h-1zM1686 408h1v1h-1zM1686 409h1v1h-1zM1685 410h1v1h-1zM1684 411h1v1h-1zM1683 412h1v1h-1zM1683 413h1v1h-1zM1682 414h1v1h-1zM1681 415h1v1h-1zM1680 416h1v1h-1zM1680 417h1v1h-1zM1679 418h1v1h-1zM1678 419h1v1h-1zM1677 420h1v1h-1zM1677 421h1v1h-1zM1676 422h1v1h-1zM1675 423h1v1h-1zM1675 424h1v1h-1zM1674 425h1v1h-1zM1673 426h1v1h-1zM1672 427h1v1h-1zM1672 428h1v1h-1zM1671 429h1v1h-1zM1670 430h1v1h-1zM1669 431h1v1h-1zM1669 432h1v1h-1zM1668 433h1v1h-1zM1667 434h1v1h-1zM1666 435h1v1h-1zM1666 436h1v1h-1zM1665 437h1v1h-1zM1664 438h1v1h-1zM1664 439h1v1h-1zM1663 440h1v1h-1zM1662 441h1v1h-1zM1661 442h1v1h-1zM1661 443h1v1h-1zM1660 444h1v1h-1zM1659 445h1v1h-1zM1658 446h1v1h-1zM1658 447h1v1h-1zM1657 448h1v1h-1zM1656 449h1v1h-1zM1655 450h1v1h-1zM1655 451h1v1h-1zM1654 452h1v1h-1zM1653 453h1v1h-1zM1653 454h1v1h-1zM1652 455h1v1h-1zM1651 456h1v1h-1zM1650 457h1v1h-1zM1650 458h1v1h-1zM1649 459h1v1h-1zM1648 460h1v1h-1zM1647 461h1v1h-1zM1647 462h1v1h-1zM1646 463h1v1h-1zM1645 464h1v1h-1zM1644 465h1v1h-1zM1644 466h1v1h-1zM1643 467h1v1h-1zM1642 468h1v1h-1zM1641 469h1v1h-1zM1641 470h1v1h-1zM1640 471h1v1h-1zM1639 472h1v1h-1zM1639 473h1v1h-1zM1638 474h1v1h-1zM1637 475h1v1h-1zM1636 476h1v1h-1zM1636 477h1v1h-1zM1635 478h1v1h-1zM1634 479h1v1h-1zM1633 480h1v1h-1zM1633 481h1v1h-1zM1632 482h1v1h-1zM1631 483h1v1h-1zM1630 484h1v1h-1zM1630 485h1v1h-1zM1629 486h1v1h-1zM1628 487h1v1h-1zM1628 488h1v1h-1zM1627 489h1v1h-1zM1626 490h1v1h-1zM1625 491h1v1h-1zM1625 492h1v1h-1zM1624 493h1v1h-1zM1623 494h1v1h-1zM1622 495h1v1h-1zM1622 496h1v1h-1zM1621 497h1v1h-1zM1620 498h1v1h-1zM1619 499h1v1h-1zM1619 500h1v1h-1zM1618 501h1v1h-1zM1617 502h1v1h-1zM1617 503h1v1h-1zM1616 504h1v1h-1zM1615 505h1v1h-1zM1614 506h1v1h-1zM1614 507h1v1h-1zM1613 508h1v1h-1zM1612 509h1v1h-1zM1611 510h1v1h-1zM1611 511h1v1h-1zM1610 512h1v1h-1zM1609 513h1v1h-1zM1608 514h1v1h-1zM1608 515h1v1h-1zM1607 516h1v1h-1zM1606 517h1v1h-1zM1605 518h1v1h-1zM1605 519h1v1h-1zM1604 520h1v1h-1zM1603 521h1v1h-1zM1603 522h1v1h-1zM1602 523h1v1h-1zM1601 524h1v1h-1zM1600 525h1v1h-1zM1600 526h1v1h-1zM1599 527h1v1h-1zM1598 528h1v1h-1zM1597 529h1v1h-1zM1597 530h1v1h-1zM1596 531h1v1h-1zM1595 532h1v1h-1zM1594 533h1v1h-1zM1594 534h1v1h-1zM1593 535h1v1h-1zM1592 536h1v1h-1zM1592 537h1v1h-1zM1591 538h1v1h-1zM1590 539h1v1h-1zM1589 540h1v1h-1zM1589 541h1v1h-1zM1588 542h1v1h-1zM1587 543h1v1h-1zM1586 544h1v1h-1zM1586 545h1v1h-1zM1585 546h1v1h-1zM1584 547h1v1h-1zM1583 548h1v1h-1zM1583 549h1v1h-1zM1582 550h1v1h-1zM1581 551h1v1h-1zM1580 552h1v1h-1zM1580 553h1v1h-1zM1579 554h1v1h-1zM1578 555h1v1h-1zM1578 556h1v1h-1zM1577 557h1v1h-1zM1576 558h1v1h-1zM1575 559h1v1h-1zM1575 560h1v1h-1zM1574 561h1v1h-1zM1573 562h1v1h-1zM1572 563h1v1h-1zM1572 564h1v1h-1zM1571 565h1v1h-1zM1570 566h1v1h-1zM1569 567h1v1h-1zM1569 568h1v1h-1zM1568 569h1v1h-1zM1567 570h1v1h-1zM1567 571h1v1h-1zM1566 572h1v1h-1zM1565 573h1v1h-1zM1564 574h1v1h-1zM1564 575h1v1h-1zM1563 576h1v1h-1zM1562 577h1v1h-1zM1561 578h1v1h-1zM1561 579h1v1h-1zM1560 580h1v1h-1zM1559 581h1v1h-1zM1558 582h1v1h-1zM1558 583h1v1h-1zM1557 584h1v1h-1zM1556 585h1v1h-1zM1556 586h1v1h-1zM1555 587h1v1h-1zM1554 588h1v1h-1zM1553 589h1v1h-1zM1553 590h1v1h-1zM1552 591h1v1h-1zM1551 592h1v1h-1zM1550 593h1v1h-1zM1550 594h1v1h-1zM1549 595h1v1h-1zM1548 596h1v1h-1zM1547 597h1v1h-1zM1547 598h1v1h-1z" fill="#000"/>
<path d="M1475 428h34v1h-34zM1466 429h9v1h-9zM1509 429h8v1h-8zM1460 430h6v1h-6zM1517 430h7v1h-7zM1455 431h5v1h-5zM1524 431h5v1h-5zM1450 432h5v1h-5zM1529 432h4v1h-4zM1446 433h4v1h-4zM1533 433h4v1h-4zM1442 434h4v1h-4zM1537 434h4v1h-4zM1439 435h3v1h-3zM1541 435h3v1h-3zM1436 436h3v1h-3zM1544 436h4v1h-4zM1433 437h3v1h-3zM1548 437h3v1h-3zM1430 438h3v1h-3zM1551 438h2v1h-2zM1427 439h3v1h-3zM1553 439h3v1h-3zM1425 440h2v1h-2zM1556 440h2v1h-2zM1423 441h2v1h-2zM1558 441h3v1h-3zM1420 442h3v1h-3zM1561 442h2v1h-2zM1418 443h2v1h-2zM1563 443h2v1h-2zM1416 444h2v1h-2zM1565 444h2v1h-2zM1414 445h2v1h-2zM1567 445h3v1h-3zM1412 446h2v1h-2zM1570 446h1v1h-1zM1410 447h2v1h-2zM1571 447h2v1h-2zM1408 448h2v1h-2zM1573 448h2v1h-2zM1406 449h2v1h-2zM1575 449h2v1h-2zM1405 450h1v1h-1zM1577 450h2v1h-2zM1403 451h2v1h-2zM1579 451h1v1h-1zM1401 452h2v1h-2zM1580 452h2v1h-2zM1400 453h1v1h-1zM1582 453h2v1h-2zM1398 454h2v1h-2zM1584 454h1v1h-1zM1397 455h1v1h-1zM1585 455h2v1h-2zM1395 456h2v1h-2zM1587 456h1v1h-1zM1394 457h1v1h-1zM1588 457h1v1h-1zM1393 458h1v1h-1zM1589 458h2v1h-2zM1391 459h2v1h-2zM1591 459h1v1h-1zM1390 460h1v1h-1zM1592 460h2v1h-2zM1389 461h1v1h-1zM1594 461h1v1h-1zM1387 462h2v1h-2zM1595 462h1v1h-1zM1386 463h1v1h-1zM1596 463h1v1h-1zM1385 464h1v1h-1zM1597 464h1v1h-1zM1384 465h1v1h-1zM1598 465h2v1h-2zM1383 466h1v1h-1zM1600 466h1v1h-1zM1382 467h1v1h-1zM1601 467h1v1h-1zM1381 468h1v1h-1zM1602 468h1v1h-1zM1379 469h2v1h-2zM1603 469h1v1h-1zM1378 470h1v1h-1zM1604 470h1v1h-1zM1605 471h1v1h-1zM1376 472h1v1h-1zM1606 472h1v1h-1zM1375 473h1v1h-1zM1607 473h1v1h-1zM1374 474h1v1h-1zM1608 474h1v1h-1zM1374 475h1v1h-1zM1609 475h1v1h-1zM1373 476h1v1h-1zM1610 476h1v1h-1zM1372 477h1v1h-1zM1611 477h1v1h-1zM1371 478h1v1h-1zM1611 478h1v1h-1zM1370 479h1v1h-1zM1612 479h1v1h-1zM1369 480h1v1h-1zM1613 480h1v1h-1zM1368 481h1v1h-1zM1614 481h1v1h-1zM1368 482h1v1h-1zM1615 482h1v1h-1zM1367 483h1v1h-1zM1616 483h1v1h-1zM1366 484h1v1h-1zM1616 484h1v1h-1zM1365 485h1v1h-1zM1617 485h1v1h-1zM1365 486h1v1h-1zM1618 486h1v1h-1zM1364 487h1v1h-1zM1618 487h1v1h-1zM1363 488h1v1h-1zM1619 488h1v1h-1zM1363 489h1v1h-1zM1620 489h1v1h-1zM1362 490h1v1h-1zM1620 490h1v1h-1zM1361 491h1v1h-1zM1621 491h1v1h-1zM1361 492h1v1h-1zM1622 492h1v1h-1zM1360 493h1v1h-1zM1622 493h1v1h-1zM1359 494h1v1h-1zM1623 494h1v1h-1zM1359 495h1v1h-1zM1624 495h1v1h-1zM1358 496h1v1h-1zM1624 496h1v1h-1zM1358 497h1v1h-1zM1625 497h1v1h-1zM1357 498h1v1h-1zM1625 498h1v1h-1zM1357 499h1v1h-1zM1626 499h1v1h-1zM1356 500h1v1h-1zM1626 500h1v1h-1zM1356 501h1v1h-1zM1627 501h1v1h-1zM1355 502h1v1h-1zM1627 502h1v1h-1zM1355 503h1v1h-1zM1628 503h1v1h-1zM1354 504h1v1h-1zM1628 504h1v1h-1zM1354 505h1v1h-1zM1629 505h1v1h-1zM1353 506h1v1h-1zM1629 506h1v1h-1zM1353 507h1v1h-1zM1629 507h1v1h-1zM1353 508h1v1h-1zM1630 508h1v1h-1zM1352 509h1v1h-1zM1630 509h1v1h-1zM1352 510h1v1h-1zM1631 510h1v1h-1zM1352 511h1v1h-1zM1631 511h1v1h-1zM1351 512h1v1h-1zM1631 512h1v1h-1zM1351 513h1v1h-1zM1632 513h1v1h-1zM1351 514h1v1h-1zM1632 514h1v1h-1zM1350 515h1v1h-1zM1632 515h1v1h-1zM1350 516h1v1h-1zM1632 516h1v1h-1zM1350 517h1v1h-1zM1633 517h1v1h-1zM1349 518h1v1h-1zM1633 518h1v1h-1zM1349 519h1v1h-1zM1633 519h1v1h-1zM1349 520h1v1h-1zM1634 520h1v1h-1zM1349 521h1v1h-1zM1634 521h1v1h-1zM1348 522h1v1h-1zM1634 522h1v1h-1zM1348 523h1v1h-1zM1634 523h1v1h-1zM1348 524h1v1h-1zM1634 524h1v1h-1zM1348 525h1v1h-1zM1635 525h1v1h-1zM1348 526h1v1h-1zM1635 526h1v1h-1zM1347 527h1v1h-1zM1635 527h1v1h-1zM1347 528h1v1h-1zM1635 528h1v1h-1zM1347 529h1v1h-1zM1635 529h1v1h-1zM1347 530h1v1h-1zM1635 530h1v1h-1zM1347 531h1v1h-1zM1636 531h1v1h-1zM1347 532h1v1h-1zM1636 532h1v1h-1zM1347 533h1v1h-1zM1636 533h1v1h-1zM1347 534h1v1h-1zM1636 534h1v1h-1zM1346 535h1v1h-1zM1636 535h1v1h-1zM1346 536h1v1h-1zM1636 536h1v1h-1zM1346 537h1v1h-1zM1636 537h1v1h-1zM1346 538h1v1h-1zM1636 538h1v1h-1zM1346 539h1v1h-1zM1636 539h1v1h-1zM1346 540h1v1h-1zM1636 540h1v1h-1zM1346 541h1v1h-1zM1636 541h1v1h-1zM1346 542h1v1h-1zM1636 542h1v1h-1zM1346 543h1v1h-1zM1636 543h1v1h-1zM1346 544h1v1h-1zM1636 544h1v1h-1zM1346 545h1v1h-1zM1636 545h1v1h-1zM1346 546h1v1h-1zM1636 546h1v1h-1zM1346 547h1v1h-1zM1636 547h1v1h-1zM1346 548h1v1h-1zM1636 548h1v1h-1zM1347 549h1v1h-1zM1636 549h1v1h-1zM1347 550h1v1h-1zM1636 550h1v1h-1zM1347 551h1v1h-1zM1636 551h1v1h-1zM1347 552h1v1h-1zM1636 552h1v1h-1zM1347 553h1v1h-1zM1635 553h1v1h-1zM1347 554h1v1h-1zM1635 554h1v1h-1zM1347 555h1v1h-1zM1635 555h1v1h-1zM1347 556h1v1h-1zM1635 556h1v1h-1zM1348 557h1v1h-1zM1635 557h1v1h-1zM1348 558h1v1h-1zM1635 558h1v1h-1zM1348 559h1v1h-1zM1634 559h1v1h-1zM1348 560h1v1h-1zM1634 560h1v1h-1zM1348 561h1v1h-1zM1634 561h1v1h-1zM1349 562h1v1h-1zM1634 562h1v1h-1zM1349 563h1v1h-1zM1634 563h1v1h-1zM1349 564h1v1h-1zM1633 564h1v1h-1zM1349 565h1v1h-1zM1633 565h1v1h-1zM1350 566h1v1h-1zM1633 566h1v1h-1zM1350 567h1v1h-1zM1633 567h1v1h-1zM1350 568h1v1h-1zM1632 568h1v1h-1zM1350 569h1v1h-1zM1632 569h1v1h-1zM1351 570h1v1h-1zM1632 570h1v1h-1zM1351 571h1v1h-1zM1631 571h1v1h-1zM1351 572h1v1h-1zM1631 572h1v1h-1zM1352 573h1v1h-1zM1631 573h1v1h-1zM1352 574h1v1h-1zM1630 574h1v1h-1zM1353 575h1v1h-1zM1630 575h1v1h-1zM1353 576h1v1h-1zM1629 576h1v1h-1zM1353 577h1v1h-1zM1629 577h1v1h-1zM1354 578h1v1h-1zM1629 578h1v1h-1zM1354 579h1v1h-1zM1628 579h1v1h-1zM1355 580h1v1h-1zM1628 580h1v1h-1zM1355 581h1v1h-1zM1627 581h1v1h-1zM1356 582h1v1h-1zM1627 582h1v1h-1zM1356 583h1v1h-1zM1626 583h1v1h-1zM1357 584h1v1h-1zM1626 584h1v1h-1zM1357 585h1v1h-1zM1625 585h1v1h-1zM1358 586h1v1h-1zM1625 586h1v1h-1zM1358 587h1v1h-1zM1624 587h1v1h-1zM1359 588h1v1h-1zM1624 588h1v1h-1zM1359 589h1v1h-1zM1623 589h1v1h-1zM1360 590h1v1h-1zM1622 590h1v1h-1zM1361 591h1v1h-1zM1622 591h1v1h-1zM1361 592h1v1h-1zM1621 592h1v1h-1zM1362 593h1v1h-1zM1621 593h1v1h-1zM1362 594h1v1h-1zM1620 594h1v1h-1zM1363 595h1v1h-1zM1619 595h1v1h-1zM1364 596h1v1h-1zM1619 596h1v1h-1zM1365 597h1v1h-1zM1618 597h1v1h-1zM1365 598h1v1h-1zM1617 598h1v1h-1zM1366 599h1v1h-1zM1616 599h1v1h-1zM1367 600h1v1h-1zM1616 600h1v1h-1zM1367 601h1v1h-1zM1615 601h1v1h-1zM1368 602h1v1h-1zM1614 602h1v1h-1zM1369 603h1v1h-1zM1613 603h1v1h-1zM1370 604h1v1h-1zM1613 604h1v1h-1zM1371 605h1v1h-1zM1612 605h1v1h-1zM1372 606h1v1h-1zM1611 606h1v1h-1zM1372 607h1v1h-1zM1610 607h1v1h-1zM1373 608h1v1h-1zM1609 608h1v1h-1zM1374 609h1v1h-1zM1608 609h1v1h-1zM1375 610h1v1h-1zM1607 610h1v1h-1zM1376 611h1v1h-1zM1606 611h1v1h-1zM1605 612h1v1h-1zM1378 613h1v1h-1zM1604 613h1v1h-1zM1379 614h1v1h-1zM1603 614h1v1h-1zM1380 615h1v1h-1zM1602 615h1v1h-1zM1381 616h1v1h-1zM1601 616h1v1h-1zM1382 617h2v1h-2zM1600 617h1v1h-1zM1384 618h1v1h-1zM1599 618h1v1h-1zM1385 619h1v1h-1zM1597 619h2v1h-2zM1386 620h1v1h-1zM1596 620h1v1h-1zM1387 621h1v1h-1zM1595 621h1v1h-1zM1388 622h2v1h-2zM1594 622h1v1h-1zM1390 623h1v1h-1zM1592 623h2v1h-2zM1391 624h1v1h-1zM1591 624h1v1h-1zM1392 625h2v1h-2zM1590 625h1v1h-1zM1394 626h1v1h-1zM1588 626h2v1h-2zM1395 627h1v1h-1zM1587 627h1v1h-1zM1396 628h2v1h-2zM1585 628h2v1h-2zM1398 629h1v1h-1zM1584 629h1v1h-1zM1399 630h2v1h-2zM1582 630h2v1h-2zM1401 631h2v1h-2zM1581 631h1v1h-1zM1403 632h1v1h-1zM1579 632h2v1h-2zM1404 633h2v1h-2zM1577 633h2v1h-2zM1406 634h2v1h-2zM1576 634h1v1h-1zM1408 635h2v1h-2zM1574 635h2v1h-2zM1410 636h2v1h-2zM1572 636h2v1h-2zM1412 637h1v1h-1zM1570 637h2v1h-2zM1413 638h2v1h-2zM1568 638h2v1h-2zM1415 639h3v1h-3zM1566 639h2v1h-2zM1418 640h2v1h-2zM1564 640h2v1h-2zM1420 641h2v1h-2zM1561 641h3v1h-3zM1422 642h2v1h-2zM1559 642h2v1h-2zM1424 643h3v1h-3zM1556 643h3v1h-3zM1427 644h3v1h-3zM1554 644h2v1h-2zM1430 645h2v1h-2zM1551 645h3v1h-3zM1432 646h3v1h-3zM1548 646h3v1h-3zM1435 647h3v1h-3zM1545 647h3v1h-3zM1438 648h4v1h-4zM1542 648h3v1h-3zM1442 649h3v1h-3zM1538 649h4v1h-4zM1445 650h4v1h-4zM1534 650h4v1h-4zM1449 651h5v1h-5zM1530 651h4v1h-4zM1454 652h5v1h-5zM1525 652h5v1h-5zM1459 653h6v1h-6zM1519 653h6v1h-6zM1465 654h8v1h-8zM1511 654h8v1h-8zM1473 655h38v1h-38z" fill="#000"/>
<path d="M1433 573h18v1h-18zM1429 574h4v1h-4zM1451 574h4v1h-4zM1426 575h3v1h-3zM1455 575h3v1h-3zM1424 576h2v1h-2zM1458 576h2v1h-2zM1422 577h2v1h-2zM1460 577h2v1h-2zM1421 578h1v1h-1zM1462 578h1v1h-1zM1419 579h2v1h-2zM1463 579h2v1h-2zM1418 580h1v1h-1zM1465 580h1v1h-1zM1417 581h1v1h-1zM1466 581h1v1h-1zM1416 582h1v1h-1zM1467 582h1v1h-1zM1415 583h1v1h-1zM1468 583h1v1h-1zM1414 584h1v1h-1zM1469 584h1v1h-1zM1414 585h1v1h-1zM1469 585h1v1h-1zM1413 586h1v1h-1zM1470 586h1v1h-1zM1413 587h1v1h-1zM1470 587h1v1h-1zM1412 588h1v1h-1zM1471 588h1v1h-1zM1412 589h1v1h-1zM1471 589h1v1h-1zM1412 590h1v1h-1zM1471 590h1v1h-1zM1412 591h1v1h-1zM1471 591h1v1h-1zM1412 592h1v1h-1zM1471 592h1v1h-1zM1412 593h1v1h-1zM1471 593h1v1h-1zM1412 594h1v1h-1zM1471 594h1v1h-1zM1412 595h1v1h-1zM1471 595h1v1h-1zM1412 596h1v1h-1zM1471 596h1v1h-1zM1412 597h1v1h-1zM1471 597h1v1h-1zM1413 598h1v1h-1zM1470 598h1v1h-1zM1413 599h1v1h-1zM1470 599h1v1h-1zM1414 600h1v1h-1zM1469 600h1v1h-1zM1414 601h1v1h-1zM1469 601h1v1h-1zM1415 602h1v1h-1zM1468 602h1v1h-1zM1416 603h1v1h-1zM1467 603h1v1h-1zM1417 604h1v1h-1zM1466 604h1v1h-1zM1418 605h1v1h-1zM1465 605h1v1h-1zM1419 606h2v1h-2zM1463 606h2v1h-2zM1421 607h1v1h-1zM1462 607h1v1h-1zM1422 608h2v1h-2zM1460 608h2v1h-2zM1424 609h2v1h-2zM1458 609h2v1h-2zM1426 610h3v1h-3zM1455 610h3v1h-3zM1429 611h4v1h-4zM1451 611h4v1h-4zM1433 612h18v1h-18z" fill="#33cc33"/>
<path d="M1541 568h17v1h-17zM1536 569h5v1h-5zM1558 569h4v1h-4zM1533 570h3v1h-3zM1562 570h3v1h-3zM1531 571h2v1h-2zM1565 571h3v1h-3zM1529 572h2v1h-2zM1568 572h2v1h-2zM1527 573h2v1h-2zM1570 573h2v1h-2zM1525 574h2v1h-2zM1572 574h1v1h-1zM1524 575h1v1h-1zM1573 575h2v1h-2zM1523 576h1v1h-1zM1575 576h1v1h-1zM1522 577h1v1h-1zM1521 578h1v1h-1zM1577 578h1v1h-1zM1520 579h1v1h-1zM1578 579h1v1h-1zM1519 580h1v1h-1zM1578 580h1v1h-1zM1519 581h1v1h-1zM1579 581h1v1h-1zM1518 582h1v1h-1zM1579 582h1v1h-1zM1518 583h1v1h-1zM1580 583h1v1h-1zM1517 584h1v1h-1zM1580 584h1v1h-1zM1517 585h1v1h-1zM1580 585h1v1h-1zM1517 586h1v1h-1zM1581 586h1v1h-1zM1517 587h1v1h-1zM1581 587h1v1h-1zM1517 588h1v1h-1zM1581 588h1v1h-1zM1517 589h1v1h-1zM1581 589h1v1h-1zM1517 590h1v1h-1zM1581 590h1v1h-1zM1517 591h1v1h-1zM1580 591h1v1h-1zM1518 592h1v1h-1zM1580 592h1v1h-1zM1518 593h1v1h-1zM1580 593h1v1h-1zM1518 594h1v1h-1zM1579 594h1v1h-1zM1519 595h1v1h-1zM1579 595h1v1h-1zM1520 596h1v1h-1zM1578 596h1v1h-1zM1520 597h1v1h-1zM1577 597h1v1h-1zM1521 598h1v1h-1zM1576 598h1v1h-1zM1522 599h1v1h-1zM1575 599h1v1h-1zM1523 600h2v1h-2zM1574 600h1v1h-1zM1525 601h1v1h-1zM1573 601h1v1h-1zM1526 602h2v1h-2zM1571 602h2v1h-2zM1528 603h1v1h-1zM1569 603h2v1h-2zM1529 604h3v1h-3zM1567 604h2v1h-2zM1532 605h2v1h-2zM1564 605h3v1h-3zM1534 606h4v1h-4zM1561 606h3v1h-3zM1538 607h6v1h-6zM1555 607h6v1h-6zM1544 608h11v1h-11z" fill="#33cc33"/>
<circle cx="997" cy="586" r="4.2" fill="#000" shape-rendering="auto"/>
<text x="997" y="588.7" font-size="7.5" fill="#fff" text-anchor="middle">1</text>
<circle cx="1047" cy="583" r="4.2" fill="#000" shape-rendering="auto"/>
<text x="1047" y="585.7" font-size="7.5" fill="#fff" text-anchor="middle">2</text>
<line x1="0" y1="679.5" x2="1855" y2="679.5" stroke="#00f" stroke-width="1" />
<line x1="0" y1="837.5" x2="1855" y2="837.5" stroke="#00f" stroke-width="1" />
<path d="M2.5 874V880M7.5 876V880M12.5 875V880M17.5 775V880M22.5 825V880M27.5 865V880M32.5 863V880M36.5 865V880M42.5 840V880M47.5 866V880M52.5 864V880M57.5 871V880M62.5 867V880M67.5 873V880M72.5 856V880M77.5 787V880M82.5 848V880M87.5 862V880M92.5 867V880M97.5 851V880M102.5 869V880M107.5 860V880M112.5 861V880M117.5 856V880M121.5 868V880M127.5 871V880M132.5 868V880M137.5 868V880M142.5 871V880M147.5 852V880M152.5 848V880M157.5 867V880M162.5 870V880M167.5 872V880M172.5 867V880M177.5 873V880M182.5 864V880M187.5 873V880M192.5 868V880M197.5 865V880M202.5 870V880M207.5 873V880M212.5 873V880M217.5 871V880M222.5 876V880M227.5 873V880M232.5 866V880M237.5 872V880M242.5 859V880M246.5 862V880M252.5 860V880M257.5 861V880M262.5 867V880M267.5 854V880M272.5 849V880M277.5 845V880M282.5 864V880M287.5 858V880M292.5 868V880M297.5 848V880M302.5 834V880M307.5 853V880M312.5 849V880M317.5 844V880M322.5 845V880M327.5 804V880M331.5 846V880M337.5 791V880M342.5 820V880M347.5 854V880M352.5 857V880M357.5 863V880M362.5 858V880M367.5 862V880M372.5 868V880M377.5 851V880M382.5 871V880M387.5 864V880M392.5 866V880M397.5 843V880M402.5 849V880M407.5 804V880M412.5 851V880M417.5 841V880M422.5 856V880M427.5 864V880M432.5 859V880M437.5 862V880M442.5 864V880M447.5 864V880M452.5 865V880M456.5 850V880M462.5 867V880M467.5 876V880M472.5 869V880M477.5 872V880M482.5 860V880M487.5 854V880M492.5 861V880M497.5 872V880M501.5 832V880M507.5 859V880M512.5 848V880M517.5 866V880M522.5 868V880M527.5 863V880M532.5 863V880M537.5 846V880M542.5 844V880M547.5 856V880M552.5 854V880M557.5 859V880M562.5 868V880M567.5 858V880M572.5 859V880M577.5 834V880M582.5 856V880M587.5 869V880M592.5 846V880M597.5 817V880M602.5 866V880M607.5 868V880M612.5 855V880M617.5 867V880M622.5 869V880M627.5 864V880M632.5 866V880M637.5 868V880M642.5 850V880M647.5 873V880M652.5 865V880M657.5 870V880M662.5 870V880M666.5 859V880M672.5 861V880M677.5 871V880M682.5 865V880M687.5 868V880M692.5 861V880M697.5 868V880M702.5 868V880M707.5 870V880M711.5 797V880M717.5 854V880M722.5 860V880M727.5 855V880M732.5 861V880M737.5 866V880M742.5 823V880M747.5 856V880M751.5 874V880M757.5 850V880M762.5 841V880M767.5 805V880M772.5 861V880M777.5 837V880M782.5 863V880M787.5 867V880M792.5 863V880M796.5 860V880M802.5 871V880M807.5 869V880M812.5 815V880M817.5 844V880M822.5 849V880M827.5 840V880M832.5 859V880M836.5 866V880M842.5 872V880M847.5 861V880M852.5 866V880M857.5 843V880M862.5 857V880M867.5 843V880M872.5 860V880M876.5 853V880M882.5 864V880M887.5 866V880M892.5 677V880M897.5 766V880M902.5 840V880M907.5 855V880M912.5 856V880M917.5 864V880M921.5 867V880M927.5 851V880M932.5 855V880M937.5 855V880M942.5 861V880M947.5 849V880M952.5 858V880M957.5 859V880M961.5 868V880M967.5 847V880M972.5 869V880M977.5 868V880M982.5 863V880M987.5 834V880M992.5 843V880M997.5 836V880M1002.5 855V880M1007.5 857V880M1012.5 855V880M1017.5 869V880M1022.5 843V880M1027.5 816V880M1032.5 844V880M1037.5 858V880M1042.5 809V880M1046.5 829V880M1052.5 864V880M1057.5 866V880M1062.5 861V880M1067.5 869V880M1072.5 864V880M1077.5 866V880M1082.5 869V880M1086.5 869V880M1091.5 869V880M1097.5 867V880M1102.5 864V880M1107.5 838V880M1112.5 860V880M1117.5 853V880M1122.5 834V880M1126.5 867V880M1132.5 867V880M1137.5 871V880M1142.5 873V880M1147.5 866V880M1152.5 863V880M1157.5 870V880M1162.5 872V880M1166.5 868V880M1172.5 852V880M1177.5 866V880M1182.5 867V880M1187.5 870V880M1192.5 871V880M1197.5 859V880M1202.5 865V880M1207.5 871V880M1212.5 869V880M1217.5 853V880M1222.5 855V880M1227.5 853V880M1232.5 867V880M1237.5 871V880M1242.5 859V880M1247.5 861V880M1252.5 866V880M1256.5 871V880M1262.5 867V880M1267.5 871V880M1272.5 851V880M1277.5 863V880M1282.5 868V880M1287.5 865V880M1292.5 859V880M1296.5 867V880M1301.5 870V880M1307.5 864V880M1312.5 869V880M1317.5 868V880M1322.5 863V880M1327.5 872V880M1332.5 868V880M1337.5 872V880M1342.5 855V880M1347.5 861V880M1352.5 872V880M1357.5 872V880M1362.5 874V880M1367.5 860V880M1372.5 864V880M1377.5 860V880M1382.5 866V880M1386.5 866V880M1392.5 873V880M1397.5 854V880M1402.5 848V880M1407.5 854V880M1412.5 843V880M1417.5 853V880M1422.5 862V880M1427.5 839V880M1432.5 843V880M1437.5 859V880M1442.5 845V880M1447.5 861V880M1452.5 861V880M1457.5 845V880M1462.5 855V880M1466.5 857V880M1472.5 844V880M1477.5 864V880M1482.5 863V880M1487.5 852V880M1492.5 842V880M1497.5 861V880M1502.5 863V880M1506.5 859V880M1511.5 860V880M1517.5 869V880M1522.5 859V880M1527.5 871V880M1532.5 867V880M1537.5 865V880M1542.5 870V880M1547.5 787V880M1551.5 827V880M1557.5 852V880M1562.5 849V880M1567.5 793V880M1572.5 773V880M1577.5 832V880M1582.5 825V880M1587.5 865V880M1591.5 855V880M1596.5 866V880M1602.5 850V880M1607.5 862V880M1612.5 871V880M1617.5 859V880M1622.5 838V880M1627.5 849V880M1632.5 861V880M1636.5 818V880M1642.5 842V880M1647.5 862V880M1652.5 856V880M1657.5 854V880M1662.5 792V880M1667.5 861V880M1672.5 857V880M1676.5 853V880M1681.5 865V880M1687.5 864V880M1692.5 853V880M1697.5 693V880M1702.5 844V880M1707.5 832V880M1712.5 857V880M1716.5 860V880M1721.5 856V880M1727.5 864V880M1732.5 864V880M1737.5 818V880M1742.5 864V880M1747.5 859V880M1752.5 860V880M1757.5 858V880M1761.5 851V880M1767.5 861V880M1772.5 861V880M1777.5 866V880M1782.5 864V880M1787.5 861V880M1792.5 866V880M1797.5 870V880" stroke="#00f" stroke-width="1" fill="none"/>
<path d="M1707 674h1v1h-1zM1703 675h4v1h-4zM1708 675h1v1h-1zM1572 676h1v1h-1zM1701 676h2v1h-2zM1709 676h1v1h-1zM1571 677h2v1h-2zM1700 677h1v1h-1zM1710 677h1v1h-1zM1571 678h2v1h-2zM1698 678h2v1h-2zM1711 678h1v1h-1zM1571 679h2v1h-2zM1697 679h1v1h-1zM1712 679h1v1h-1zM1570 680h1v1h-1zM1573 680h1v1h-1zM1697 680h1v1h-1zM1712 680h1v1h-1zM1570 681h1v1h-1zM1573 681h1v1h-1zM1697 681h1v1h-1zM1712 681h1v1h-1zM597 682h1v1h-1zM1570 682h1v1h-1zM1573 682h1v1h-1zM1697 682h1v1h-1zM1713 682h1v1h-1zM597 683h2v1h-2zM1569 683h1v1h-1zM1573 683h1v1h-1zM1697 683h1v1h-1zM1713 683h1v1h-1zM596 684h1v1h-1zM598 684h1v1h-1zM1569 684h1v1h-1zM1573 684h1v1h-1zM1696 684h1v1h-1zM1713 684h1v1h-1zM596 685h1v1h-1zM599 685h1v1h-1zM1568 685h1v1h-1zM1573 685h1v1h-1zM1696 685h1v1h-1zM1713 685h1v1h-1zM596 686h1v1h-1zM599 686h1v1h-1zM1568 686h1v1h-1zM1573 686h1v1h-1zM1696 686h1v1h-1zM1713 686h1v1h-1zM596 687h1v1h-1zM600 687h1v1h-1zM606 687h2v1h-2zM1568 687h1v1h-1zM1573 687h1v1h-1zM1696 687h1v1h-1zM1714 687h1v1h-1zM595 688h1v1h-1zM600 688h1v1h-1zM605 688h1v1h-1zM607 688h1v1h-1zM1567 688h1v1h-1zM1574 688h1v1h-1zM1696 688h1v1h-1zM1714 688h1v1h-1zM595 689h1v1h-1zM601 689h1v1h-1zM604 689h1v1h-1zM608 689h1v1h-1zM1112 689h1v1h-1zM1567 689h1v1h-1zM1574 689h1v1h-1zM1622 689h1v1h-1zM1696 689h1v1h-1zM1714 689h1v1h-1zM595 690h1v1h-1zM601 690h1v1h-1zM603 690h1v1h-1zM608 690h1v1h-1zM1110 690h3v1h-3zM1567 690h1v1h-1zM1574 690h1v1h-1zM1622 690h1v1h-1zM1696 690h1v1h-1zM1714 690h1v1h-1zM595 691h1v1h-1zM602 691h1v1h-1zM608 691h1v1h-1zM1109 691h1v1h-1zM1112 691h1v1h-1zM1567 691h1v1h-1zM1574 691h1v1h-1zM1622 691h1v1h-1zM1696 691h1v1h-1zM1714 691h1v1h-1zM594 692h1v1h-1zM609 692h1v1h-1zM1108 692h1v1h-1zM1113 692h1v1h-1zM1567 692h1v1h-1zM1574 692h1v1h-1zM1621 692h2v1h-2zM1695 692h1v1h-1zM1715 692h1v1h-1zM594 693h1v1h-1zM609 693h1v1h-1zM1107 693h1v1h-1zM1113 693h1v1h-1zM1566 693h1v1h-1zM1574 693h1v1h-1zM1621 693h1v1h-1zM1623 693h1v1h-1zM1695 693h1v1h-1zM1715 693h1v1h-1zM594 694h1v1h-1zM609 694h1v1h-1zM626 694h2v1h-2zM767 694h1v1h-1zM1107 694h1v1h-1zM1113 694h1v1h-1zM1566 694h1v1h-1zM1574 694h1v1h-1zM1621 694h1v1h-1zM1623 694h1v1h-1zM1695 694h1v1h-1zM1715 694h1v1h-1zM594 695h1v1h-1zM610 695h1v1h-1zM624 695h2v1h-2zM627 695h1v1h-1zM767 695h1v1h-1zM1107 695h1v1h-1zM1113 695h1v1h-1zM1566 695h1v1h-1zM1574 695h1v1h-1zM1621 695h1v1h-1zM1623 695h1v1h-1zM1695 695h1v1h-1zM1715 695h1v1h-1zM593 696h1v1h-1zM610 696h1v1h-1zM622 696h2v1h-2zM627 696h1v1h-1zM742 696h1v1h-1zM767 696h2v1h-2zM1107 696h1v1h-1zM1113 696h1v1h-1zM1566 696h1v1h-1zM1574 696h1v1h-1zM1621 696h1v1h-1zM1623 696h1v1h-1zM1695 696h1v1h-1zM1715 696h1v1h-1zM593 697h1v1h-1zM610 697h1v1h-1zM621 697h1v1h-1zM627 697h1v1h-1zM742 697h2v1h-2zM767 697h2v1h-2zM1107 697h1v1h-1zM1114 697h1v1h-1zM1566 697h1v1h-1zM1575 697h1v1h-1zM1620 697h1v1h-1zM1623 697h1v1h-1zM1695 697h1v1h-1zM1716 697h1v1h-1zM593 698h1v1h-1zM611 698h1v1h-1zM620 698h1v1h-1zM627 698h1v1h-1zM742 698h2v1h-2zM766 698h1v1h-1zM769 698h1v1h-1zM1106 698h1v1h-1zM1114 698h1v1h-1zM1566 698h1v1h-1zM1575 698h1v1h-1zM1620 698h1v1h-1zM1623 698h1v1h-1zM1695 698h1v1h-1zM1716 698h1v1h-1zM593 699h1v1h-1zM611 699h1v1h-1zM619 699h1v1h-1zM627 699h1v1h-1zM742 699h2v1h-2zM766 699h1v1h-1zM769 699h1v1h-1zM1106 699h1v1h-1zM1114 699h1v1h-1zM1566 699h1v1h-1zM1575 699h1v1h-1zM1620 699h1v1h-1zM1623 699h1v1h-1zM1694 699h1v1h-1zM1716 699h1v1h-1zM1761 699h1v1h-1zM592 700h1v1h-1zM611 700h1v1h-1zM618 700h1v1h-1zM627 700h1v1h-1zM741 700h1v1h-1zM744 700h1v1h-1zM766 700h1v1h-1zM769 700h1v1h-1zM817 700h1v1h-1zM1106 700h1v1h-1zM1114 700h1v1h-1zM1477 700h1v1h-1zM1565 700h1v1h-1zM1575 700h1v1h-1zM1620 700h1v1h-1zM1623 700h1v1h-1zM1694 700h1v1h-1zM1716 700h1v1h-1zM1760 700h2v1h-2zM592 701h1v1h-1zM612 701h1v1h-1zM616 701h2v1h-2zM628 701h1v1h-1zM741 701h1v1h-1zM744 701h1v1h-1zM766 701h1v1h-1zM770 701h1v1h-1zM816 701h2v1h-2zM1106 701h1v1h-1zM1115 701h1v1h-1zM1322 701h1v1h-1zM1477 701h1v1h-1zM1565 701h1v1h-1zM1575 701h1v1h-1zM1620 701h1v1h-1zM1624 701h1v1h-1zM1636 701h1v1h-1zM1694 701h1v1h-1zM1716 701h1v1h-1zM1760 701h2v1h-2zM592 702h1v1h-1zM612 702h4v1h-4zM628 702h1v1h-1zM741 702h1v1h-1zM745 702h1v1h-1zM766 702h1v1h-1zM770 702h1v1h-1zM816 702h1v1h-1zM818 702h1v1h-1zM1106 702h1v1h-1zM1115 702h1v1h-1zM1322 702h1v1h-1zM1476 702h2v1h-2zM1565 702h1v1h-1zM1575 702h1v1h-1zM1619 702h1v1h-1zM1624 702h1v1h-1zM1636 702h1v1h-1zM1694 702h1v1h-1zM1716 702h1v1h-1zM1759 702h1v1h-1zM1762 702h1v1h-1zM592 703h1v1h-1zM612 703h1v1h-1zM628 703h1v1h-1zM741 703h1v1h-1zM745 703h1v1h-1zM766 703h1v1h-1zM771 703h1v1h-1zM815 703h1v1h-1zM818 703h1v1h-1zM1106 703h1v1h-1zM1115 703h1v1h-1zM1321 703h2v1h-2zM1476 703h2v1h-2zM1565 703h1v1h-1zM1575 703h1v1h-1zM1619 703h1v1h-1zM1624 703h1v1h-1zM1635 703h2v1h-2zM1694 703h1v1h-1zM1716 703h1v1h-1zM1758 703h1v1h-1zM1762 703h1v1h-1zM591 704h1v1h-1zM628 704h1v1h-1zM741 704h1v1h-1zM746 704h1v1h-1zM765 704h1v1h-1zM771 704h1v1h-1zM814 704h1v1h-1zM818 704h1v1h-1zM1106 704h1v1h-1zM1115 704h1v1h-1zM1321 704h2v1h-2zM1475 704h1v1h-1zM1478 704h1v1h-1zM1565 704h1v1h-1zM1575 704h1v1h-1zM1619 704h1v1h-1zM1624 704h1v1h-1zM1635 704h1v1h-1zM1637 704h1v1h-1zM1694 704h1v1h-1zM1717 704h1v1h-1zM1758 704h1v1h-1zM1762 704h1v1h-1zM591 705h1v1h-1zM628 705h1v1h-1zM741 705h1v1h-1zM746 705h1v1h-1zM765 705h1v1h-1zM771 705h1v1h-1zM814 705h1v1h-1zM818 705h1v1h-1zM1106 705h1v1h-1zM1115 705h1v1h-1zM1321 705h2v1h-2zM1377 705h1v1h-1zM1475 705h1v1h-1zM1478 705h1v1h-1zM1565 705h1v1h-1zM1576 705h1v1h-1zM1619 705h1v1h-1zM1624 705h1v1h-1zM1635 705h1v1h-1zM1637 705h1v1h-1zM1694 705h1v1h-1zM1717 705h1v1h-1zM1757 705h1v1h-1zM1762 705h1v1h-1zM591 706h1v1h-1zM628 706h1v1h-1zM740 706h1v1h-1zM747 706h1v1h-1zM765 706h1v1h-1zM772 706h1v1h-1zM813 706h1v1h-1zM819 706h1v1h-1zM1106 706h1v1h-1zM1116 706h1v1h-1zM1321 706h1v1h-1zM1323 706h1v1h-1zM1377 706h1v1h-1zM1474 706h1v1h-1zM1478 706h1v1h-1zM1565 706h1v1h-1zM1576 706h1v1h-1zM1619 706h1v1h-1zM1624 706h1v1h-1zM1635 706h1v1h-1zM1637 706h1v1h-1zM1694 706h1v1h-1zM1717 706h1v1h-1zM1756 706h1v1h-1zM1762 706h1v1h-1zM591 707h1v1h-1zM628 707h1v1h-1zM740 707h1v1h-1zM747 707h1v1h-1zM765 707h1v1h-1zM772 707h1v1h-1zM812 707h1v1h-1zM819 707h1v1h-1zM1105 707h1v1h-1zM1116 707h1v1h-1zM1320 707h1v1h-1zM1323 707h1v1h-1zM1376 707h2v1h-2zM1474 707h1v1h-1zM1478 707h1v1h-1zM1564 707h1v1h-1zM1576 707h1v1h-1zM1618 707h1v1h-1zM1624 707h1v1h-1zM1635 707h1v1h-1zM1637 707h1v1h-1zM1693 707h1v1h-1zM1717 707h1v1h-1zM1755 707h1v1h-1zM1763 707h1v1h-1zM342 708h1v1h-1zM590 708h1v1h-1zM628 708h1v1h-1zM740 708h1v1h-1zM748 708h1v1h-1zM765 708h1v1h-1zM772 708h1v1h-1zM812 708h1v1h-1zM819 708h1v1h-1zM1105 708h1v1h-1zM1116 708h1v1h-1zM1320 708h1v1h-1zM1323 708h1v1h-1zM1376 708h2v1h-2zM1473 708h1v1h-1zM1478 708h1v1h-1zM1564 708h1v1h-1zM1576 708h1v1h-1zM1618 708h1v1h-1zM1625 708h1v1h-1zM1634 708h1v1h-1zM1637 708h1v1h-1zM1693 708h1v1h-1zM1717 708h1v1h-1zM1754 708h1v1h-1zM1763 708h1v1h-1zM342 709h1v1h-1zM590 709h1v1h-1zM628 709h1v1h-1zM740 709h1v1h-1zM748 709h1v1h-1zM765 709h1v1h-1zM772 709h1v1h-1zM812 709h1v1h-1zM819 709h1v1h-1zM1105 709h1v1h-1zM1116 709h1v1h-1zM1320 709h1v1h-1zM1323 709h1v1h-1zM1376 709h2v1h-2zM1473 709h1v1h-1zM1478 709h1v1h-1zM1564 709h1v1h-1zM1576 709h1v1h-1zM1618 709h1v1h-1zM1625 709h1v1h-1zM1634 709h1v1h-1zM1637 709h1v1h-1zM1693 709h1v1h-1zM1717 709h1v1h-1zM1753 709h1v1h-1zM1763 709h1v1h-1zM341 710h1v1h-1zM343 710h1v1h-1zM590 710h1v1h-1zM628 710h1v1h-1zM740 710h1v1h-1zM749 710h1v1h-1zM764 710h1v1h-1zM772 710h1v1h-1zM812 710h1v1h-1zM820 710h1v1h-1zM1105 710h1v1h-1zM1116 710h1v1h-1zM1319 710h1v1h-1zM1323 710h1v1h-1zM1375 710h1v1h-1zM1378 710h1v1h-1zM1472 710h1v1h-1zM1478 710h1v1h-1zM1564 710h1v1h-1zM1576 710h1v1h-1zM1618 710h1v1h-1zM1625 710h1v1h-1zM1634 710h1v1h-1zM1637 710h1v1h-1zM1693 710h1v1h-1zM1717 710h1v1h-1zM1752 710h1v1h-1zM1763 710h1v1h-1zM341 711h1v1h-1zM343 711h1v1h-1zM590 711h1v1h-1zM628 711h1v1h-1zM740 711h1v1h-1zM749 711h1v1h-1zM764 711h1v1h-1zM773 711h1v1h-1zM812 711h1v1h-1zM820 711h1v1h-1zM1105 711h1v1h-1zM1117 711h1v1h-1zM1319 711h1v1h-1zM1323 711h1v1h-1zM1375 711h1v1h-1zM1378 711h1v1h-1zM1472 711h1v1h-1zM1479 711h1v1h-1zM1564 711h1v1h-1zM1576 711h1v1h-1zM1618 711h1v1h-1zM1625 711h1v1h-1zM1634 711h1v1h-1zM1638 711h1v1h-1zM1681 711h1v1h-1zM1693 711h1v1h-1zM1717 711h1v1h-1zM1752 711h1v1h-1zM1763 711h1v1h-1zM341 712h1v1h-1zM343 712h1v1h-1zM589 712h1v1h-1zM628 712h1v1h-1zM739 712h1v1h-1zM749 712h1v1h-1zM764 712h1v1h-1zM773 712h1v1h-1zM812 712h1v1h-1zM820 712h1v1h-1zM1105 712h1v1h-1zM1117 712h1v1h-1zM1319 712h1v1h-1zM1323 712h1v1h-1zM1375 712h1v1h-1zM1378 712h1v1h-1zM1472 712h1v1h-1zM1479 712h1v1h-1zM1564 712h1v1h-1zM1576 712h1v1h-1zM1617 712h1v1h-1zM1625 712h1v1h-1zM1633 712h1v1h-1zM1638 712h1v1h-1zM1681 712h1v1h-1zM1693 712h1v1h-1zM1717 712h1v1h-1zM1751 712h1v1h-1zM1764 712h1v1h-1zM340 713h1v1h-1zM344 713h1v1h-1zM589 713h1v1h-1zM628 713h1v1h-1zM739 713h1v1h-1zM750 713h1v1h-1zM764 713h1v1h-1zM773 713h1v1h-1zM811 713h1v1h-1zM820 713h1v1h-1zM1105 713h1v1h-1zM1117 713h1v1h-1zM1318 713h1v1h-1zM1323 713h1v1h-1zM1374 713h1v1h-1zM1378 713h1v1h-1zM1471 713h1v1h-1zM1479 713h1v1h-1zM1487 713h6v1h-6zM1563 713h1v1h-1zM1577 713h1v1h-1zM1617 713h1v1h-1zM1625 713h1v1h-1zM1633 713h1v1h-1zM1638 713h1v1h-1zM1680 713h1v1h-1zM1682 713h1v1h-1zM1693 713h1v1h-1zM1718 713h1v1h-1zM1751 713h1v1h-1zM1764 713h1v1h-1zM340 714h1v1h-1zM344 714h1v1h-1zM589 714h1v1h-1zM629 714h1v1h-1zM739 714h1v1h-1zM750 714h1v1h-1zM764 714h1v1h-1zM773 714h1v1h-1zM811 714h1v1h-1zM821 714h1v1h-1zM1105 714h1v1h-1zM1117 714h1v1h-1zM1318 714h1v1h-1zM1323 714h1v1h-1zM1374 714h1v1h-1zM1378 714h1v1h-1zM1471 714h1v1h-1zM1479 714h1v1h-1zM1487 714h1v1h-1zM1492 714h1v1h-1zM1563 714h1v1h-1zM1577 714h1v1h-1zM1617 714h1v1h-1zM1625 714h1v1h-1zM1633 714h1v1h-1zM1638 714h1v1h-1zM1679 714h1v1h-1zM1683 714h1v1h-1zM1693 714h1v1h-1zM1718 714h1v1h-1zM1751 714h1v1h-1zM1764 714h1v1h-1zM340 715h1v1h-1zM344 715h1v1h-1zM589 715h1v1h-1zM629 715h1v1h-1zM739 715h1v1h-1zM751 715h1v1h-1zM764 715h1v1h-1zM773 715h1v1h-1zM811 715h1v1h-1zM821 715h1v1h-1zM1105 715h1v1h-1zM1117 715h1v1h-1zM1318 715h1v1h-1zM1324 715h1v1h-1zM1374 715h1v1h-1zM1378 715h1v1h-1zM1471 715h1v1h-1zM1479 715h1v1h-1zM1487 715h1v1h-1zM1492 715h1v1h-1zM1563 715h1v1h-1zM1577 715h1v1h-1zM1617 715h1v1h-1zM1625 715h1v1h-1zM1633 715h1v1h-1zM1638 715h1v1h-1zM1679 715h1v1h-1zM1683 715h1v1h-1zM1692 715h1v1h-1zM1718 715h1v1h-1zM1750 715h1v1h-1zM1764 715h1v1h-1zM72 716h1v1h-1zM339 716h1v1h-1zM345 716h1v1h-1zM588 716h1v1h-1zM629 716h1v1h-1zM739 716h1v1h-1zM751 716h1v1h-1zM763 716h1v1h-1zM773 716h1v1h-1zM811 716h1v1h-1zM821 716h1v1h-1zM867 716h1v1h-1zM1105 716h1v1h-1zM1117 716h1v1h-1zM1292 716h2v1h-2zM1317 716h1v1h-1zM1324 716h1v1h-1zM1367 716h2v1h-2zM1373 716h1v1h-1zM1378 716h1v1h-1zM1471 716h1v1h-1zM1479 716h1v1h-1zM1486 716h1v1h-1zM1492 716h1v1h-1zM1563 716h1v1h-1zM1577 716h1v1h-1zM1617 716h1v1h-1zM1626 716h1v1h-1zM1632 716h1v1h-1zM1638 716h1v1h-1zM1678 716h1v1h-1zM1684 716h1v1h-1zM1692 716h1v1h-1zM1718 716h1v1h-1zM1750 716h1v1h-1zM1764 716h1v1h-1zM72 717h1v1h-1zM339 717h1v1h-1zM345 717h1v1h-1zM588 717h1v1h-1zM629 717h1v1h-1zM739 717h1v1h-1zM751 717h1v1h-1zM763 717h1v1h-1zM773 717h1v1h-1zM811 717h1v1h-1zM822 717h1v1h-1zM867 717h1v1h-1zM1104 717h1v1h-1zM1118 717h1v1h-1zM1292 717h1v1h-1zM1294 717h2v1h-2zM1317 717h1v1h-1zM1324 717h1v1h-1zM1367 717h1v1h-1zM1369 717h1v1h-1zM1373 717h1v1h-1zM1378 717h1v1h-1zM1470 717h1v1h-1zM1479 717h1v1h-1zM1486 717h1v1h-1zM1492 717h1v1h-1zM1563 717h1v1h-1zM1577 717h3v1h-3zM1616 717h1v1h-1zM1626 717h1v1h-1zM1632 717h1v1h-1zM1639 717h1v1h-1zM1678 717h1v1h-1zM1684 717h1v1h-1zM1692 717h1v1h-1zM1718 717h1v1h-1zM1750 717h1v1h-1zM1765 717h1v1h-1zM72 718h1v1h-1zM339 718h1v1h-1zM345 718h1v1h-1zM588 718h1v1h-1zM629 718h1v1h-1zM738 718h1v1h-1zM751 718h1v1h-1zM763 718h1v1h-1zM773 718h1v1h-1zM811 718h1v1h-1zM822 718h1v1h-1zM867 718h1v1h-1zM1104 718h1v1h-1zM1118 718h1v1h-1zM1291 718h1v1h-1zM1296 718h1v1h-1zM1315 718h2v1h-2zM1324 718h1v1h-1zM1367 718h1v1h-1zM1370 718h1v1h-1zM1373 718h1v1h-1zM1378 718h1v1h-1zM1470 718h1v1h-1zM1480 718h1v1h-1zM1486 718h1v1h-1zM1492 718h1v1h-1zM1563 718h1v1h-1zM1580 718h3v1h-3zM1616 718h1v1h-1zM1626 718h1v1h-1zM1632 718h1v1h-1zM1639 718h1v1h-1zM1677 718h1v1h-1zM1685 718h1v1h-1zM1692 718h1v1h-1zM1718 718h1v1h-1zM1750 718h1v1h-1zM1765 718h1v1h-1zM72 719h1v1h-1zM338 719h1v1h-1zM345 719h1v1h-1zM577 719h4v1h-4zM588 719h1v1h-1zM629 719h1v1h-1zM738 719h1v1h-1zM751 719h1v1h-1zM763 719h1v1h-1zM773 719h1v1h-1zM811 719h1v1h-1zM822 719h1v1h-1zM866 719h2v1h-2zM1104 719h1v1h-1zM1118 719h1v1h-1zM1291 719h1v1h-1zM1296 719h1v1h-1zM1313 719h2v1h-2zM1324 719h1v1h-1zM1367 719h1v1h-1zM1371 719h2v1h-2zM1379 719h1v1h-1zM1470 719h1v1h-1zM1480 719h1v1h-1zM1486 719h1v1h-1zM1492 719h1v1h-1zM1563 719h1v1h-1zM1582 719h1v1h-1zM1616 719h1v1h-1zM1626 719h1v1h-1zM1631 719h1v1h-1zM1639 719h1v1h-1zM1677 719h1v1h-1zM1686 719h1v1h-1zM1691 719h2v1h-2zM1718 719h1v1h-1zM1749 719h1v1h-1zM1765 719h1v1h-1zM71 720h2v1h-2zM338 720h1v1h-1zM346 720h1v1h-1zM577 720h1v1h-1zM581 720h4v1h-4zM587 720h1v1h-1zM629 720h1v1h-1zM738 720h1v1h-1zM752 720h1v1h-1zM763 720h1v1h-1zM773 720h1v1h-1zM811 720h1v1h-1zM822 720h1v1h-1zM866 720h1v1h-1zM868 720h1v1h-1zM1104 720h1v1h-1zM1118 720h1v1h-1zM1291 720h1v1h-1zM1296 720h1v1h-1zM1312 720h1v1h-1zM1324 720h1v1h-1zM1366 720h1v1h-1zM1372 720h1v1h-1zM1379 720h1v1h-1zM1470 720h1v1h-1zM1480 720h1v1h-1zM1485 720h1v1h-1zM1493 720h1v1h-1zM1562 720h1v1h-1zM1582 720h1v1h-1zM1616 720h1v1h-1zM1626 720h1v1h-1zM1631 720h1v1h-1zM1639 720h1v1h-1zM1676 720h1v1h-1zM1686 720h1v1h-1zM1689 720h2v1h-2zM1718 720h1v1h-1zM1749 720h1v1h-1zM1765 720h1v1h-1zM71 721h2v1h-2zM338 721h1v1h-1zM346 721h1v1h-1zM577 721h1v1h-1zM585 721h3v1h-3zM629 721h1v1h-1zM738 721h1v1h-1zM752 721h1v1h-1zM763 721h1v1h-1zM774 721h1v1h-1zM811 721h1v1h-1zM822 721h1v1h-1zM866 721h1v1h-1zM868 721h1v1h-1zM1104 721h1v1h-1zM1118 721h1v1h-1zM1290 721h1v1h-1zM1296 721h1v1h-1zM1312 721h1v1h-1zM1324 721h1v1h-1zM1366 721h1v1h-1zM1379 721h1v1h-1zM1470 721h1v1h-1zM1480 721h1v1h-1zM1485 721h1v1h-1zM1493 721h1v1h-1zM1562 721h1v1h-1zM1583 721h1v1h-1zM1616 721h1v1h-1zM1626 721h1v1h-1zM1630 721h1v1h-1zM1639 721h1v1h-1zM1676 721h1v1h-1zM1687 721h2v1h-2zM1718 721h1v1h-1zM1749 721h1v1h-1zM1765 721h1v1h-1zM71 722h2v1h-2zM337 722h1v1h-1zM346 722h1v1h-1zM351 722h2v1h-2zM577 722h1v1h-1zM629 722h1v1h-1zM738 722h1v1h-1zM752 722h1v1h-1zM762 722h1v1h-1zM774 722h1v1h-1zM811 722h1v1h-1zM822 722h1v1h-1zM866 722h1v1h-1zM868 722h1v1h-1zM1104 722h1v1h-1zM1118 722h1v1h-1zM1290 722h1v1h-1zM1297 722h1v1h-1zM1312 722h1v1h-1zM1324 722h1v1h-1zM1366 722h1v1h-1zM1379 722h1v1h-1zM1469 722h1v1h-1zM1480 722h1v1h-1zM1485 722h1v1h-1zM1493 722h1v1h-1zM1562 722h1v1h-1zM1583 722h1v1h-1zM1615 722h1v1h-1zM1626 722h1v1h-1zM1630 722h1v1h-1zM1639 722h1v1h-1zM1675 722h1v1h-1zM1687 722h1v1h-1zM1718 722h1v1h-1zM1737 722h1v1h-1zM1748 722h1v1h-1zM1766 722h1v1h-1zM71 723h1v1h-1zM73 723h1v1h-1zM337 723h1v1h-1zM347 723h1v1h-1zM349 723h2v1h-2zM353 723h1v1h-1zM576 723h1v1h-1zM629 723h1v1h-1zM738 723h1v1h-1zM752 723h1v1h-1zM762 723h1v1h-1zM774 723h1v1h-1zM811 723h1v1h-1zM822 723h1v1h-1zM857 723h1v1h-1zM865 723h1v1h-1zM868 723h1v1h-1zM1104 723h1v1h-1zM1118 723h1v1h-1zM1290 723h1v1h-1zM1297 723h1v1h-1zM1312 723h1v1h-1zM1324 723h1v1h-1zM1366 723h1v1h-1zM1379 723h1v1h-1zM1469 723h1v1h-1zM1480 723h1v1h-1zM1485 723h1v1h-1zM1493 723h1v1h-1zM1562 723h1v1h-1zM1583 723h1v1h-1zM1615 723h1v1h-1zM1627 723h1v1h-1zM1629 723h1v1h-1zM1640 723h1v1h-1zM1674 723h1v1h-1zM1719 723h1v1h-1zM1737 723h1v1h-1zM1748 723h1v1h-1zM1766 723h1v1h-1zM1772 723h1v1h-1zM71 724h1v1h-1zM73 724h1v1h-1zM337 724h1v1h-1zM347 724h2v1h-2zM354 724h1v1h-1zM576 724h1v1h-1zM629 724h1v1h-1zM738 724h1v1h-1zM752 724h1v1h-1zM762 724h1v1h-1zM774 724h1v1h-1zM810 724h1v1h-1zM823 724h1v1h-1zM857 724h1v1h-1zM865 724h1v1h-1zM868 724h1v1h-1zM1104 724h1v1h-1zM1118 724h1v1h-1zM1289 724h1v1h-1zM1297 724h1v1h-1zM1311 724h1v1h-1zM1325 724h1v1h-1zM1366 724h1v1h-1zM1379 724h1v1h-1zM1469 724h1v1h-1zM1480 724h1v1h-1zM1484 724h1v1h-1zM1493 724h1v1h-1zM1562 724h1v1h-1zM1583 724h1v1h-1zM1615 724h1v1h-1zM1627 724h2v1h-2zM1640 724h1v1h-1zM1673 724h1v1h-1zM1719 724h1v1h-1zM1737 724h1v1h-1zM1748 724h1v1h-1zM1766 724h1v1h-1zM1771 724h2v1h-2zM70 725h1v1h-1zM73 725h1v1h-1zM337 725h1v1h-1zM354 725h1v1h-1zM576 725h1v1h-1zM629 725h1v1h-1zM737 725h1v1h-1zM752 725h1v1h-1zM762 725h1v1h-1zM774 725h1v1h-1zM810 725h1v1h-1zM823 725h1v1h-1zM857 725h2v1h-2zM865 725h1v1h-1zM868 725h1v1h-1zM1104 725h1v1h-1zM1119 725h1v1h-1zM1289 725h1v1h-1zM1297 725h1v1h-1zM1311 725h1v1h-1zM1325 725h1v1h-1zM1366 725h1v1h-1zM1379 725h1v1h-1zM1469 725h1v1h-1zM1481 725h1v1h-1zM1484 725h1v1h-1zM1493 725h1v1h-1zM1562 725h1v1h-1zM1583 725h1v1h-1zM1615 725h1v1h-1zM1627 725h2v1h-2zM1640 725h1v1h-1zM1672 725h1v1h-1zM1719 725h1v1h-1zM1737 725h2v1h-2zM1747 725h1v1h-1zM1766 725h1v1h-1zM1770 725h1v1h-1zM1772 725h1v1h-1zM70 726h1v1h-1zM73 726h1v1h-1zM337 726h1v1h-1zM355 726h1v1h-1zM576 726h1v1h-1zM629 726h1v1h-1zM652 726h1v1h-1zM737 726h1v1h-1zM753 726h1v1h-1zM762 726h1v1h-1zM774 726h1v1h-1zM810 726h1v1h-1zM823 726h1v1h-1zM857 726h2v1h-2zM865 726h1v1h-1zM868 726h1v1h-1zM1057 726h1v1h-1zM1077 726h1v1h-1zM1097 726h1v1h-1zM1103 726h1v1h-1zM1119 726h1v1h-1zM1289 726h1v1h-1zM1297 726h1v1h-1zM1311 726h1v1h-1zM1325 726h1v1h-1zM1366 726h1v1h-1zM1379 726h1v1h-1zM1468 726h1v1h-1zM1481 726h1v1h-1zM1484 726h1v1h-1zM1493 726h1v1h-1zM1561 726h1v1h-1zM1583 726h1v1h-1zM1602 726h1v1h-1zM1614 726h1v1h-1zM1627 726h1v1h-1zM1640 726h1v1h-1zM1672 726h1v1h-1zM1719 726h1v1h-1zM1737 726h2v1h-2zM1747 726h1v1h-1zM1766 726h1v1h-1zM1769 726h1v1h-1zM1773 726h1v1h-1zM70 727h1v1h-1zM73 727h1v1h-1zM337 727h1v1h-1zM355 727h1v1h-1zM576 727h1v1h-1zM629 727h1v1h-1zM652 727h1v1h-1zM737 727h1v1h-1zM753 727h1v1h-1zM762 727h1v1h-1zM774 727h1v1h-1zM810 727h1v1h-1zM823 727h1v1h-1zM857 727h1v1h-1zM859 727h1v1h-1zM864 727h1v1h-1zM869 727h1v1h-1zM1056 727h2v1h-2zM1077 727h1v1h-1zM1097 727h1v1h-1zM1103 727h1v1h-1zM1119 727h1v1h-1zM1288 727h1v1h-1zM1297 727h1v1h-1zM1311 727h1v1h-1zM1325 727h1v1h-1zM1366 727h1v1h-1zM1379 727h1v1h-1zM1468 727h1v1h-1zM1481 727h1v1h-1zM1484 727h1v1h-1zM1493 727h1v1h-1zM1561 727h1v1h-1zM1584 727h1v1h-1zM1602 727h2v1h-2zM1614 727h1v1h-1zM1640 727h1v1h-1zM1671 727h1v1h-1zM1719 727h1v1h-1zM1737 727h2v1h-2zM1747 727h1v1h-1zM1767 727h1v1h-1zM1769 727h1v1h-1zM1773 727h1v1h-1zM2 728h1v1h-1zM70 728h1v1h-1zM73 728h1v1h-1zM337 728h1v1h-1zM356 728h1v1h-1zM576 728h1v1h-1zM630 728h1v1h-1zM652 728h2v1h-2zM737 728h1v1h-1zM753 728h1v1h-1zM761 728h1v1h-1zM774 728h1v1h-1zM810 728h1v1h-1zM823 728h1v1h-1zM856 728h1v1h-1zM859 728h1v1h-1zM864 728h1v1h-1zM869 728h1v1h-1zM1056 728h1v1h-1zM1058 728h1v1h-1zM1077 728h2v1h-2zM1097 728h2v1h-2zM1103 728h1v1h-1zM1119 728h1v1h-1zM1288 728h1v1h-1zM1297 728h1v1h-1zM1311 728h1v1h-1zM1325 728h1v1h-1zM1366 728h1v1h-1zM1380 728h1v1h-1zM1468 728h1v1h-1zM1481 728h1v1h-1zM1484 728h1v1h-1zM1493 728h1v1h-1zM1561 728h1v1h-1zM1584 728h1v1h-1zM1602 728h2v1h-2zM1614 728h1v1h-1zM1640 728h1v1h-1zM1671 728h1v1h-1zM1719 728h1v1h-1zM1737 728h1v1h-1zM1739 728h1v1h-1zM1746 728h1v1h-1zM1767 728h2v1h-2zM1773 728h1v1h-1zM2 729h2v1h-2zM70 729h1v1h-1zM73 729h1v1h-1zM337 729h1v1h-1zM357 729h1v1h-1zM576 729h1v1h-1zM630 729h1v1h-1zM651 729h1v1h-1zM653 729h1v1h-1zM736 729h1v1h-1zM753 729h1v1h-1zM761 729h1v1h-1zM774 729h1v1h-1zM810 729h1v1h-1zM823 729h1v1h-1zM856 729h1v1h-1zM859 729h1v1h-1zM864 729h1v1h-1zM869 729h1v1h-1zM1055 729h1v1h-1zM1059 729h1v1h-1zM1076 729h1v1h-1zM1078 729h1v1h-1zM1096 729h1v1h-1zM1098 729h1v1h-1zM1103 729h1v1h-1zM1119 729h1v1h-1zM1288 729h1v1h-1zM1298 729h1v1h-1zM1311 729h1v1h-1zM1325 729h1v1h-1zM1365 729h1v1h-1zM1380 729h1v1h-1zM1468 729h1v1h-1zM1481 729h1v1h-1zM1483 729h1v1h-1zM1493 729h1v1h-1zM1561 729h1v1h-1zM1584 729h1v1h-1zM1601 729h1v1h-1zM1604 729h1v1h-1zM1614 729h1v1h-1zM1641 729h1v1h-1zM1671 729h1v1h-1zM1719 729h1v1h-1zM1736 729h1v1h-1zM1739 729h1v1h-1zM1746 729h1v1h-1zM1767 729h1v1h-1zM1773 729h1v1h-1zM2 730h1v1h-1zM4 730h1v1h-1zM70 730h1v1h-1zM73 730h1v1h-1zM337 730h1v1h-1zM357 730h1v1h-1zM575 730h1v1h-1zM630 730h1v1h-1zM651 730h1v1h-1zM653 730h1v1h-1zM736 730h1v1h-1zM753 730h1v1h-1zM761 730h1v1h-1zM775 730h1v1h-1zM810 730h1v1h-1zM823 730h1v1h-1zM856 730h1v1h-1zM860 730h1v1h-1zM864 730h1v1h-1zM869 730h1v1h-1zM1054 730h1v1h-1zM1059 730h1v1h-1zM1076 730h1v1h-1zM1079 730h1v1h-1zM1096 730h1v1h-1zM1098 730h1v1h-1zM1103 730h1v1h-1zM1119 730h1v1h-1zM1287 730h1v1h-1zM1298 730h1v1h-1zM1310 730h1v1h-1zM1325 730h1v1h-1zM1365 730h1v1h-1zM1380 730h1v1h-1zM1468 730h1v1h-1zM1481 730h1v1h-1zM1483 730h1v1h-1zM1493 730h1v1h-1zM1560 730h1v1h-1zM1584 730h1v1h-1zM1601 730h1v1h-1zM1604 730h1v1h-1zM1614 730h1v1h-1zM1641 730h1v1h-1zM1670 730h1v1h-1zM1719 730h1v1h-1zM1736 730h1v1h-1zM1739 730h1v1h-1zM1746 730h1v1h-1zM1773 730h1v1h-1zM2 731h1v1h-1zM5 731h2v1h-2zM69 731h1v1h-1zM73 731h1v1h-1zM217 731h1v1h-1zM336 731h1v1h-1zM357 731h1v1h-1zM575 731h1v1h-1zM630 731h1v1h-1zM651 731h1v1h-1zM654 731h1v1h-1zM711 731h1v1h-1zM736 731h1v1h-1zM753 731h1v1h-1zM761 731h1v1h-1zM775 731h1v1h-1zM810 731h1v1h-1zM823 731h1v1h-1zM856 731h1v1h-1zM860 731h1v1h-1zM863 731h1v1h-1zM869 731h1v1h-1zM1053 731h1v1h-1zM1060 731h1v1h-1zM1067 731h1v1h-1zM1076 731h1v1h-1zM1079 731h1v1h-1zM1096 731h1v1h-1zM1099 731h1v1h-1zM1103 731h1v1h-1zM1119 731h1v1h-1zM1287 731h1v1h-1zM1298 731h1v1h-1zM1310 731h1v1h-1zM1325 731h1v1h-1zM1365 731h1v1h-1zM1380 731h1v1h-1zM1467 731h1v1h-1zM1481 731h1v1h-1zM1483 731h1v1h-1zM1493 731h1v1h-1zM1560 731h1v1h-1zM1584 731h1v1h-1zM1601 731h1v1h-1zM1605 731h1v1h-1zM1613 731h1v1h-1zM1641 731h1v1h-1zM1670 731h1v1h-1zM1719 731h1v1h-1zM1736 731h1v1h-1zM1740 731h1v1h-1zM1745 731h1v1h-1zM1773 731h1v1h-1zM2 732h1v1h-1zM7 732h1v1h-1zM69 732h1v1h-1zM73 732h1v1h-1zM217 732h2v1h-2zM336 732h1v1h-1zM357 732h1v1h-1zM575 732h1v1h-1zM630 732h1v1h-1zM651 732h1v1h-1zM654 732h1v1h-1zM711 732h3v1h-3zM735 732h1v1h-1zM753 732h1v1h-1zM761 732h1v1h-1zM775 732h1v1h-1zM810 732h1v1h-1zM823 732h1v1h-1zM856 732h1v1h-1zM860 732h1v1h-1zM863 732h1v1h-1zM869 732h1v1h-1zM1052 732h1v1h-1zM1060 732h1v1h-1zM1065 732h3v1h-3zM1076 732h1v1h-1zM1079 732h1v1h-1zM1096 732h1v1h-1zM1099 732h1v1h-1zM1103 732h1v1h-1zM1119 732h1v1h-1zM1287 732h1v1h-1zM1298 732h1v1h-1zM1310 732h1v1h-1zM1325 732h1v1h-1zM1365 732h1v1h-1zM1380 732h1v1h-1zM1467 732h1v1h-1zM1482 732h2v1h-2zM1493 732h1v1h-1zM1560 732h1v1h-1zM1584 732h1v1h-1zM1601 732h1v1h-1zM1605 732h1v1h-1zM1613 732h1v1h-1zM1641 732h1v1h-1zM1670 732h1v1h-1zM1720 732h1v1h-1zM1736 732h1v1h-1zM1740 732h1v1h-1zM1745 732h1v1h-1zM1774 732h1v1h-1zM2 733h1v1h-1zM8 733h1v1h-1zM69 733h1v1h-1zM73 733h1v1h-1zM217 733h1v1h-1zM219 733h1v1h-1zM336 733h1v1h-1zM357 733h1v1h-1zM575 733h1v1h-1zM630 733h1v1h-1zM651 733h1v1h-1zM654 733h1v1h-1zM711 733h1v1h-1zM714 733h2v1h-2zM735 733h1v1h-1zM754 733h1v1h-1zM761 733h1v1h-1zM775 733h1v1h-1zM810 733h1v1h-1zM824 733h1v1h-1zM856 733h1v1h-1zM861 733h1v1h-1zM863 733h1v1h-1zM869 733h1v1h-1zM1051 733h1v1h-1zM1061 733h1v1h-1zM1064 733h1v1h-1zM1068 733h1v1h-1zM1075 733h1v1h-1zM1080 733h1v1h-1zM1096 733h1v1h-1zM1100 733h1v1h-1zM1103 733h1v1h-1zM1119 733h1v1h-1zM1287 733h1v1h-1zM1298 733h1v1h-1zM1310 733h1v1h-1zM1326 733h1v1h-1zM1365 733h1v1h-1zM1380 733h1v1h-1zM1467 733h1v1h-1zM1482 733h1v1h-1zM1493 733h1v1h-1zM1560 733h1v1h-1zM1585 733h1v1h-1zM1601 733h1v1h-1zM1606 733h1v1h-1zM1613 733h1v1h-1zM1641 733h1v1h-1zM1669 733h1v1h-1zM1720 733h1v1h-1zM1736 733h1v1h-1zM1740 733h1v1h-1zM1744 733h1v1h-1zM1774 733h1v1h-1zM1 734h1v1h-1zM9 734h1v1h-1zM69 734h1v1h-1zM73 734h1v1h-1zM217 734h1v1h-1zM219 734h1v1h-1zM336 734h1v1h-1zM358 734h1v1h-1zM575 734h1v1h-1zM630 734h1v1h-1zM651 734h1v1h-1zM655 734h1v1h-1zM711 734h1v1h-1zM716 734h1v1h-1zM735 734h1v1h-1zM754 734h1v1h-1zM760 734h1v1h-1zM775 734h1v1h-1zM809 734h1v1h-1zM824 734h1v1h-1zM856 734h1v1h-1zM861 734h1v1h-1zM863 734h1v1h-1zM870 734h1v1h-1zM1050 734h1v1h-1zM1062 734h2v1h-2zM1068 734h1v1h-1zM1075 734h1v1h-1zM1080 734h1v1h-1zM1095 734h1v1h-1zM1100 734h1v1h-1zM1103 734h1v1h-1zM1120 734h1v1h-1zM1287 734h1v1h-1zM1298 734h1v1h-1zM1310 734h1v1h-1zM1326 734h1v1h-1zM1365 734h1v1h-1zM1380 734h1v1h-1zM1467 734h1v1h-1zM1482 734h1v1h-1zM1494 734h1v1h-1zM1559 734h1v1h-1zM1585 734h1v1h-1zM1601 734h1v1h-1zM1607 734h1v1h-1zM1613 734h1v1h-1zM1641 734h1v1h-1zM1669 734h1v1h-1zM1720 734h1v1h-1zM1736 734h1v1h-1zM1740 734h1v1h-1zM1744 734h1v1h-1zM1774 734h1v1h-1zM1 735h1v1h-1zM10 735h1v1h-1zM69 735h1v1h-1zM73 735h1v1h-1zM216 735h1v1h-1zM220 735h1v1h-1zM226 735h2v1h-2zM336 735h1v1h-1zM358 735h1v1h-1zM575 735h1v1h-1zM630 735h1v1h-1zM650 735h1v1h-1zM655 735h1v1h-1zM711 735h1v1h-1zM717 735h1v1h-1zM734 735h1v1h-1zM754 735h1v1h-1zM760 735h1v1h-1zM775 735h1v1h-1zM809 735h1v1h-1zM824 735h1v1h-1zM856 735h1v1h-1zM862 735h1v1h-1zM870 735h1v1h-1zM1049 735h1v1h-1zM1062 735h1v1h-1zM1068 735h1v1h-1zM1075 735h1v1h-1zM1081 735h1v1h-1zM1095 735h1v1h-1zM1100 735h1v1h-1zM1102 735h1v1h-1zM1120 735h1v1h-1zM1287 735h1v1h-1zM1298 735h1v1h-1zM1310 735h1v1h-1zM1326 735h1v1h-1zM1365 735h1v1h-1zM1380 735h1v1h-1zM1466 735h1v1h-1zM1482 735h1v1h-1zM1494 735h1v1h-1zM1559 735h1v1h-1zM1585 735h1v1h-1zM1600 735h1v1h-1zM1607 735h2v1h-2zM1613 735h1v1h-1zM1641 735h1v1h-1zM1669 735h1v1h-1zM1720 735h1v1h-1zM1736 735h1v1h-1zM1741 735h1v1h-1zM1744 735h1v1h-1zM1774 735h1v1h-1zM1 736h1v1h-1zM10 736h1v1h-1zM69 736h1v1h-1zM73 736h1v1h-1zM216 736h1v1h-1zM221 736h1v1h-1zM225 736h1v1h-1zM227 736h1v1h-1zM336 736h1v1h-1zM358 736h1v1h-1zM575 736h1v1h-1zM630 736h1v1h-1zM650 736h1v1h-1zM655 736h1v1h-1zM710 736h1v1h-1zM717 736h1v1h-1zM734 736h1v1h-1zM754 736h1v1h-1zM760 736h1v1h-1zM775 736h1v1h-1zM809 736h1v1h-1zM824 736h1v1h-1zM856 736h1v1h-1zM862 736h1v1h-1zM870 736h1v1h-1zM1049 736h1v1h-1zM1069 736h1v1h-1zM1075 736h1v1h-1zM1081 736h1v1h-1zM1095 736h1v1h-1zM1101 736h2v1h-2zM1120 736h1v1h-1zM1126 736h1v1h-1zM1286 736h1v1h-1zM1299 736h1v1h-1zM1310 736h1v1h-1zM1326 736h1v1h-1zM1365 736h1v1h-1zM1380 736h1v1h-1zM1462 736h3v1h-3zM1466 736h1v1h-1zM1494 736h1v1h-1zM1559 736h1v1h-1zM1585 736h1v1h-1zM1600 736h1v1h-1zM1609 736h1v1h-1zM1612 736h1v1h-1zM1642 736h1v1h-1zM1668 736h1v1h-1zM1720 736h1v1h-1zM1736 736h1v1h-1zM1741 736h1v1h-1zM1743 736h1v1h-1zM1774 736h1v1h-1zM1 737h1v1h-1zM11 737h1v1h-1zM68 737h1v1h-1zM74 737h1v1h-1zM216 737h1v1h-1zM221 737h1v1h-1zM223 737h2v1h-2zM227 737h1v1h-1zM336 737h1v1h-1zM358 737h1v1h-1zM574 737h1v1h-1zM630 737h1v1h-1zM650 737h1v1h-1zM656 737h1v1h-1zM710 737h1v1h-1zM717 737h1v1h-1zM734 737h1v1h-1zM754 737h1v1h-1zM760 737h1v1h-1zM775 737h1v1h-1zM809 737h1v1h-1zM824 737h1v1h-1zM855 737h1v1h-1zM870 737h1v1h-1zM1048 737h1v1h-1zM1069 737h1v1h-1zM1075 737h1v1h-1zM1081 737h1v1h-1zM1095 737h1v1h-1zM1101 737h2v1h-2zM1120 737h1v1h-1zM1126 737h1v1h-1zM1286 737h1v1h-1zM1299 737h1v1h-1zM1309 737h1v1h-1zM1326 737h1v1h-1zM1364 737h1v1h-1zM1381 737h1v1h-1zM1461 737h1v1h-1zM1465 737h2v1h-2zM1494 737h1v1h-1zM1559 737h1v1h-1zM1585 737h1v1h-1zM1600 737h1v1h-1zM1610 737h1v1h-1zM1612 737h1v1h-1zM1642 737h1v1h-1zM1668 737h1v1h-1zM1720 737h1v1h-1zM1736 737h1v1h-1zM1741 737h1v1h-1zM1743 737h1v1h-1zM1774 737h1v1h-1zM1 738h1v1h-1zM12 738h1v1h-1zM47 738h1v1h-1zM68 738h1v1h-1zM74 738h1v1h-1zM216 738h1v1h-1zM222 738h1v1h-1zM227 738h1v1h-1zM336 738h1v1h-1zM358 738h1v1h-1zM574 738h1v1h-1zM630 738h1v1h-1zM650 738h1v1h-1zM656 738h1v1h-1zM677 738h1v1h-1zM710 738h1v1h-1zM717 738h1v1h-1zM734 738h1v1h-1zM754 738h1v1h-1zM760 738h1v1h-1zM775 738h1v1h-1zM809 738h1v1h-1zM824 738h1v1h-1zM855 738h1v1h-1zM870 738h1v1h-1zM1047 738h1v1h-1zM1069 738h1v1h-1zM1074 738h1v1h-1zM1082 738h1v1h-1zM1095 738h1v1h-1zM1101 738h2v1h-2zM1120 738h1v1h-1zM1126 738h1v1h-1zM1286 738h1v1h-1zM1299 738h1v1h-1zM1309 738h1v1h-1zM1326 738h1v1h-1zM1364 738h1v1h-1zM1381 738h1v1h-1zM1460 738h1v1h-1zM1494 738h1v1h-1zM1558 738h1v1h-1zM1585 738h1v1h-1zM1600 738h1v1h-1zM1611 738h2v1h-2zM1642 738h1v1h-1zM1668 738h1v1h-1zM1720 738h1v1h-1zM1736 738h1v1h-1zM1742 738h2v1h-2zM1775 738h1v1h-1zM1 739h1v1h-1zM12 739h1v1h-1zM46 739h2v1h-2zM68 739h1v1h-1zM74 739h1v1h-1zM216 739h1v1h-1zM227 739h1v1h-1zM336 739h1v1h-1zM358 739h1v1h-1zM574 739h1v1h-1zM630 739h1v1h-1zM650 739h1v1h-1zM656 739h1v1h-1zM661 739h2v1h-2zM677 739h1v1h-1zM710 739h1v1h-1zM717 739h1v1h-1zM733 739h1v1h-1zM754 739h1v1h-1zM760 739h1v1h-1zM776 739h1v1h-1zM809 739h1v1h-1zM824 739h1v1h-1zM855 739h1v1h-1zM870 739h1v1h-1zM1046 739h1v1h-1zM1069 739h1v1h-1zM1074 739h1v1h-1zM1082 739h1v1h-1zM1095 739h1v1h-1zM1102 739h1v1h-1zM1120 739h1v1h-1zM1125 739h1v1h-1zM1127 739h1v1h-1zM1286 739h1v1h-1zM1299 739h1v1h-1zM1309 739h1v1h-1zM1326 739h1v1h-1zM1364 739h1v1h-1zM1381 739h1v1h-1zM1460 739h1v1h-1zM1494 739h1v1h-1zM1558 739h1v1h-1zM1586 739h1v1h-1zM1600 739h1v1h-1zM1642 739h1v1h-1zM1667 739h1v1h-1zM1720 739h1v1h-1zM1736 739h1v1h-1zM1742 739h1v1h-1zM1775 739h1v1h-1zM1 740h1v1h-1zM12 740h1v1h-1zM45 740h1v1h-1zM48 740h1v1h-1zM62 740h1v1h-1zM68 740h1v1h-1zM74 740h1v1h-1zM216 740h1v1h-1zM227 740h1v1h-1zM336 740h1v1h-1zM358 740h1v1h-1zM437 740h1v1h-1zM487 740h1v1h-1zM574 740h1v1h-1zM630 740h1v1h-1zM650 740h1v1h-1zM657 740h1v1h-1zM659 740h2v1h-2zM662 740h1v1h-1zM676 740h2v1h-2zM710 740h1v1h-1zM718 740h1v1h-1zM733 740h1v1h-1zM755 740h1v1h-1zM760 740h1v1h-1zM776 740h1v1h-1zM809 740h1v1h-1zM824 740h1v1h-1zM855 740h1v1h-1zM870 740h1v1h-1zM1046 740h1v1h-1zM1070 740h1v1h-1zM1074 740h1v1h-1zM1083 740h1v1h-1zM1094 740h1v1h-1zM1102 740h1v1h-1zM1120 740h1v1h-1zM1125 740h1v1h-1zM1127 740h1v1h-1zM1286 740h1v1h-1zM1299 740h1v1h-1zM1309 740h1v1h-1zM1326 740h1v1h-1zM1364 740h1v1h-1zM1381 740h1v1h-1zM1459 740h1v1h-1zM1494 740h1v1h-1zM1558 740h1v1h-1zM1586 740h1v1h-1zM1600 740h1v1h-1zM1642 740h1v1h-1zM1662 740h6v1h-6zM1720 740h1v1h-1zM1736 740h1v1h-1zM1742 740h1v1h-1zM1775 740h1v1h-1zM1 741h1v1h-1zM12 741h1v1h-1zM45 741h1v1h-1zM48 741h1v1h-1zM62 741h2v1h-2zM68 741h1v1h-1zM74 741h1v1h-1zM216 741h1v1h-1zM228 741h1v1h-1zM336 741h1v1h-1zM359 741h1v1h-1zM437 741h2v1h-2zM487 741h1v1h-1zM574 741h1v1h-1zM631 741h1v1h-1zM649 741h1v1h-1zM657 741h2v1h-2zM662 741h1v1h-1zM676 741h2v1h-2zM710 741h1v1h-1zM718 741h1v1h-1zM733 741h1v1h-1zM755 741h1v1h-1zM759 741h1v1h-1zM776 741h1v1h-1zM809 741h1v1h-1zM824 741h1v1h-1zM855 741h1v1h-1zM871 741h1v1h-1zM1046 741h1v1h-1zM1070 741h1v1h-1zM1074 741h1v1h-1zM1084 741h1v1h-1zM1094 741h1v1h-1zM1120 741h1v1h-1zM1125 741h1v1h-1zM1127 741h1v1h-1zM1286 741h1v1h-1zM1299 741h1v1h-1zM1309 741h1v1h-1zM1327 741h1v1h-1zM1364 741h1v1h-1zM1381 741h1v1h-1zM1458 741h1v1h-1zM1494 741h1v1h-1zM1558 741h1v1h-1zM1586 741h1v1h-1zM1599 741h1v1h-1zM1643 741h1v1h-1zM1662 741h1v1h-1zM1721 741h1v1h-1zM1735 741h1v1h-1zM1775 741h1v1h-1zM1 742h1v1h-1zM12 742h1v1h-1zM44 742h1v1h-1zM48 742h1v1h-1zM62 742h1v1h-1zM64 742h1v1h-1zM68 742h1v1h-1zM74 742h1v1h-1zM215 742h1v1h-1zM228 742h1v1h-1zM336 742h1v1h-1zM359 742h1v1h-1zM437 742h2v1h-2zM487 742h1v1h-1zM574 742h1v1h-1zM631 742h1v1h-1zM649 742h1v1h-1zM662 742h1v1h-1zM675 742h1v1h-1zM678 742h1v1h-1zM710 742h1v1h-1zM718 742h1v1h-1zM732 742h1v1h-1zM755 742h1v1h-1zM759 742h1v1h-1zM776 742h1v1h-1zM809 742h1v1h-1zM824 742h1v1h-1zM855 742h1v1h-1zM871 742h1v1h-1zM1046 742h1v1h-1zM1070 742h1v1h-1zM1073 742h1v1h-1zM1084 742h1v1h-1zM1094 742h1v1h-1zM1121 742h1v1h-1zM1125 742h1v1h-1zM1127 742h1v1h-1zM1286 742h1v1h-1zM1299 742h1v1h-1zM1309 742h1v1h-1zM1327 742h1v1h-1zM1364 742h1v1h-1zM1381 742h1v1h-1zM1458 742h1v1h-1zM1494 742h1v1h-1zM1558 742h1v1h-1zM1586 742h1v1h-1zM1599 742h1v1h-1zM1643 742h1v1h-1zM1662 742h1v1h-1zM1721 742h1v1h-1zM1735 742h1v1h-1zM1775 742h1v1h-1zM1797 742h1v1h-1zM1 743h1v1h-1zM12 743h1v1h-1zM43 743h1v1h-1zM48 743h1v1h-1zM61 743h1v1h-1zM65 743h1v1h-1zM67 743h1v1h-1zM74 743h1v1h-1zM215 743h1v1h-1zM228 743h1v1h-1zM336 743h1v1h-1zM359 743h1v1h-1zM436 743h1v1h-1zM439 743h1v1h-1zM487 743h1v1h-1zM574 743h1v1h-1zM631 743h1v1h-1zM649 743h1v1h-1zM662 743h1v1h-1zM675 743h1v1h-1zM678 743h1v1h-1zM710 743h1v1h-1zM718 743h1v1h-1zM730 743h3v1h-3zM755 743h1v1h-1zM759 743h1v1h-1zM776 743h1v1h-1zM809 743h1v1h-1zM825 743h1v1h-1zM855 743h1v1h-1zM871 743h1v1h-1zM1045 743h1v1h-1zM1071 743h1v1h-1zM1073 743h1v1h-1zM1085 743h1v1h-1zM1094 743h1v1h-1zM1121 743h1v1h-1zM1125 743h1v1h-1zM1128 743h1v1h-1zM1286 743h1v1h-1zM1300 743h1v1h-1zM1308 743h1v1h-1zM1327 743h1v1h-1zM1364 743h1v1h-1zM1381 743h1v1h-1zM1457 743h1v1h-1zM1494 743h1v1h-1zM1557 743h1v1h-1zM1586 743h1v1h-1zM1599 743h1v1h-1zM1643 743h1v1h-1zM1662 743h1v1h-1zM1721 743h1v1h-1zM1735 743h1v1h-1zM1775 743h1v1h-1zM1797 743h1v1h-1zM0 744h1v1h-1zM12 744h1v1h-1zM42 744h1v1h-1zM49 744h1v1h-1zM61 744h1v1h-1zM66 744h2v1h-2zM74 744h1v1h-1zM215 744h1v1h-1zM228 744h1v1h-1zM335 744h1v1h-1zM359 744h1v1h-1zM417 744h1v1h-1zM436 744h1v1h-1zM440 744h1v1h-1zM487 744h2v1h-2zM574 744h1v1h-1zM631 744h1v1h-1zM649 744h1v1h-1zM662 744h1v1h-1zM675 744h1v1h-1zM678 744h1v1h-1zM710 744h1v1h-1zM718 744h1v1h-1zM727 744h3v1h-3zM755 744h1v1h-1zM759 744h1v1h-1zM776 744h1v1h-1zM787 744h1v1h-1zM809 744h1v1h-1zM825 744h1v1h-1zM855 744h1v1h-1zM871 744h1v1h-1zM927 744h1v1h-1zM1045 744h1v1h-1zM1071 744h1v1h-1zM1073 744h1v1h-1zM1086 744h1v1h-1zM1094 744h1v1h-1zM1121 744h1v1h-1zM1124 744h1v1h-1zM1128 744h1v1h-1zM1286 744h1v1h-1zM1300 744h1v1h-1zM1308 744h1v1h-1zM1327 744h1v1h-1zM1364 744h1v1h-1zM1381 744h1v1h-1zM1457 744h1v1h-1zM1494 744h1v1h-1zM1557 744h1v1h-1zM1586 744h1v1h-1zM1599 744h1v1h-1zM1644 744h1v1h-1zM1662 744h1v1h-1zM1721 744h1v1h-1zM1735 744h1v1h-1zM1776 744h1v1h-1zM1796 744h1v1h-1zM0 745h1v1h-1zM12 745h1v1h-1zM42 745h1v1h-1zM49 745h1v1h-1zM61 745h1v1h-1zM67 745h1v1h-1zM74 745h1v1h-1zM215 745h1v1h-1zM228 745h1v1h-1zM335 745h1v1h-1zM359 745h1v1h-1zM417 745h1v1h-1zM436 745h1v1h-1zM441 745h1v1h-1zM487 745h2v1h-2zM573 745h1v1h-1zM631 745h1v1h-1zM642 745h1v1h-1zM649 745h1v1h-1zM662 745h1v1h-1zM674 745h1v1h-1zM678 745h1v1h-1zM710 745h1v1h-1zM718 745h1v1h-1zM727 745h1v1h-1zM755 745h1v1h-1zM759 745h1v1h-1zM776 745h1v1h-1zM787 745h1v1h-1zM808 745h1v1h-1zM825 745h1v1h-1zM847 745h1v1h-1zM855 745h1v1h-1zM871 745h1v1h-1zM927 745h1v1h-1zM1045 745h1v1h-1zM1071 745h1v1h-1zM1073 745h1v1h-1zM1086 745h1v1h-1zM1093 745h1v1h-1zM1121 745h1v1h-1zM1124 745h1v1h-1zM1128 745h1v1h-1zM1137 745h1v1h-1zM1285 745h1v1h-1zM1300 745h1v1h-1zM1308 745h1v1h-1zM1327 745h1v1h-1zM1364 745h1v1h-1zM1382 745h1v1h-1zM1457 745h1v1h-1zM1494 745h1v1h-1zM1557 745h1v1h-1zM1587 745h1v1h-1zM1599 745h1v1h-1zM1644 745h1v1h-1zM1661 745h1v1h-1zM1721 745h1v1h-1zM1735 745h1v1h-1zM1776 745h1v1h-1zM1796 745h1v1h-1zM0 746h1v1h-1zM12 746h1v1h-1zM42 746h1v1h-1zM49 746h1v1h-1zM61 746h1v1h-1zM74 746h1v1h-1zM215 746h1v1h-1zM228 746h1v1h-1zM335 746h1v1h-1zM359 746h1v1h-1zM417 746h1v1h-1zM435 746h1v1h-1zM441 746h1v1h-1zM487 746h2v1h-2zM573 746h1v1h-1zM631 746h1v1h-1zM642 746h1v1h-1zM649 746h1v1h-1zM663 746h1v1h-1zM674 746h1v1h-1zM678 746h1v1h-1zM710 746h1v1h-1zM718 746h1v1h-1zM727 746h1v1h-1zM755 746h1v1h-1zM759 746h1v1h-1zM776 746h1v1h-1zM787 746h1v1h-1zM808 746h1v1h-1zM825 746h1v1h-1zM847 746h1v1h-1zM854 746h1v1h-1zM871 746h1v1h-1zM927 746h1v1h-1zM1045 746h1v1h-1zM1072 746h1v1h-1zM1087 746h1v1h-1zM1093 746h1v1h-1zM1121 746h1v1h-1zM1124 746h1v1h-1zM1128 746h1v1h-1zM1137 746h1v1h-1zM1285 746h1v1h-1zM1300 746h1v1h-1zM1308 746h1v1h-1zM1327 746h1v1h-1zM1363 746h1v1h-1zM1382 746h1v1h-1zM1457 746h1v1h-1zM1494 746h1v1h-1zM1556 746h1v1h-1zM1587 746h1v1h-1zM1599 746h1v1h-1zM1644 746h1v1h-1zM1661 746h1v1h-1zM1721 746h1v1h-1zM1735 746h1v1h-1zM1776 746h1v1h-1zM1796 746h1v1h-1zM0 747h1v1h-1zM12 747h1v1h-1zM42 747h1v1h-1zM49 747h1v1h-1zM61 747h1v1h-1zM74 747h1v1h-1zM215 747h1v1h-1zM228 747h1v1h-1zM335 747h1v1h-1zM359 747h1v1h-1zM372 747h1v1h-1zM417 747h1v1h-1zM435 747h1v1h-1zM442 747h1v1h-1zM487 747h2v1h-2zM573 747h1v1h-1zM631 747h1v1h-1zM641 747h1v1h-1zM643 747h1v1h-1zM648 747h1v1h-1zM663 747h1v1h-1zM673 747h1v1h-1zM678 747h1v1h-1zM709 747h1v1h-1zM718 747h1v1h-1zM727 747h1v1h-1zM756 747h1v1h-1zM758 747h1v1h-1zM776 747h1v1h-1zM787 747h1v1h-1zM808 747h1v1h-1zM825 747h1v1h-1zM846 747h2v1h-2zM854 747h1v1h-1zM871 747h1v1h-1zM927 747h2v1h-2zM1045 747h1v1h-1zM1072 747h1v1h-1zM1087 747h1v1h-1zM1093 747h1v1h-1zM1121 747h1v1h-1zM1124 747h1v1h-1zM1129 747h1v1h-1zM1136 747h2v1h-2zM1285 747h1v1h-1zM1300 747h1v1h-1zM1308 747h1v1h-1zM1327 747h1v1h-1zM1363 747h1v1h-1zM1382 747h1v1h-1zM1457 747h1v1h-1zM1495 747h1v1h-1zM1556 747h1v1h-1zM1587 747h1v1h-1zM1598 747h1v1h-1zM1645 747h1v1h-1zM1661 747h1v1h-1zM1721 747h1v1h-1zM1735 747h1v1h-1zM1776 747h1v1h-1zM1795 747h1v1h-1zM0 748h1v1h-1zM13 748h1v1h-1zM42 748h1v1h-1zM50 748h1v1h-1zM60 748h1v1h-1zM74 748h1v1h-1zM215 748h1v1h-1zM228 748h1v1h-1zM335 748h1v1h-1zM360 748h1v1h-1zM372 748h1v1h-1zM416 748h2v1h-2zM435 748h1v1h-1zM442 748h1v1h-1zM487 748h2v1h-2zM573 748h1v1h-1zM631 748h1v1h-1zM641 748h1v1h-1zM643 748h1v1h-1zM648 748h1v1h-1zM663 748h1v1h-1zM673 748h1v1h-1zM678 748h1v1h-1zM709 748h1v1h-1zM718 748h1v1h-1zM727 748h1v1h-1zM756 748h1v1h-1zM758 748h1v1h-1zM776 748h1v1h-1zM786 748h1v1h-1zM788 748h1v1h-1zM808 748h1v1h-1zM825 748h1v1h-1zM846 748h1v1h-1zM848 748h1v1h-1zM854 748h1v1h-1zM872 748h1v1h-1zM926 748h1v1h-1zM928 748h1v1h-1zM1045 748h1v1h-1zM1072 748h1v1h-1zM1087 748h1v1h-1zM1093 748h1v1h-1zM1121 748h1v1h-1zM1123 748h1v1h-1zM1129 748h1v1h-1zM1136 748h1v1h-1zM1138 748h1v1h-1zM1285 748h1v1h-1zM1300 748h1v1h-1zM1308 748h1v1h-1zM1327 748h1v1h-1zM1363 748h1v1h-1zM1382 748h1v1h-1zM1457 748h1v1h-1zM1495 748h1v1h-1zM1556 748h1v1h-1zM1587 748h1v1h-1zM1598 748h1v1h-1zM1645 748h1v1h-1zM1661 748h1v1h-1zM1722 748h1v1h-1zM1735 748h1v1h-1zM1776 748h1v1h-1zM1795 748h1v1h-1zM0 749h1v1h-1zM13 749h1v1h-1zM42 749h1v1h-1zM50 749h1v1h-1zM60 749h1v1h-1zM74 749h1v1h-1zM214 749h1v1h-1zM228 749h1v1h-1zM335 749h1v1h-1zM360 749h1v1h-1zM371 749h1v1h-1zM373 749h1v1h-1zM416 749h1v1h-1zM418 749h1v1h-1zM435 749h1v1h-1zM442 749h1v1h-1zM486 749h1v1h-1zM488 749h1v1h-1zM573 749h1v1h-1zM631 749h1v1h-1zM641 749h1v1h-1zM644 749h1v1h-1zM648 749h1v1h-1zM663 749h1v1h-1zM672 749h1v1h-1zM679 749h1v1h-1zM697 749h1v1h-1zM709 749h1v1h-1zM718 749h1v1h-1zM726 749h1v1h-1zM756 749h1v1h-1zM758 749h1v1h-1zM777 749h1v1h-1zM786 749h1v1h-1zM788 749h1v1h-1zM808 749h1v1h-1zM825 749h1v1h-1zM845 749h1v1h-1zM848 749h1v1h-1zM854 749h1v1h-1zM872 749h1v1h-1zM926 749h1v1h-1zM928 749h1v1h-1zM1044 749h1v1h-1zM1088 749h1v1h-1zM1093 749h1v1h-1zM1121 749h1v1h-1zM1123 749h1v1h-1zM1129 749h1v1h-1zM1136 749h1v1h-1zM1138 749h1v1h-1zM1285 749h1v1h-1zM1300 749h1v1h-1zM1308 749h1v1h-1zM1327 749h1v1h-1zM1363 749h1v1h-1zM1382 749h1v1h-1zM1457 749h1v1h-1zM1495 749h1v1h-1zM1555 749h1v1h-1zM1587 749h1v1h-1zM1598 749h1v1h-1zM1645 749h1v1h-1zM1661 749h1v1h-1zM1722 749h1v1h-1zM1735 749h1v1h-1zM1777 749h1v1h-1zM1795 749h1v1h-1zM0 750h1v1h-1zM13 750h1v1h-1zM42 750h1v1h-1zM50 750h1v1h-1zM60 750h1v1h-1zM75 750h1v1h-1zM214 750h1v1h-1zM228 750h1v1h-1zM335 750h1v1h-1zM360 750h1v1h-1zM371 750h1v1h-1zM373 750h1v1h-1zM416 750h1v1h-1zM418 750h1v1h-1zM434 750h1v1h-1zM442 750h1v1h-1zM486 750h1v1h-1zM488 750h1v1h-1zM573 750h1v1h-1zM631 750h1v1h-1zM640 750h1v1h-1zM644 750h1v1h-1zM648 750h1v1h-1zM663 750h1v1h-1zM672 750h1v1h-1zM679 750h1v1h-1zM687 750h4v1h-4zM693 750h5v1h-5zM709 750h1v1h-1zM719 750h1v1h-1zM726 750h1v1h-1zM756 750h1v1h-1zM758 750h1v1h-1zM777 750h1v1h-1zM786 750h1v1h-1zM788 750h1v1h-1zM808 750h1v1h-1zM825 750h1v1h-1zM845 750h1v1h-1zM848 750h1v1h-1zM854 750h1v1h-1zM872 750h1v1h-1zM926 750h1v1h-1zM928 750h1v1h-1zM1044 750h1v1h-1zM1088 750h1v1h-1zM1092 750h1v1h-1zM1121 750h1v1h-1zM1123 750h1v1h-1zM1129 750h1v1h-1zM1135 750h1v1h-1zM1138 750h1v1h-1zM1285 750h1v1h-1zM1301 750h1v1h-1zM1307 750h1v1h-1zM1328 750h1v1h-1zM1363 750h1v1h-1zM1382 750h1v1h-1zM1456 750h1v1h-1zM1495 750h1v1h-1zM1555 750h1v1h-1zM1587 750h1v1h-1zM1598 750h1v1h-1zM1645 750h1v1h-1zM1661 750h1v1h-1zM1723 750h1v1h-1zM1735 750h1v1h-1zM1777 750h1v1h-1zM1794 750h1v1h-1zM0 751h1v1h-1zM13 751h1v1h-1zM41 751h1v1h-1zM50 751h1v1h-1zM60 751h1v1h-1zM75 751h1v1h-1zM214 751h1v1h-1zM228 751h1v1h-1zM335 751h1v1h-1zM360 751h1v1h-1zM370 751h1v1h-1zM373 751h1v1h-1zM416 751h1v1h-1zM418 751h1v1h-1zM434 751h1v1h-1zM443 751h1v1h-1zM486 751h1v1h-1zM488 751h1v1h-1zM522 751h1v1h-1zM573 751h1v1h-1zM631 751h1v1h-1zM640 751h1v1h-1zM645 751h1v1h-1zM648 751h1v1h-1zM663 751h1v1h-1zM672 751h1v1h-1zM679 751h1v1h-1zM687 751h1v1h-1zM691 751h2v1h-2zM697 751h1v1h-1zM709 751h1v1h-1zM719 751h1v1h-1zM726 751h1v1h-1zM756 751h1v1h-1zM758 751h1v1h-1zM777 751h1v1h-1zM786 751h1v1h-1zM788 751h1v1h-1zM808 751h1v1h-1zM825 751h1v1h-1zM844 751h1v1h-1zM848 751h1v1h-1zM854 751h1v1h-1zM872 751h1v1h-1zM926 751h1v1h-1zM928 751h1v1h-1zM1044 751h1v1h-1zM1088 751h1v1h-1zM1092 751h1v1h-1zM1122 751h2v1h-2zM1130 751h1v1h-1zM1135 751h1v1h-1zM1138 751h1v1h-1zM1172 751h1v1h-1zM1285 751h1v1h-1zM1301 751h1v1h-1zM1307 751h1v1h-1zM1328 751h1v1h-1zM1363 751h1v1h-1zM1382 751h1v1h-1zM1456 751h1v1h-1zM1495 751h1v1h-1zM1555 751h1v1h-1zM1588 751h1v1h-1zM1598 751h1v1h-1zM1646 751h1v1h-1zM1661 751h1v1h-1zM1723 751h1v1h-1zM1735 751h1v1h-1zM1777 751h1v1h-1zM1794 751h1v1h-1zM0 752h1v1h-1zM13 752h1v1h-1zM41 752h1v1h-1zM51 752h1v1h-1zM60 752h1v1h-1zM75 752h1v1h-1zM214 752h1v1h-1zM229 752h1v1h-1zM335 752h1v1h-1zM360 752h1v1h-1zM370 752h1v1h-1zM373 752h1v1h-1zM416 752h1v1h-1zM418 752h1v1h-1zM434 752h1v1h-1zM443 752h1v1h-1zM486 752h1v1h-1zM489 752h1v1h-1zM521 752h2v1h-2zM572 752h1v1h-1zM631 752h1v1h-1zM640 752h1v1h-1zM645 752h1v1h-1zM648 752h1v1h-1zM663 752h1v1h-1zM672 752h1v1h-1zM679 752h1v1h-1zM687 752h1v1h-1zM697 752h1v1h-1zM709 752h1v1h-1zM719 752h1v1h-1zM726 752h1v1h-1zM756 752h1v1h-1zM758 752h1v1h-1zM777 752h1v1h-1zM786 752h1v1h-1zM788 752h1v1h-1zM808 752h1v1h-1zM825 752h1v1h-1zM844 752h1v1h-1zM849 752h1v1h-1zM854 752h1v1h-1zM872 752h1v1h-1zM926 752h1v1h-1zM929 752h1v1h-1zM1044 752h1v1h-1zM1089 752h1v1h-1zM1092 752h1v1h-1zM1122 752h2v1h-2zM1130 752h1v1h-1zM1135 752h1v1h-1zM1139 752h1v1h-1zM1172 752h1v1h-1zM1285 752h1v1h-1zM1301 752h1v1h-1zM1307 752h1v1h-1zM1328 752h1v1h-1zM1363 752h1v1h-1zM1382 752h1v1h-1zM1456 752h1v1h-1zM1495 752h1v1h-1zM1554 752h1v1h-1zM1588 752h1v1h-1zM1597 752h1v1h-1zM1646 752h1v1h-1zM1661 752h1v1h-1zM1723 752h1v1h-1zM1735 752h1v1h-1zM1777 752h1v1h-1zM1794 752h1v1h-1zM0 753h1v1h-1zM13 753h1v1h-1zM41 753h1v1h-1zM51 753h1v1h-1zM60 753h1v1h-1zM75 753h1v1h-1zM214 753h1v1h-1zM229 753h1v1h-1zM335 753h1v1h-1zM360 753h1v1h-1zM370 753h1v1h-1zM373 753h1v1h-1zM416 753h1v1h-1zM418 753h1v1h-1zM434 753h1v1h-1zM443 753h1v1h-1zM486 753h1v1h-1zM489 753h1v1h-1zM520 753h1v1h-1zM522 753h1v1h-1zM572 753h1v1h-1zM631 753h1v1h-1zM639 753h1v1h-1zM646 753h2v1h-2zM663 753h1v1h-1zM672 753h1v1h-1zM679 753h1v1h-1zM686 753h1v1h-1zM697 753h1v1h-1zM709 753h1v1h-1zM719 753h1v1h-1zM726 753h1v1h-1zM756 753h1v1h-1zM758 753h1v1h-1zM777 753h1v1h-1zM786 753h1v1h-1zM788 753h1v1h-1zM808 753h1v1h-1zM826 753h1v1h-1zM844 753h1v1h-1zM849 753h1v1h-1zM854 753h1v1h-1zM872 753h1v1h-1zM925 753h1v1h-1zM929 753h1v1h-1zM1044 753h1v1h-1zM1089 753h1v1h-1zM1092 753h1v1h-1zM1122 753h1v1h-1zM1130 753h1v1h-1zM1134 753h1v1h-1zM1139 753h1v1h-1zM1172 753h2v1h-2zM1285 753h1v1h-1zM1301 753h7v1h-7zM1328 753h1v1h-1zM1363 753h1v1h-1zM1382 753h1v1h-1zM1456 753h1v1h-1zM1495 753h1v1h-1zM1554 753h1v1h-1zM1588 753h1v1h-1zM1597 753h1v1h-1zM1646 753h1v1h-1zM1661 753h1v1h-1zM1724 753h1v1h-1zM1734 753h1v1h-1zM1777 753h1v1h-1zM1794 753h1v1h-1zM0 754h1v1h-1zM13 754h1v1h-1zM41 754h1v1h-1zM51 754h1v1h-1zM59 754h1v1h-1zM75 754h1v1h-1zM214 754h1v1h-1zM229 754h1v1h-1zM335 754h1v1h-1zM360 754h1v1h-1zM369 754h1v1h-1zM374 754h1v1h-1zM416 754h1v1h-1zM418 754h1v1h-1zM433 754h1v1h-1zM443 754h1v1h-1zM486 754h1v1h-1zM489 754h1v1h-1zM520 754h1v1h-1zM522 754h1v1h-1zM572 754h1v1h-1zM631 754h1v1h-1zM639 754h1v1h-1zM646 754h2v1h-2zM663 754h1v1h-1zM671 754h1v1h-1zM679 754h1v1h-1zM686 754h1v1h-1zM698 754h1v1h-1zM709 754h1v1h-1zM719 754h1v1h-1zM726 754h1v1h-1zM757 754h1v1h-1zM777 754h1v1h-1zM785 754h1v1h-1zM788 754h1v1h-1zM808 754h1v1h-1zM826 754h1v1h-1zM843 754h1v1h-1zM849 754h1v1h-1zM854 754h1v1h-1zM872 754h1v1h-1zM925 754h1v1h-1zM929 754h1v1h-1zM1044 754h1v1h-1zM1090 754h1v1h-1zM1092 754h1v1h-1zM1122 754h1v1h-1zM1131 754h1v1h-1zM1134 754h1v1h-1zM1139 754h1v1h-1zM1172 754h2v1h-2zM1284 754h1v1h-1zM1301 754h1v1h-1zM1328 754h1v1h-1zM1362 754h1v1h-1zM1383 754h1v1h-1zM1456 754h1v1h-1zM1495 754h1v1h-1zM1553 754h1v1h-1zM1588 754h1v1h-1zM1597 754h1v1h-1zM1647 754h1v1h-1zM1661 754h1v1h-1zM1724 754h1v1h-1zM1734 754h1v1h-1zM1777 754h1v1h-1zM1793 754h1v1h-1zM13 755h1v1h-1zM41 755h1v1h-1zM52 755h1v1h-1zM59 755h1v1h-1zM75 755h1v1h-1zM213 755h1v1h-1zM229 755h1v1h-1zM335 755h1v1h-1zM361 755h1v1h-1zM369 755h1v1h-1zM374 755h1v1h-1zM416 755h1v1h-1zM418 755h1v1h-1zM433 755h1v1h-1zM443 755h1v1h-1zM486 755h1v1h-1zM489 755h1v1h-1zM519 755h1v1h-1zM523 755h1v1h-1zM572 755h1v1h-1zM632 755h1v1h-1zM639 755h1v1h-1zM647 755h1v1h-1zM663 755h1v1h-1zM671 755h1v1h-1zM679 755h1v1h-1zM686 755h1v1h-1zM698 755h1v1h-1zM709 755h1v1h-1zM719 755h1v1h-1zM726 755h1v1h-1zM757 755h1v1h-1zM777 755h1v1h-1zM785 755h1v1h-1zM789 755h1v1h-1zM808 755h1v1h-1zM826 755h1v1h-1zM843 755h1v1h-1zM849 755h1v1h-1zM853 755h1v1h-1zM872 755h1v1h-1zM925 755h1v1h-1zM929 755h1v1h-1zM1044 755h1v1h-1zM1090 755h1v1h-1zM1092 755h1v1h-1zM1131 755h1v1h-1zM1134 755h1v1h-1zM1139 755h1v1h-1zM1171 755h1v1h-1zM1173 755h1v1h-1zM1284 755h1v1h-1zM1328 755h1v1h-1zM1362 755h1v1h-1zM1383 755h1v1h-1zM1456 755h1v1h-1zM1495 755h1v1h-1zM1537 755h1v1h-1zM1553 755h1v1h-1zM1588 755h1v1h-1zM1597 755h1v1h-1zM1647 755h1v1h-1zM1660 755h1v1h-1zM1724 755h1v1h-1zM1734 755h1v1h-1zM1777 755h1v1h-1zM1793 755h1v1h-1zM13 756h1v1h-1zM41 756h1v1h-1zM52 756h1v1h-1zM59 756h1v1h-1zM75 756h1v1h-1zM213 756h1v1h-1zM229 756h1v1h-1zM335 756h1v1h-1zM361 756h1v1h-1zM369 756h1v1h-1zM374 756h1v1h-1zM416 756h1v1h-1zM418 756h1v1h-1zM433 756h1v1h-1zM443 756h1v1h-1zM486 756h1v1h-1zM489 756h1v1h-1zM518 756h1v1h-1zM523 756h1v1h-1zM572 756h1v1h-1zM632 756h1v1h-1zM638 756h1v1h-1zM647 756h1v1h-1zM663 756h1v1h-1zM671 756h1v1h-1zM679 756h1v1h-1zM686 756h1v1h-1zM698 756h1v1h-1zM709 756h1v1h-1zM719 756h1v1h-1zM726 756h1v1h-1zM757 756h1v1h-1zM778 756h1v1h-1zM785 756h1v1h-1zM789 756h1v1h-1zM807 756h1v1h-1zM826 756h1v1h-1zM842 756h1v1h-1zM849 756h1v1h-1zM853 756h1v1h-1zM872 756h1v1h-1zM925 756h1v1h-1zM929 756h1v1h-1zM1043 756h1v1h-1zM1090 756h2v1h-2zM1131 756h1v1h-1zM1133 756h1v1h-1zM1140 756h1v1h-1zM1171 756h1v1h-1zM1173 756h1v1h-1zM1284 756h1v1h-1zM1328 756h1v1h-1zM1362 756h1v1h-1zM1383 756h1v1h-1zM1456 756h1v1h-1zM1495 756h1v1h-1zM1537 756h1v1h-1zM1553 756h1v1h-1zM1588 756h1v1h-1zM1597 756h1v1h-1zM1647 756h1v1h-1zM1660 756h1v1h-1zM1725 756h1v1h-1zM1734 756h1v1h-1zM1778 756h1v1h-1zM1793 756h1v1h-1zM13 757h1v1h-1zM41 757h1v1h-1zM52 757h1v1h-1zM59 757h1v1h-1zM75 757h1v1h-1zM213 757h1v1h-1zM229 757h1v1h-1zM334 757h1v1h-1zM361 757h1v1h-1zM368 757h1v1h-1zM374 757h1v1h-1zM415 757h1v1h-1zM418 757h1v1h-1zM433 757h1v1h-1zM443 757h1v1h-1zM486 757h1v1h-1zM489 757h1v1h-1zM518 757h1v1h-1zM523 757h1v1h-1zM572 757h1v1h-1zM632 757h1v1h-1zM638 757h1v1h-1zM663 757h1v1h-1zM671 757h1v1h-1zM680 757h1v1h-1zM686 757h1v1h-1zM698 757h1v1h-1zM708 757h1v1h-1zM719 757h1v1h-1zM725 757h1v1h-1zM757 757h1v1h-1zM778 757h1v1h-1zM785 757h1v1h-1zM789 757h1v1h-1zM807 757h1v1h-1zM826 757h1v1h-1zM842 757h1v1h-1zM850 757h1v1h-1zM853 757h1v1h-1zM873 757h1v1h-1zM925 757h1v1h-1zM930 757h1v1h-1zM1043 757h1v1h-1zM1091 757h1v1h-1zM1131 757h1v1h-1zM1133 757h1v1h-1zM1140 757h1v1h-1zM1171 757h1v1h-1zM1174 757h1v1h-1zM1284 757h1v1h-1zM1328 757h1v1h-1zM1362 757h1v1h-1zM1383 757h1v1h-1zM1456 757h1v1h-1zM1495 757h1v1h-1zM1537 757h2v1h-2zM1552 757h1v1h-1zM1588 757h1v1h-1zM1597 757h1v1h-1zM1647 757h1v1h-1zM1660 757h1v1h-1zM1725 757h1v1h-1zM1734 757h1v1h-1zM1778 757h1v1h-1zM1792 757h1v1h-1zM13 758h1v1h-1zM41 758h1v1h-1zM53 758h1v1h-1zM59 758h1v1h-1zM75 758h1v1h-1zM197 758h1v1h-1zM213 758h1v1h-1zM229 758h1v1h-1zM334 758h1v1h-1zM361 758h1v1h-1zM368 758h1v1h-1zM375 758h1v1h-1zM415 758h1v1h-1zM418 758h1v1h-1zM432 758h1v1h-1zM443 758h1v1h-1zM486 758h1v1h-1zM489 758h1v1h-1zM512 758h6v1h-6zM523 758h1v1h-1zM572 758h1v1h-1zM632 758h1v1h-1zM638 758h1v1h-1zM663 758h1v1h-1zM671 758h1v1h-1zM680 758h1v1h-1zM685 758h1v1h-1zM698 758h1v1h-1zM708 758h1v1h-1zM719 758h1v1h-1zM725 758h1v1h-1zM778 758h1v1h-1zM785 758h1v1h-1zM789 758h1v1h-1zM807 758h1v1h-1zM826 758h1v1h-1zM841 758h1v1h-1zM850 758h1v1h-1zM853 758h1v1h-1zM873 758h1v1h-1zM925 758h1v1h-1zM930 758h1v1h-1zM1043 758h1v1h-1zM1091 758h1v1h-1zM1132 758h2v1h-2zM1140 758h1v1h-1zM1171 758h1v1h-1zM1174 758h1v1h-1zM1284 758h1v1h-1zM1329 758h1v1h-1zM1362 758h1v1h-1zM1383 758h1v1h-1zM1456 758h1v1h-1zM1495 758h1v1h-1zM1536 758h1v1h-1zM1538 758h1v1h-1zM1552 758h1v1h-1zM1589 758h1v1h-1zM1596 758h1v1h-1zM1648 758h1v1h-1zM1660 758h1v1h-1zM1725 758h1v1h-1zM1734 758h1v1h-1zM1778 758h1v1h-1zM1792 758h1v1h-1zM13 759h1v1h-1zM41 759h1v1h-1zM53 759h1v1h-1zM58 759h1v1h-1zM75 759h1v1h-1zM197 759h1v1h-1zM213 759h1v1h-1zM229 759h1v1h-1zM334 759h1v1h-1zM361 759h1v1h-1zM368 759h1v1h-1zM375 759h1v1h-1zM415 759h1v1h-1zM419 759h1v1h-1zM432 759h1v1h-1zM443 759h1v1h-1zM486 759h1v1h-1zM489 759h1v1h-1zM512 759h1v1h-1zM523 759h1v1h-1zM572 759h1v1h-1zM632 759h1v1h-1zM637 759h1v1h-1zM663 759h1v1h-1zM671 759h1v1h-1zM680 759h1v1h-1zM685 759h1v1h-1zM698 759h1v1h-1zM708 759h1v1h-1zM719 759h1v1h-1zM725 759h1v1h-1zM778 759h1v1h-1zM785 759h1v1h-1zM789 759h1v1h-1zM807 759h1v1h-1zM826 759h1v1h-1zM841 759h1v1h-1zM850 759h1v1h-1zM853 759h1v1h-1zM873 759h1v1h-1zM924 759h1v1h-1zM930 759h1v1h-1zM1043 759h1v1h-1zM1132 759h1v1h-1zM1140 759h1v1h-1zM1171 759h1v1h-1zM1174 759h1v1h-1zM1284 759h1v1h-1zM1329 759h1v1h-1zM1361 759h1v1h-1zM1383 759h1v1h-1zM1456 759h1v1h-1zM1495 759h1v1h-1zM1536 759h1v1h-1zM1539 759h1v1h-1zM1552 759h1v1h-1zM1589 759h1v1h-1zM1596 759h1v1h-1zM1648 759h1v1h-1zM1660 759h1v1h-1zM1726 759h1v1h-1zM1734 759h1v1h-1zM1778 759h1v1h-1zM1791 759h1v1h-1zM13 760h1v1h-1zM41 760h1v1h-1zM54 760h1v1h-1zM58 760h1v1h-1zM75 760h1v1h-1zM196 760h2v1h-2zM213 760h1v1h-1zM229 760h1v1h-1zM334 760h1v1h-1zM361 760h1v1h-1zM367 760h1v1h-1zM375 760h1v1h-1zM415 760h1v1h-1zM419 760h1v1h-1zM432 760h1v1h-1zM444 760h1v1h-1zM486 760h1v1h-1zM490 760h1v1h-1zM512 760h1v1h-1zM523 760h1v1h-1zM571 760h1v1h-1zM632 760h1v1h-1zM637 760h1v1h-1zM664 760h1v1h-1zM671 760h1v1h-1zM680 760h1v1h-1zM685 760h1v1h-1zM698 760h1v1h-1zM708 760h1v1h-1zM720 760h1v1h-1zM725 760h1v1h-1zM779 760h1v1h-1zM785 760h1v1h-1zM789 760h1v1h-1zM807 760h1v1h-1zM826 760h1v1h-1zM840 760h1v1h-1zM850 760h1v1h-1zM853 760h1v1h-1zM873 760h1v1h-1zM924 760h1v1h-1zM930 760h1v1h-1zM1043 760h1v1h-1zM1132 760h1v1h-1zM1141 760h1v1h-1zM1171 760h1v1h-1zM1175 760h1v1h-1zM1284 760h1v1h-1zM1329 760h1v1h-1zM1361 760h1v1h-1zM1383 760h1v1h-1zM1456 760h1v1h-1zM1495 760h1v1h-1zM1511 760h1v1h-1zM1536 760h1v1h-1zM1539 760h1v1h-1zM1551 760h1v1h-1zM1589 760h1v1h-1zM1596 760h1v1h-1zM1648 760h1v1h-1zM1660 760h1v1h-1zM1726 760h1v1h-1zM1734 760h1v1h-1zM1778 760h1v1h-1zM1790 760h1v1h-1zM13 761h1v1h-1zM41 761h1v1h-1zM54 761h1v1h-1zM58 761h1v1h-1zM75 761h1v1h-1zM196 761h1v1h-1zM198 761h1v1h-1zM213 761h1v1h-1zM229 761h1v1h-1zM242 761h1v1h-1zM334 761h1v1h-1zM361 761h1v1h-1zM366 761h1v1h-1zM375 761h1v1h-1zM415 761h1v1h-1zM419 761h1v1h-1zM431 761h1v1h-1zM444 761h1v1h-1zM486 761h1v1h-1zM490 761h1v1h-1zM512 761h1v1h-1zM523 761h1v1h-1zM571 761h1v1h-1zM632 761h5v1h-5zM664 761h1v1h-1zM670 761h1v1h-1zM680 761h1v1h-1zM685 761h1v1h-1zM699 761h1v1h-1zM708 761h1v1h-1zM720 761h1v1h-1zM725 761h1v1h-1zM779 761h1v1h-1zM784 761h1v1h-1zM790 761h1v1h-1zM807 761h1v1h-1zM826 761h1v1h-1zM840 761h1v1h-1zM850 761h1v1h-1zM853 761h1v1h-1zM873 761h1v1h-1zM924 761h1v1h-1zM930 761h1v1h-1zM1043 761h1v1h-1zM1141 761h1v1h-1zM1170 761h1v1h-1zM1175 761h1v1h-1zM1284 761h1v1h-1zM1329 761h1v1h-1zM1360 761h1v1h-1zM1383 761h1v1h-1zM1456 761h1v1h-1zM1496 761h1v1h-1zM1510 761h2v1h-2zM1536 761h1v1h-1zM1539 761h1v1h-1zM1551 761h1v1h-1zM1589 761h1v1h-1zM1596 761h1v1h-1zM1649 761h1v1h-1zM1660 761h1v1h-1zM1726 761h1v1h-1zM1734 761h1v1h-1zM1778 761h1v1h-1zM1790 761h1v1h-1zM13 762h1v1h-1zM40 762h1v1h-1zM55 762h1v1h-1zM58 762h1v1h-1zM75 762h1v1h-1zM196 762h1v1h-1zM198 762h1v1h-1zM212 762h1v1h-1zM229 762h1v1h-1zM242 762h1v1h-1zM334 762h1v1h-1zM361 762h1v1h-1zM366 762h1v1h-1zM376 762h1v1h-1zM415 762h1v1h-1zM419 762h1v1h-1zM431 762h1v1h-1zM444 762h1v1h-1zM486 762h1v1h-1zM490 762h1v1h-1zM511 762h1v1h-1zM524 762h1v1h-1zM571 762h1v1h-1zM664 762h1v1h-1zM670 762h1v1h-1zM680 762h1v1h-1zM685 762h1v1h-1zM699 762h1v1h-1zM708 762h1v1h-1zM720 762h1v1h-1zM725 762h1v1h-1zM779 762h1v1h-1zM784 762h1v1h-1zM790 762h1v1h-1zM806 762h1v1h-1zM827 762h1v1h-1zM840 762h1v1h-1zM851 762h1v1h-1zM853 762h1v1h-1zM873 762h1v1h-1zM924 762h1v1h-1zM931 762h1v1h-1zM1042 762h1v1h-1zM1141 762h1v1h-1zM1170 762h1v1h-1zM1175 762h1v1h-1zM1284 762h1v1h-1zM1329 762h1v1h-1zM1359 762h1v1h-1zM1383 762h1v1h-1zM1456 762h1v1h-1zM1496 762h1v1h-1zM1509 762h1v1h-1zM1511 762h1v1h-1zM1535 762h1v1h-1zM1540 762h1v1h-1zM1551 762h1v1h-1zM1589 762h1v1h-1zM1595 762h1v1h-1zM1649 762h1v1h-1zM1660 762h1v1h-1zM1727 762h1v1h-1zM1734 762h1v1h-1zM1778 762h1v1h-1zM1789 762h1v1h-1zM13 763h1v1h-1zM40 763h1v1h-1zM55 763h1v1h-1zM58 763h1v1h-1zM76 763h1v1h-1zM92 763h1v1h-1zM195 763h1v1h-1zM198 763h1v1h-1zM212 763h1v1h-1zM230 763h1v1h-1zM242 763h2v1h-2zM334 763h1v1h-1zM362 763h1v1h-1zM365 763h1v1h-1zM376 763h1v1h-1zM415 763h1v1h-1zM419 763h1v1h-1zM430 763h1v1h-1zM444 763h1v1h-1zM486 763h1v1h-1zM490 763h1v1h-1zM511 763h1v1h-1zM524 763h1v1h-1zM571 763h1v1h-1zM664 763h1v1h-1zM670 763h1v1h-1zM680 763h1v1h-1zM684 763h1v1h-1zM699 763h1v1h-1zM708 763h1v1h-1zM720 763h1v1h-1zM725 763h1v1h-1zM779 763h1v1h-1zM784 763h1v1h-1zM790 763h1v1h-1zM806 763h1v1h-1zM827 763h1v1h-1zM839 763h1v1h-1zM851 763h1v1h-1zM853 763h1v1h-1zM873 763h1v1h-1zM924 763h1v1h-1zM931 763h1v1h-1zM1042 763h1v1h-1zM1141 763h1v1h-1zM1170 763h1v1h-1zM1176 763h1v1h-1zM1283 763h1v1h-1zM1329 763h1v1h-1zM1359 763h1v1h-1zM1384 763h1v1h-1zM1455 763h1v1h-1zM1496 763h1v1h-1zM1508 763h1v1h-1zM1512 763h1v1h-1zM1535 763h1v1h-1zM1540 763h1v1h-1zM1551 763h1v1h-1zM1589 763h1v1h-1zM1595 763h1v1h-1zM1649 763h1v1h-1zM1660 763h1v1h-1zM1727 763h1v1h-1zM1734 763h1v1h-1zM1779 763h1v1h-1zM1788 763h1v1h-1zM13 764h1v1h-1zM40 764h1v1h-1zM56 764h2v1h-2zM76 764h1v1h-1zM91 764h2v1h-2zM195 764h1v1h-1zM198 764h1v1h-1zM212 764h1v1h-1zM230 764h1v1h-1zM241 764h1v1h-1zM243 764h1v1h-1zM334 764h1v1h-1zM362 764h1v1h-1zM364 764h1v1h-1zM376 764h1v1h-1zM415 764h1v1h-1zM419 764h1v1h-1zM430 764h1v1h-1zM444 764h1v1h-1zM486 764h1v1h-1zM490 764h1v1h-1zM511 764h1v1h-1zM524 764h1v1h-1zM571 764h1v1h-1zM664 764h1v1h-1zM670 764h1v1h-1zM681 764h1v1h-1zM684 764h1v1h-1zM699 764h1v1h-1zM708 764h1v1h-1zM720 764h1v1h-1zM725 764h1v1h-1zM779 764h1v1h-1zM784 764h1v1h-1zM790 764h1v1h-1zM806 764h1v1h-1zM827 764h1v1h-1zM839 764h1v1h-1zM851 764h2v1h-2zM873 764h1v1h-1zM923 764h1v1h-1zM931 764h1v1h-1zM1042 764h1v1h-1zM1142 764h1v1h-1zM1170 764h1v1h-1zM1176 764h1v1h-1zM1283 764h1v1h-1zM1329 764h1v1h-1zM1358 764h1v1h-1zM1384 764h1v1h-1zM1455 764h1v1h-1zM1496 764h1v1h-1zM1507 764h1v1h-1zM1512 764h1v1h-1zM1535 764h1v1h-1zM1541 764h1v1h-1zM1551 764h1v1h-1zM1589 764h1v1h-1zM1595 764h1v1h-1zM1650 764h1v1h-1zM1660 764h1v1h-1zM1727 764h1v1h-1zM1734 764h1v1h-1zM1779 764h1v1h-1zM1787 764h1v1h-1zM13 765h1v1h-1zM40 765h1v1h-1zM57 765h1v1h-1zM76 765h1v1h-1zM82 765h1v1h-1zM90 765h1v1h-1zM92 765h1v1h-1zM195 765h1v1h-1zM198 765h1v1h-1zM212 765h1v1h-1zM230 765h1v1h-1zM241 765h1v1h-1zM243 765h1v1h-1zM334 765h1v1h-1zM362 765h2v1h-2zM376 765h1v1h-1zM414 765h1v1h-1zM419 765h1v1h-1zM429 765h1v1h-1zM444 765h1v1h-1zM486 765h1v1h-1zM490 765h1v1h-1zM511 765h1v1h-1zM524 765h1v1h-1zM571 765h1v1h-1zM664 765h1v1h-1zM670 765h1v1h-1zM681 765h1v1h-1zM684 765h1v1h-1zM699 765h1v1h-1zM708 765h1v1h-1zM720 765h1v1h-1zM724 765h1v1h-1zM780 765h1v1h-1zM784 765h1v1h-1zM790 765h1v1h-1zM805 765h1v1h-1zM827 765h1v1h-1zM838 765h1v1h-1zM851 765h2v1h-2zM873 765h1v1h-1zM923 765h1v1h-1zM931 765h1v1h-1zM1042 765h1v1h-1zM1142 765h1v1h-1zM1170 765h1v1h-1zM1176 765h1v1h-1zM1283 765h1v1h-1zM1329 765h1v1h-1zM1357 765h1v1h-1zM1384 765h1v1h-1zM1455 765h1v1h-1zM1496 765h1v1h-1zM1506 765h1v1h-1zM1512 765h1v1h-1zM1535 765h1v1h-1zM1541 765h1v1h-1zM1551 765h1v1h-1zM1590 765h1v1h-1zM1594 765h1v1h-1zM1650 765h1v1h-1zM1659 765h1v1h-1zM1728 765h1v1h-1zM1733 765h1v1h-1zM1779 765h1v1h-1zM1787 765h1v1h-1zM14 766h1v1h-1zM40 766h1v1h-1zM57 766h1v1h-1zM76 766h1v1h-1zM82 766h3v1h-3zM88 766h2v1h-2zM92 766h1v1h-1zM195 766h1v1h-1zM198 766h1v1h-1zM211 766h1v1h-1zM230 766h1v1h-1zM241 766h1v1h-1zM244 766h1v1h-1zM334 766h1v1h-1zM362 766h1v1h-1zM377 766h1v1h-1zM414 766h1v1h-1zM419 766h1v1h-1zM429 766h1v1h-1zM444 766h1v1h-1zM486 766h1v1h-1zM490 766h1v1h-1zM511 766h1v1h-1zM524 766h1v1h-1zM571 766h1v1h-1zM664 766h1v1h-1zM670 766h1v1h-1zM681 766h1v1h-1zM684 766h1v1h-1zM699 766h1v1h-1zM708 766h1v1h-1zM720 766h1v1h-1zM724 766h1v1h-1zM780 766h1v1h-1zM784 766h1v1h-1zM790 766h1v1h-1zM805 766h1v1h-1zM827 766h1v1h-1zM838 766h1v1h-1zM852 766h1v1h-1zM873 766h1v1h-1zM923 766h1v1h-1zM931 766h1v1h-1zM1042 766h1v1h-1zM1142 766h1v1h-1zM1170 766h1v1h-1zM1176 766h1v1h-1zM1283 766h1v1h-1zM1330 766h1v1h-1zM1357 766h1v1h-1zM1384 766h1v1h-1zM1455 766h1v1h-1zM1496 766h1v1h-1zM1506 766h1v1h-1zM1512 766h1v1h-1zM1534 766h1v1h-1zM1541 766h1v1h-1zM1551 766h1v1h-1zM1590 766h1v1h-1zM1594 766h1v1h-1zM1650 766h1v1h-1zM1659 766h1v1h-1zM1728 766h1v1h-1zM1733 766h1v1h-1zM1779 766h1v1h-1zM1787 766h1v1h-1zM14 767h1v1h-1zM40 767h1v1h-1zM76 767h1v1h-1zM82 767h1v1h-1zM85 767h3v1h-3zM93 767h1v1h-1zM194 767h1v1h-1zM199 767h1v1h-1zM210 767h1v1h-1zM230 767h1v1h-1zM241 767h1v1h-1zM244 767h1v1h-1zM334 767h1v1h-1zM377 767h1v1h-1zM414 767h1v1h-1zM419 767h1v1h-1zM428 767h1v1h-1zM444 767h1v1h-1zM486 767h1v1h-1zM490 767h1v1h-1zM497 767h1v1h-1zM511 767h1v1h-1zM524 767h1v1h-1zM552 767h1v1h-1zM571 767h1v1h-1zM664 767h1v1h-1zM670 767h1v1h-1zM681 767h1v1h-1zM683 767h1v1h-1zM699 767h1v1h-1zM707 767h1v1h-1zM720 767h1v1h-1zM724 767h1v1h-1zM780 767h1v1h-1zM783 767h1v1h-1zM790 767h1v1h-1zM805 767h1v1h-1zM827 767h4v1h-4zM837 767h1v1h-1zM852 767h1v1h-1zM873 767h1v1h-1zM923 767h1v1h-1zM932 767h1v1h-1zM1042 767h1v1h-1zM1142 767h1v1h-1zM1169 767h1v1h-1zM1177 767h1v1h-1zM1283 767h1v1h-1zM1330 767h1v1h-1zM1356 767h1v1h-1zM1384 767h1v1h-1zM1392 767h1v1h-1zM1455 767h1v1h-1zM1496 767h1v1h-1zM1506 767h1v1h-1zM1512 767h1v1h-1zM1534 767h1v1h-1zM1542 767h1v1h-1zM1551 767h1v1h-1zM1590 767h1v1h-1zM1594 767h1v1h-1zM1651 767h1v1h-1zM1659 767h1v1h-1zM1728 767h1v1h-1zM1733 767h1v1h-1zM1779 767h1v1h-1zM1786 767h1v1h-1zM14 768h1v1h-1zM40 768h1v1h-1zM76 768h1v1h-1zM81 768h1v1h-1zM93 768h1v1h-1zM194 768h1v1h-1zM199 768h1v1h-1zM209 768h1v1h-1zM230 768h1v1h-1zM240 768h1v1h-1zM244 768h1v1h-1zM334 768h1v1h-1zM377 768h1v1h-1zM414 768h1v1h-1zM419 768h1v1h-1zM428 768h1v1h-1zM445 768h1v1h-1zM485 768h1v1h-1zM491 768h1v1h-1zM496 768h2v1h-2zM511 768h1v1h-1zM524 768h1v1h-1zM551 768h2v1h-2zM571 768h1v1h-1zM664 768h1v1h-1zM670 768h1v1h-1zM681 768h1v1h-1zM683 768h1v1h-1zM699 768h1v1h-1zM707 768h1v1h-1zM720 768h1v1h-1zM724 768h1v1h-1zM780 768h1v1h-1zM783 768h1v1h-1zM791 768h1v1h-1zM804 768h1v1h-1zM831 768h3v1h-3zM837 768h1v1h-1zM852 768h1v1h-1zM873 768h1v1h-1zM923 768h1v1h-1zM932 768h1v1h-1zM1042 768h1v1h-1zM1143 768h1v1h-1zM1169 768h1v1h-1zM1177 768h1v1h-1zM1283 768h1v1h-1zM1330 768h1v1h-1zM1356 768h1v1h-1zM1384 768h1v1h-1zM1392 768h1v1h-1zM1455 768h1v1h-1zM1496 768h1v1h-1zM1506 768h1v1h-1zM1513 768h1v1h-1zM1534 768h1v1h-1zM1542 768h1v1h-1zM1550 768h1v1h-1zM1590 768h1v1h-1zM1594 768h1v1h-1zM1651 768h1v1h-1zM1659 768h1v1h-1zM1728 768h1v1h-1zM1733 768h1v1h-1zM1779 768h1v1h-1zM1786 768h1v1h-1zM14 769h1v1h-1zM40 769h1v1h-1zM76 769h1v1h-1zM81 769h1v1h-1zM93 769h1v1h-1zM102 769h1v1h-1zM194 769h1v1h-1zM199 769h1v1h-1zM208 769h1v1h-1zM230 769h1v1h-1zM240 769h1v1h-1zM245 769h1v1h-1zM334 769h1v1h-1zM378 769h2v1h-2zM414 769h1v1h-1zM420 769h1v1h-1zM427 769h1v1h-1zM445 769h1v1h-1zM485 769h1v1h-1zM491 769h1v1h-1zM496 769h2v1h-2zM511 769h1v1h-1zM524 769h1v1h-1zM550 769h1v1h-1zM553 769h1v1h-1zM571 769h1v1h-1zM664 769h1v1h-1zM669 769h1v1h-1zM681 769h1v1h-1zM683 769h1v1h-1zM700 769h1v1h-1zM707 769h1v1h-1zM720 769h1v1h-1zM724 769h1v1h-1zM781 769h1v1h-1zM783 769h1v1h-1zM791 769h1v1h-1zM804 769h1v1h-1zM834 769h3v1h-3zM874 769h1v1h-1zM882 769h1v1h-1zM923 769h1v1h-1zM932 769h1v1h-1zM1042 769h1v1h-1zM1143 769h1v1h-1zM1169 769h1v1h-1zM1177 769h1v1h-1zM1283 769h1v1h-1zM1330 769h1v1h-1zM1356 769h1v1h-1zM1384 769h1v1h-1zM1391 769h2v1h-2zM1455 769h1v1h-1zM1496 769h1v1h-1zM1506 769h1v1h-1zM1513 769h1v1h-1zM1534 769h1v1h-1zM1542 769h1v1h-1zM1550 769h1v1h-1zM1590 769h1v1h-1zM1593 769h1v1h-1zM1651 769h1v1h-1zM1659 769h1v1h-1zM1729 769h1v1h-1zM1733 769h1v1h-1zM1779 769h1v1h-1zM1786 769h1v1h-1zM14 770h1v1h-1zM40 770h1v1h-1zM76 770h1v1h-1zM81 770h1v1h-1zM93 770h1v1h-1zM102 770h1v1h-1zM193 770h1v1h-1zM199 770h1v1h-1zM207 770h1v1h-1zM230 770h1v1h-1zM240 770h1v1h-1zM245 770h1v1h-1zM334 770h1v1h-1zM380 770h1v1h-1zM414 770h1v1h-1zM420 770h1v1h-1zM427 770h1v1h-1zM445 770h1v1h-1zM485 770h1v1h-1zM491 770h1v1h-1zM496 770h2v1h-2zM511 770h1v1h-1zM525 770h1v1h-1zM550 770h1v1h-1zM553 770h1v1h-1zM570 770h1v1h-1zM664 770h1v1h-1zM669 770h1v1h-1zM681 770h1v1h-1zM683 770h1v1h-1zM700 770h1v1h-1zM707 770h1v1h-1zM721 770h1v1h-1zM724 770h1v1h-1zM781 770h1v1h-1zM783 770h1v1h-1zM791 770h1v1h-1zM804 770h1v1h-1zM836 770h1v1h-1zM874 770h1v1h-1zM882 770h1v1h-1zM922 770h1v1h-1zM932 770h1v1h-1zM1042 770h1v1h-1zM1143 770h1v1h-1zM1169 770h1v1h-1zM1178 770h1v1h-1zM1283 770h1v1h-1zM1330 770h1v1h-1zM1356 770h1v1h-1zM1384 770h1v1h-1zM1391 770h2v1h-2zM1455 770h1v1h-1zM1496 770h1v1h-1zM1505 770h1v1h-1zM1513 770h1v1h-1zM1533 770h1v1h-1zM1542 770h1v1h-1zM1550 770h1v1h-1zM1590 770h1v1h-1zM1593 770h1v1h-1zM1652 770h1v1h-1zM1659 770h1v1h-1zM1729 770h1v1h-1zM1733 770h1v1h-1zM1779 770h1v1h-1zM1786 770h1v1h-1zM14 771h1v1h-1zM40 771h1v1h-1zM76 771h1v1h-1zM80 771h1v1h-1zM93 771h1v1h-1zM102 771h2v1h-2zM193 771h1v1h-1zM199 771h1v1h-1zM207 771h1v1h-1zM230 771h1v1h-1zM240 771h1v1h-1zM245 771h1v1h-1zM333 771h1v1h-1zM381 771h1v1h-1zM392 771h1v1h-1zM414 771h1v1h-1zM420 771h1v1h-1zM427 771h1v1h-1zM445 771h1v1h-1zM485 771h1v1h-1zM491 771h1v1h-1zM495 771h1v1h-1zM497 771h1v1h-1zM510 771h1v1h-1zM525 771h1v1h-1zM549 771h1v1h-1zM554 771h1v1h-1zM570 771h1v1h-1zM664 771h1v1h-1zM669 771h1v1h-1zM682 771h2v1h-2zM700 771h1v1h-1zM707 771h1v1h-1zM721 771h1v1h-1zM724 771h1v1h-1zM781 771h1v1h-1zM783 771h1v1h-1zM791 771h1v1h-1zM803 771h1v1h-1zM874 771h1v1h-1zM882 771h2v1h-2zM922 771h1v1h-1zM933 771h1v1h-1zM1042 771h1v1h-1zM1143 771h1v1h-1zM1169 771h1v1h-1zM1178 771h1v1h-1zM1283 771h1v1h-1zM1330 771h1v1h-1zM1355 771h1v1h-1zM1384 771h1v1h-1zM1391 771h1v1h-1zM1393 771h1v1h-1zM1455 771h1v1h-1zM1496 771h1v1h-1zM1505 771h1v1h-1zM1513 771h1v1h-1zM1533 771h1v1h-1zM1542 771h1v1h-1zM1550 771h1v1h-1zM1590 771h1v1h-1zM1593 771h1v1h-1zM1652 771h1v1h-1zM1659 771h1v1h-1zM1729 771h1v1h-1zM1733 771h1v1h-1zM1780 771h1v1h-1zM1786 771h1v1h-1zM14 772h1v1h-1zM40 772h1v1h-1zM76 772h1v1h-1zM80 772h1v1h-1zM93 772h1v1h-1zM101 772h1v1h-1zM103 772h1v1h-1zM193 772h1v1h-1zM199 772h1v1h-1zM206 772h1v1h-1zM230 772h1v1h-1zM239 772h1v1h-1zM246 772h1v1h-1zM333 772h1v1h-1zM382 772h1v1h-1zM391 772h2v1h-2zM414 772h1v1h-1zM420 772h1v1h-1zM426 772h1v1h-1zM445 772h1v1h-1zM485 772h1v1h-1zM491 772h1v1h-1zM495 772h1v1h-1zM497 772h1v1h-1zM510 772h1v1h-1zM525 772h1v1h-1zM548 772h1v1h-1zM554 772h1v1h-1zM570 772h1v1h-1zM664 772h1v1h-1zM669 772h1v1h-1zM682 772h1v1h-1zM700 772h1v1h-1zM707 772h1v1h-1zM721 772h1v1h-1zM723 772h1v1h-1zM781 772h1v1h-1zM783 772h1v1h-1zM791 772h1v1h-1zM803 772h1v1h-1zM874 772h1v1h-1zM881 772h1v1h-1zM883 772h1v1h-1zM922 772h1v1h-1zM933 772h1v1h-1zM1041 772h1v1h-1zM1143 772h1v1h-1zM1169 772h1v1h-1zM1178 772h1v1h-1zM1282 772h1v1h-1zM1330 772h1v1h-1zM1355 772h1v1h-1zM1385 772h1v1h-1zM1390 772h1v1h-1zM1393 772h1v1h-1zM1455 772h1v1h-1zM1496 772h1v1h-1zM1505 772h1v1h-1zM1513 772h1v1h-1zM1533 772h1v1h-1zM1542 772h1v1h-1zM1550 772h1v1h-1zM1590 772h1v1h-1zM1592 772h1v1h-1zM1652 772h1v1h-1zM1659 772h1v1h-1zM1729 772h1v1h-1zM1733 772h1v1h-1zM1780 772h1v1h-1zM1785 772h1v1h-1zM14 773h1v1h-1zM39 773h1v1h-1zM76 773h1v1h-1zM80 773h1v1h-1zM94 773h1v1h-1zM101 773h1v1h-1zM104 773h1v1h-1zM121 773h1v1h-1zM193 773h1v1h-1zM200 773h1v1h-1zM206 773h1v1h-1zM230 773h1v1h-1zM239 773h1v1h-1zM246 773h1v1h-1zM333 773h1v1h-1zM383 773h1v1h-1zM390 773h1v1h-1zM392 773h1v1h-1zM413 773h1v1h-1zM420 773h1v1h-1zM426 773h1v1h-1zM445 773h1v1h-1zM485 773h1v1h-1zM491 773h1v1h-1zM495 773h1v1h-1zM498 773h1v1h-1zM510 773h1v1h-1zM525 773h1v1h-1zM547 773h1v1h-1zM555 773h1v1h-1zM570 773h1v1h-1zM664 773h1v1h-1zM669 773h1v1h-1zM682 773h1v1h-1zM700 773h1v1h-1zM707 773h1v1h-1zM721 773h1v1h-1zM723 773h1v1h-1zM781 773h2v1h-2zM791 773h1v1h-1zM803 773h1v1h-1zM874 773h1v1h-1zM881 773h1v1h-1zM884 773h1v1h-1zM922 773h1v1h-1zM934 773h1v1h-1zM1041 773h1v1h-1zM1144 773h1v1h-1zM1168 773h1v1h-1zM1178 773h1v1h-1zM1282 773h1v1h-1zM1330 773h1v1h-1zM1355 773h1v1h-1zM1385 773h1v1h-1zM1390 773h1v1h-1zM1393 773h1v1h-1zM1455 773h1v1h-1zM1496 773h1v1h-1zM1505 773h1v1h-1zM1514 773h1v1h-1zM1533 773h1v1h-1zM1543 773h1v1h-1zM1550 773h1v1h-1zM1591 773h2v1h-2zM1652 773h1v1h-1zM1659 773h1v1h-1zM1730 773h1v1h-1zM1733 773h1v1h-1zM1780 773h1v1h-1zM1785 773h1v1h-1zM14 774h1v1h-1zM39 774h1v1h-1zM76 774h1v1h-1zM79 774h1v1h-1zM94 774h1v1h-1zM101 774h1v1h-1zM104 774h1v1h-1zM121 774h1v1h-1zM137 774h1v1h-1zM192 774h1v1h-1zM200 774h1v1h-1zM206 774h1v1h-1zM231 774h1v1h-1zM239 774h1v1h-1zM246 774h1v1h-1zM333 774h1v1h-1zM384 774h1v1h-1zM389 774h1v1h-1zM392 774h1v1h-1zM413 774h1v1h-1zM420 774h1v1h-1zM426 774h1v1h-1zM445 774h1v1h-1zM485 774h1v1h-1zM491 774h1v1h-1zM494 774h1v1h-1zM498 774h1v1h-1zM510 774h1v1h-1zM525 774h1v1h-1zM547 774h1v1h-1zM555 774h1v1h-1zM570 774h1v1h-1zM665 774h1v1h-1zM669 774h1v1h-1zM682 774h1v1h-1zM700 774h1v1h-1zM706 774h1v1h-1zM721 774h1v1h-1zM723 774h1v1h-1zM782 774h1v1h-1zM792 774h1v1h-1zM802 774h1v1h-1zM874 774h1v1h-1zM881 774h1v1h-1zM884 774h1v1h-1zM922 774h1v1h-1zM934 774h1v1h-1zM1041 774h1v1h-1zM1144 774h1v1h-1zM1162 774h1v1h-1zM1168 774h1v1h-1zM1178 774h1v1h-1zM1282 774h1v1h-1zM1331 774h1v1h-1zM1354 774h1v1h-1zM1385 774h1v1h-1zM1390 774h1v1h-1zM1393 774h1v1h-1zM1455 774h1v1h-1zM1497 774h1v1h-1zM1505 774h1v1h-1zM1514 774h1v1h-1zM1532 774h1v1h-1zM1543 774h1v1h-1zM1550 774h1v1h-1zM1591 774h2v1h-2zM1653 774h1v1h-1zM1658 774h1v1h-1zM1730 774h1v1h-1zM1733 774h1v1h-1zM1780 774h1v1h-1zM1785 774h1v1h-1zM14 775h1v1h-1zM39 775h1v1h-1zM76 775h1v1h-1zM79 775h1v1h-1zM94 775h1v1h-1zM101 775h1v1h-1zM105 775h1v1h-1zM121 775h2v1h-2zM137 775h1v1h-1zM192 775h1v1h-1zM200 775h1v1h-1zM205 775h1v1h-1zM231 775h1v1h-1zM239 775h1v1h-1zM247 775h1v1h-1zM333 775h1v1h-1zM385 775h1v1h-1zM389 775h1v1h-1zM393 775h1v1h-1zM413 775h1v1h-1zM420 775h1v1h-1zM426 775h1v1h-1zM445 775h1v1h-1zM485 775h1v1h-1zM491 775h1v1h-1zM494 775h1v1h-1zM498 775h1v1h-1zM510 775h1v1h-1zM525 775h1v1h-1zM546 775h1v1h-1zM556 775h1v1h-1zM570 775h1v1h-1zM665 775h1v1h-1zM669 775h1v1h-1zM700 775h1v1h-1zM706 775h1v1h-1zM721 775h1v1h-1zM723 775h1v1h-1zM782 775h1v1h-1zM792 775h1v1h-1zM802 775h1v1h-1zM874 775h1v1h-1zM881 775h1v1h-1zM885 775h1v1h-1zM917 775h2v1h-2zM921 775h1v1h-1zM935 775h1v1h-1zM1041 775h1v1h-1zM1144 775h1v1h-1zM1161 775h2v1h-2zM1168 775h1v1h-1zM1179 775h1v1h-1zM1217 775h1v1h-1zM1282 775h1v1h-1zM1331 775h1v1h-1zM1354 775h1v1h-1zM1385 775h1v1h-1zM1389 775h1v1h-1zM1393 775h1v1h-1zM1455 775h1v1h-1zM1497 775h1v1h-1zM1505 775h1v1h-1zM1514 775h1v1h-1zM1532 775h1v1h-1zM1543 775h1v1h-1zM1550 775h1v1h-1zM1591 775h1v1h-1zM1653 775h1v1h-1zM1658 775h1v1h-1zM1730 775h1v1h-1zM1733 775h1v1h-1zM1780 775h1v1h-1zM1785 775h1v1h-1zM14 776h1v1h-1zM39 776h1v1h-1zM77 776h1v1h-1zM79 776h1v1h-1zM94 776h1v1h-1zM101 776h1v1h-1zM105 776h1v1h-1zM121 776h2v1h-2zM136 776h2v1h-2zM192 776h1v1h-1zM200 776h1v1h-1zM205 776h1v1h-1zM231 776h1v1h-1zM239 776h1v1h-1zM247 776h1v1h-1zM333 776h1v1h-1zM386 776h1v1h-1zM388 776h1v1h-1zM393 776h1v1h-1zM413 776h1v1h-1zM420 776h1v1h-1zM426 776h1v1h-1zM446 776h1v1h-1zM485 776h1v1h-1zM492 776h2v1h-2zM498 776h1v1h-1zM510 776h1v1h-1zM525 776h1v1h-1zM546 776h1v1h-1zM556 776h1v1h-1zM570 776h1v1h-1zM665 776h1v1h-1zM668 776h1v1h-1zM701 776h1v1h-1zM706 776h1v1h-1zM721 776h1v1h-1zM723 776h1v1h-1zM782 776h1v1h-1zM792 776h1v1h-1zM802 776h1v1h-1zM874 776h1v1h-1zM881 776h1v1h-1zM885 776h1v1h-1zM916 776h1v1h-1zM919 776h1v1h-1zM921 776h1v1h-1zM935 776h1v1h-1zM1041 776h1v1h-1zM1144 776h1v1h-1zM1161 776h1v1h-1zM1163 776h1v1h-1zM1168 776h1v1h-1zM1179 776h1v1h-1zM1217 776h1v1h-1zM1282 776h1v1h-1zM1331 776h1v1h-1zM1354 776h1v1h-1zM1385 776h1v1h-1zM1389 776h1v1h-1zM1393 776h1v1h-1zM1454 776h1v1h-1zM1497 776h1v1h-1zM1505 776h1v1h-1zM1514 776h1v1h-1zM1532 776h1v1h-1zM1543 776h1v1h-1zM1550 776h1v1h-1zM1591 776h1v1h-1zM1653 776h1v1h-1zM1658 776h1v1h-1zM1730 776h1v1h-1zM1733 776h1v1h-1zM1780 776h1v1h-1zM1785 776h1v1h-1zM14 777h1v1h-1zM39 777h1v1h-1zM77 777h1v1h-1zM79 777h1v1h-1zM94 777h1v1h-1zM100 777h1v1h-1zM106 777h1v1h-1zM121 777h2v1h-2zM136 777h1v1h-1zM138 777h1v1h-1zM192 777h1v1h-1zM200 777h1v1h-1zM205 777h1v1h-1zM231 777h1v1h-1zM238 777h1v1h-1zM247 777h1v1h-1zM333 777h1v1h-1zM387 777h1v1h-1zM393 777h1v1h-1zM413 777h1v1h-1zM420 777h1v1h-1zM425 777h1v1h-1zM446 777h1v1h-1zM485 777h1v1h-1zM492 777h2v1h-2zM498 777h1v1h-1zM510 777h1v1h-1zM526 777h1v1h-1zM546 777h1v1h-1zM557 777h1v1h-1zM570 777h1v1h-1zM665 777h1v1h-1zM668 777h1v1h-1zM701 777h1v1h-1zM705 777h1v1h-1zM721 777h1v1h-1zM723 777h1v1h-1zM792 777h1v1h-1zM801 777h1v1h-1zM874 777h1v1h-1zM880 777h1v1h-1zM886 777h1v1h-1zM916 777h1v1h-1zM920 777h2v1h-2zM936 777h1v1h-1zM1041 777h1v1h-1zM1144 777h1v1h-1zM1160 777h1v1h-1zM1163 777h1v1h-1zM1168 777h1v1h-1zM1179 777h1v1h-1zM1217 777h1v1h-1zM1281 777h1v1h-1zM1331 777h1v1h-1zM1354 777h1v1h-1zM1385 777h1v1h-1zM1389 777h1v1h-1zM1393 777h1v1h-1zM1454 777h1v1h-1zM1497 777h1v1h-1zM1505 777h1v1h-1zM1514 777h1v1h-1zM1532 777h1v1h-1zM1543 777h1v1h-1zM1550 777h1v1h-1zM1654 777h1v1h-1zM1658 777h1v1h-1zM1731 777h2v1h-2zM1780 777h1v1h-1zM1784 777h1v1h-1zM14 778h1v1h-1zM39 778h1v1h-1zM77 778h2v1h-2zM94 778h1v1h-1zM100 778h1v1h-1zM106 778h1v1h-1zM120 778h1v1h-1zM122 778h1v1h-1zM135 778h1v1h-1zM138 778h1v1h-1zM147 778h1v1h-1zM192 778h1v1h-1zM200 778h1v1h-1zM205 778h1v1h-1zM231 778h1v1h-1zM238 778h1v1h-1zM248 778h1v1h-1zM333 778h1v1h-1zM393 778h1v1h-1zM413 778h1v1h-1zM420 778h1v1h-1zM425 778h1v1h-1zM446 778h1v1h-1zM485 778h1v1h-1zM492 778h2v1h-2zM498 778h1v1h-1zM510 778h1v1h-1zM526 778h1v1h-1zM545 778h1v1h-1zM557 778h1v1h-1zM570 778h1v1h-1zM665 778h1v1h-1zM668 778h1v1h-1zM701 778h1v1h-1zM705 778h1v1h-1zM721 778h1v1h-1zM723 778h1v1h-1zM792 778h1v1h-1zM800 778h1v1h-1zM874 778h1v1h-1zM880 778h1v1h-1zM886 778h1v1h-1zM915 778h1v1h-1zM921 778h1v1h-1zM936 778h1v1h-1zM1041 778h1v1h-1zM1145 778h1v1h-1zM1160 778h1v1h-1zM1163 778h1v1h-1zM1168 778h1v1h-1zM1179 778h1v1h-1zM1216 778h1v1h-1zM1218 778h1v1h-1zM1280 778h1v1h-1zM1331 778h1v1h-1zM1353 778h1v1h-1zM1385 778h1v1h-1zM1388 778h1v1h-1zM1393 778h1v1h-1zM1454 778h1v1h-1zM1497 778h1v1h-1zM1504 778h1v1h-1zM1515 778h1v1h-1zM1531 778h1v1h-1zM1543 778h1v1h-1zM1550 778h1v1h-1zM1654 778h1v1h-1zM1658 778h1v1h-1zM1731 778h2v1h-2zM1781 778h1v1h-1zM1784 778h1v1h-1zM14 779h1v1h-1zM39 779h1v1h-1zM77 779h2v1h-2zM95 779h1v1h-1zM100 779h1v1h-1zM107 779h1v1h-1zM120 779h1v1h-1zM123 779h1v1h-1zM135 779h1v1h-1zM138 779h1v1h-1zM147 779h1v1h-1zM192 779h1v1h-1zM201 779h1v1h-1zM204 779h1v1h-1zM231 779h1v1h-1zM238 779h1v1h-1zM248 779h1v1h-1zM333 779h1v1h-1zM393 779h1v1h-1zM413 779h1v1h-1zM421 779h1v1h-1zM425 779h1v1h-1zM446 779h1v1h-1zM485 779h1v1h-1zM492 779h1v1h-1zM498 779h1v1h-1zM510 779h1v1h-1zM526 779h1v1h-1zM545 779h1v1h-1zM558 779h1v1h-1zM570 779h1v1h-1zM665 779h1v1h-1zM668 779h1v1h-1zM701 779h1v1h-1zM705 779h1v1h-1zM722 779h2v1h-2zM793 779h1v1h-1zM800 779h1v1h-1zM874 779h1v1h-1zM880 779h1v1h-1zM887 779h1v1h-1zM914 779h1v1h-1zM937 779h1v1h-1zM1041 779h1v1h-1zM1145 779h1v1h-1zM1159 779h1v1h-1zM1164 779h1v1h-1zM1167 779h1v1h-1zM1180 779h1v1h-1zM1216 779h1v1h-1zM1218 779h1v1h-1zM1278 779h2v1h-2zM1331 779h1v1h-1zM1353 779h1v1h-1zM1385 779h1v1h-1zM1388 779h1v1h-1zM1394 779h1v1h-1zM1454 779h1v1h-1zM1497 779h1v1h-1zM1504 779h1v1h-1zM1515 779h1v1h-1zM1531 779h1v1h-1zM1543 779h1v1h-1zM1550 779h1v1h-1zM1654 779h1v1h-1zM1658 779h1v1h-1zM1731 779h2v1h-2zM1781 779h1v1h-1zM1784 779h1v1h-1zM14 780h1v1h-1zM39 780h1v1h-1zM77 780h2v1h-2zM95 780h1v1h-1zM100 780h1v1h-1zM107 780h1v1h-1zM120 780h1v1h-1zM123 780h1v1h-1zM134 780h1v1h-1zM138 780h1v1h-1zM146 780h2v1h-2zM192 780h1v1h-1zM201 780h1v1h-1zM204 780h1v1h-1zM231 780h1v1h-1zM238 780h1v1h-1zM248 780h1v1h-1zM333 780h1v1h-1zM393 780h1v1h-1zM413 780h1v1h-1zM421 780h1v1h-1zM425 780h1v1h-1zM446 780h1v1h-1zM485 780h1v1h-1zM492 780h1v1h-1zM498 780h1v1h-1zM509 780h1v1h-1zM526 780h1v1h-1zM545 780h1v1h-1zM558 780h1v1h-1zM569 780h1v1h-1zM665 780h1v1h-1zM668 780h1v1h-1zM701 780h1v1h-1zM704 780h1v1h-1zM722 780h1v1h-1zM793 780h1v1h-1zM799 780h1v1h-1zM875 780h1v1h-1zM880 780h1v1h-1zM887 780h1v1h-1zM914 780h1v1h-1zM937 780h1v1h-1zM1041 780h1v1h-1zM1145 780h1v1h-1zM1158 780h1v1h-1zM1164 780h1v1h-1zM1167 780h1v1h-1zM1180 780h1v1h-1zM1216 780h1v1h-1zM1218 780h1v1h-1zM1277 780h1v1h-1zM1331 780h1v1h-1zM1353 780h1v1h-1zM1385 780h1v1h-1zM1388 780h1v1h-1zM1394 780h1v1h-1zM1454 780h1v1h-1zM1497 780h1v1h-1zM1504 780h1v1h-1zM1515 780h1v1h-1zM1531 780h1v1h-1zM1543 780h1v1h-1zM1550 780h1v1h-1zM1654 780h1v1h-1zM1658 780h1v1h-1zM1731 780h2v1h-2zM1781 780h1v1h-1zM1784 780h1v1h-1zM14 781h1v1h-1zM39 781h1v1h-1zM77 781h1v1h-1zM95 781h1v1h-1zM100 781h1v1h-1zM107 781h1v1h-1zM120 781h1v1h-1zM123 781h1v1h-1zM134 781h1v1h-1zM139 781h1v1h-1zM146 781h2v1h-2zM192 781h1v1h-1zM201 781h1v1h-1zM204 781h1v1h-1zM231 781h1v1h-1zM237 781h1v1h-1zM248 781h1v1h-1zM333 781h1v1h-1zM393 781h1v1h-1zM413 781h1v1h-1zM421 781h1v1h-1zM425 781h1v1h-1zM446 781h1v1h-1zM485 781h1v1h-1zM498 781h1v1h-1zM509 781h1v1h-1zM526 781h1v1h-1zM545 781h1v1h-1zM559 781h1v1h-1zM569 781h1v1h-1zM665 781h1v1h-1zM668 781h1v1h-1zM701 781h1v1h-1zM704 781h1v1h-1zM722 781h1v1h-1zM794 781h1v1h-1zM799 781h1v1h-1zM875 781h1v1h-1zM879 781h1v1h-1zM887 781h1v1h-1zM913 781h1v1h-1zM938 781h2v1h-2zM1041 781h1v1h-1zM1145 781h1v1h-1zM1158 781h1v1h-1zM1164 781h1v1h-1zM1167 781h1v1h-1zM1180 781h1v1h-1zM1215 781h1v1h-1zM1218 781h1v1h-1zM1277 781h1v1h-1zM1331 781h1v1h-1zM1352 781h1v1h-1zM1386 781h2v1h-2zM1394 781h1v1h-1zM1454 781h1v1h-1zM1497 781h1v1h-1zM1504 781h1v1h-1zM1515 781h1v1h-1zM1530 781h1v1h-1zM1543 781h1v1h-1zM1549 781h1v1h-1zM1655 781h1v1h-1zM1658 781h1v1h-1zM1732 781h1v1h-1zM1781 781h1v1h-1zM1784 781h1v1h-1zM14 782h1v1h-1zM39 782h1v1h-1zM77 782h1v1h-1zM95 782h1v1h-1zM99 782h1v1h-1zM107 782h1v1h-1zM120 782h1v1h-1zM124 782h1v1h-1zM134 782h1v1h-1zM139 782h1v1h-1zM146 782h1v1h-1zM148 782h1v1h-1zM191 782h1v1h-1zM201 782h1v1h-1zM204 782h1v1h-1zM231 782h1v1h-1zM237 782h1v1h-1zM249 782h1v1h-1zM333 782h1v1h-1zM393 782h1v1h-1zM412 782h1v1h-1zM421 782h1v1h-1zM424 782h1v1h-1zM446 782h1v1h-1zM485 782h1v1h-1zM498 782h1v1h-1zM509 782h1v1h-1zM526 782h1v1h-1zM544 782h1v1h-1zM559 782h1v1h-1zM569 782h1v1h-1zM665 782h1v1h-1zM668 782h1v1h-1zM701 782h1v1h-1zM704 782h1v1h-1zM722 782h1v1h-1zM794 782h1v1h-1zM798 782h1v1h-1zM875 782h1v1h-1zM879 782h1v1h-1zM887 782h1v1h-1zM912 782h1v1h-1zM940 782h2v1h-2zM1041 782h1v1h-1zM1145 782h1v1h-1zM1157 782h1v1h-1zM1164 782h1v1h-1zM1167 782h1v1h-1zM1180 782h1v1h-1zM1215 782h1v1h-1zM1218 782h1v1h-1zM1232 782h1v1h-1zM1277 782h1v1h-1zM1332 782h1v1h-1zM1352 782h1v1h-1zM1386 782h2v1h-2zM1394 782h1v1h-1zM1454 782h1v1h-1zM1498 782h1v1h-1zM1504 782h1v1h-1zM1515 782h1v1h-1zM1530 782h1v1h-1zM1544 782h1v1h-1zM1549 782h1v1h-1zM1655 782h1v1h-1zM1658 782h1v1h-1zM1732 782h1v1h-1zM1781 782h1v1h-1zM1783 782h1v1h-1zM14 783h1v1h-1zM39 783h1v1h-1zM77 783h1v1h-1zM95 783h1v1h-1zM99 783h1v1h-1zM108 783h1v1h-1zM120 783h1v1h-1zM124 783h1v1h-1zM133 783h1v1h-1zM139 783h1v1h-1zM146 783h1v1h-1zM148 783h1v1h-1zM191 783h1v1h-1zM201 783h1v1h-1zM203 783h1v1h-1zM231 783h1v1h-1zM237 783h1v1h-1zM249 783h1v1h-1zM312 783h1v1h-1zM333 783h1v1h-1zM393 783h1v1h-1zM412 783h1v1h-1zM421 783h1v1h-1zM424 783h1v1h-1zM446 783h1v1h-1zM485 783h1v1h-1zM498 783h1v1h-1zM509 783h1v1h-1zM526 783h1v1h-1zM544 783h1v1h-1zM559 783h1v1h-1zM569 783h1v1h-1zM665 783h1v1h-1zM667 783h1v1h-1zM701 783h1v1h-1zM703 783h1v1h-1zM722 783h1v1h-1zM795 783h1v1h-1zM797 783h1v1h-1zM875 783h1v1h-1zM879 783h1v1h-1zM887 783h1v1h-1zM912 783h1v1h-1zM942 783h1v1h-1zM1041 783h1v1h-1zM1146 783h1v1h-1zM1157 783h1v1h-1zM1165 783h1v1h-1zM1167 783h1v1h-1zM1181 783h1v1h-1zM1192 783h1v1h-1zM1215 783h1v1h-1zM1218 783h1v1h-1zM1232 783h1v1h-1zM1277 783h1v1h-1zM1332 783h1v1h-1zM1352 783h1v1h-1zM1386 783h2v1h-2zM1394 783h1v1h-1zM1454 783h1v1h-1zM1498 783h1v1h-1zM1504 783h1v1h-1zM1516 783h1v1h-1zM1530 783h1v1h-1zM1544 783h1v1h-1zM1549 783h1v1h-1zM1655 783h1v1h-1zM1658 783h1v1h-1zM1732 783h1v1h-1zM1781 783h1v1h-1zM1783 783h1v1h-1zM14 784h1v1h-1zM38 784h1v1h-1zM95 784h1v1h-1zM99 784h1v1h-1zM108 784h1v1h-1zM120 784h1v1h-1zM124 784h1v1h-1zM133 784h1v1h-1zM139 784h1v1h-1zM145 784h1v1h-1zM148 784h1v1h-1zM191 784h1v1h-1zM201 784h1v1h-1zM203 784h1v1h-1zM231 784h1v1h-1zM236 784h1v1h-1zM249 784h1v1h-1zM312 784h1v1h-1zM332 784h1v1h-1zM394 784h1v1h-1zM412 784h1v1h-1zM421 784h1v1h-1zM424 784h1v1h-1zM447 784h1v1h-1zM485 784h1v1h-1zM499 784h1v1h-1zM509 784h1v1h-1zM527 784h1v1h-1zM544 784h1v1h-1zM560 784h1v1h-1zM569 784h1v1h-1zM665 784h1v1h-1zM667 784h1v1h-1zM702 784h2v1h-2zM722 784h1v1h-1zM795 784h1v1h-1zM797 784h1v1h-1zM875 784h1v1h-1zM879 784h1v1h-1zM887 784h1v1h-1zM912 784h1v1h-1zM942 784h1v1h-1zM1041 784h1v1h-1zM1146 784h1v1h-1zM1157 784h1v1h-1zM1165 784h1v1h-1zM1167 784h1v1h-1zM1181 784h1v1h-1zM1191 784h2v1h-2zM1215 784h1v1h-1zM1219 784h1v1h-1zM1232 784h2v1h-2zM1276 784h1v1h-1zM1332 784h1v1h-1zM1351 784h1v1h-1zM1386 784h1v1h-1zM1394 784h1v1h-1zM1454 784h1v1h-1zM1498 784h1v1h-1zM1504 784h1v1h-1zM1516 784h1v1h-1zM1530 784h1v1h-1zM1544 784h1v1h-1zM1549 784h1v1h-1zM1656 784h2v1h-2zM1781 784h1v1h-1zM1783 784h1v1h-1zM15 785h1v1h-1zM38 785h1v1h-1zM96 785h1v1h-1zM99 785h1v1h-1zM108 785h1v1h-1zM120 785h1v1h-1zM125 785h1v1h-1zM132 785h1v1h-1zM140 785h1v1h-1zM145 785h1v1h-1zM148 785h1v1h-1zM191 785h1v1h-1zM202 785h2v1h-2zM232 785h1v1h-1zM235 785h1v1h-1zM250 785h1v1h-1zM312 785h1v1h-1zM332 785h1v1h-1zM394 785h1v1h-1zM412 785h1v1h-1zM421 785h1v1h-1zM424 785h1v1h-1zM447 785h1v1h-1zM485 785h1v1h-1zM499 785h1v1h-1zM509 785h1v1h-1zM527 785h1v1h-1zM543 785h1v1h-1zM560 785h1v1h-1zM569 785h1v1h-1zM665 785h1v1h-1zM667 785h1v1h-1zM702 785h2v1h-2zM796 785h1v1h-1zM875 785h1v1h-1zM879 785h1v1h-1zM887 785h1v1h-1zM911 785h1v1h-1zM943 785h1v1h-1zM1040 785h1v1h-1zM1146 785h1v1h-1zM1157 785h1v1h-1zM1165 785h2v1h-2zM1181 785h1v1h-1zM1191 785h2v1h-2zM1214 785h1v1h-1zM1219 785h1v1h-1zM1232 785h2v1h-2zM1276 785h1v1h-1zM1332 785h1v1h-1zM1351 785h1v1h-1zM1386 785h1v1h-1zM1394 785h1v1h-1zM1454 785h1v1h-1zM1498 785h1v1h-1zM1504 785h1v1h-1zM1516 785h1v1h-1zM1529 785h1v1h-1zM1544 785h1v1h-1zM1549 785h1v1h-1zM1656 785h2v1h-2zM1781 785h1v1h-1zM1783 785h1v1h-1zM15 786h1v1h-1zM38 786h1v1h-1zM96 786h1v1h-1zM99 786h1v1h-1zM108 786h1v1h-1zM119 786h1v1h-1zM125 786h1v1h-1zM132 786h1v1h-1zM140 786h1v1h-1zM145 786h1v1h-1zM148 786h1v1h-1zM191 786h1v1h-1zM202 786h1v1h-1zM232 786h1v1h-1zM235 786h1v1h-1zM250 786h1v1h-1zM312 786h2v1h-2zM332 786h1v1h-1zM394 786h1v1h-1zM412 786h1v1h-1zM421 786h1v1h-1zM424 786h1v1h-1zM447 786h1v1h-1zM484 786h1v1h-1zM499 786h1v1h-1zM509 786h1v1h-1zM527 786h1v1h-1zM543 786h1v1h-1zM561 786h1v1h-1zM569 786h1v1h-1zM665 786h1v1h-1zM667 786h1v1h-1zM702 786h1v1h-1zM796 786h1v1h-1zM875 786h1v1h-1zM878 786h1v1h-1zM888 786h1v1h-1zM911 786h1v1h-1zM943 786h1v1h-1zM1040 786h1v1h-1zM1146 786h1v1h-1zM1156 786h1v1h-1zM1166 786h1v1h-1zM1181 786h1v1h-1zM1190 786h1v1h-1zM1193 786h1v1h-1zM1214 786h1v1h-1zM1219 786h1v1h-1zM1232 786h2v1h-2zM1276 786h1v1h-1zM1332 786h1v1h-1zM1351 786h1v1h-1zM1386 786h1v1h-1zM1394 786h1v1h-1zM1454 786h1v1h-1zM1499 786h1v1h-1zM1503 786h1v1h-1zM1516 786h1v1h-1zM1529 786h1v1h-1zM1544 786h1v1h-1zM1549 786h1v1h-1zM1656 786h2v1h-2zM1782 786h2v1h-2zM15 787h1v1h-1zM38 787h1v1h-1zM96 787h1v1h-1zM98 787h1v1h-1zM109 787h1v1h-1zM119 787h1v1h-1zM125 787h1v1h-1zM131 787h1v1h-1zM140 787h1v1h-1zM144 787h1v1h-1zM148 787h1v1h-1zM191 787h1v1h-1zM202 787h1v1h-1zM232 787h1v1h-1zM234 787h1v1h-1zM250 787h1v1h-1zM312 787h2v1h-2zM332 787h1v1h-1zM394 787h1v1h-1zM411 787h1v1h-1zM421 787h1v1h-1zM423 787h1v1h-1zM447 787h1v1h-1zM484 787h1v1h-1zM499 787h1v1h-1zM509 787h1v1h-1zM527 787h1v1h-1zM543 787h1v1h-1zM561 787h1v1h-1zM569 787h1v1h-1zM666 787h2v1h-2zM702 787h1v1h-1zM875 787h1v1h-1zM878 787h1v1h-1zM888 787h1v1h-1zM911 787h1v1h-1zM943 787h1v1h-1zM1040 787h1v1h-1zM1146 787h1v1h-1zM1156 787h1v1h-1zM1166 787h1v1h-1zM1182 787h1v1h-1zM1190 787h1v1h-1zM1193 787h1v1h-1zM1214 787h1v1h-1zM1219 787h1v1h-1zM1231 787h1v1h-1zM1234 787h1v1h-1zM1276 787h1v1h-1zM1333 787h1v1h-1zM1351 787h1v1h-1zM1395 787h1v1h-1zM1454 787h1v1h-1zM1499 787h1v1h-1zM1503 787h1v1h-1zM1516 787h1v1h-1zM1529 787h1v1h-1zM1544 787h1v1h-1zM1549 787h1v1h-1zM1657 787h1v1h-1zM1782 787h1v1h-1zM15 788h1v1h-1zM38 788h1v1h-1zM96 788h1v1h-1zM98 788h1v1h-1zM109 788h1v1h-1zM119 788h1v1h-1zM126 788h1v1h-1zM130 788h1v1h-1zM140 788h1v1h-1zM144 788h1v1h-1zM148 788h1v1h-1zM191 788h1v1h-1zM202 788h1v1h-1zM232 788h2v1h-2zM250 788h1v1h-1zM312 788h2v1h-2zM332 788h1v1h-1zM394 788h1v1h-1zM410 788h1v1h-1zM421 788h1v1h-1zM423 788h1v1h-1zM447 788h1v1h-1zM484 788h1v1h-1zM499 788h1v1h-1zM509 788h1v1h-1zM527 788h1v1h-1zM542 788h1v1h-1zM562 788h1v1h-1zM569 788h1v1h-1zM666 788h2v1h-2zM875 788h1v1h-1zM878 788h1v1h-1zM888 788h1v1h-1zM901 788h2v1h-2zM910 788h1v1h-1zM944 788h1v1h-1zM1040 788h1v1h-1zM1147 788h1v1h-1zM1156 788h1v1h-1zM1166 788h1v1h-1zM1182 788h1v1h-1zM1189 788h1v1h-1zM1193 788h1v1h-1zM1214 788h1v1h-1zM1219 788h1v1h-1zM1231 788h1v1h-1zM1234 788h1v1h-1zM1276 788h1v1h-1zM1333 788h1v1h-1zM1350 788h1v1h-1zM1395 788h1v1h-1zM1454 788h1v1h-1zM1499 788h1v1h-1zM1503 788h1v1h-1zM1517 788h1v1h-1zM1529 788h1v1h-1zM1544 788h1v1h-1zM1549 788h1v1h-1zM1657 788h1v1h-1zM1782 788h1v1h-1zM15 789h1v1h-1zM38 789h1v1h-1zM96 789h1v1h-1zM98 789h1v1h-1zM109 789h1v1h-1zM119 789h1v1h-1zM126 789h1v1h-1zM129 789h1v1h-1zM141 789h1v1h-1zM144 789h1v1h-1zM148 789h1v1h-1zM191 789h1v1h-1zM232 789h1v1h-1zM251 789h1v1h-1zM311 789h1v1h-1zM313 789h1v1h-1zM332 789h1v1h-1zM394 789h1v1h-1zM409 789h1v1h-1zM422 789h2v1h-2zM447 789h1v1h-1zM484 789h1v1h-1zM499 789h1v1h-1zM508 789h1v1h-1zM528 789h1v1h-1zM542 789h1v1h-1zM562 789h1v1h-1zM569 789h1v1h-1zM666 789h2v1h-2zM875 789h1v1h-1zM878 789h1v1h-1zM888 789h1v1h-1zM900 789h1v1h-1zM903 789h1v1h-1zM910 789h1v1h-1zM944 789h1v1h-1zM1040 789h1v1h-1zM1147 789h1v1h-1zM1156 789h1v1h-1zM1182 789h2v1h-2zM1188 789h1v1h-1zM1193 789h1v1h-1zM1213 789h1v1h-1zM1220 789h1v1h-1zM1231 789h1v1h-1zM1234 789h1v1h-1zM1276 789h1v1h-1zM1334 789h1v1h-1zM1350 789h1v1h-1zM1395 789h1v1h-1zM1453 789h1v1h-1zM1499 789h1v1h-1zM1503 789h1v1h-1zM1517 789h1v1h-1zM1528 789h1v1h-1zM1544 789h1v1h-1zM1549 789h1v1h-1zM1657 789h1v1h-1zM1782 789h1v1h-1zM15 790h1v1h-1zM38 790h1v1h-1zM96 790h1v1h-1zM98 790h1v1h-1zM109 790h1v1h-1zM119 790h1v1h-1zM126 790h1v1h-1zM129 790h1v1h-1zM141 790h1v1h-1zM144 790h1v1h-1zM149 790h1v1h-1zM191 790h1v1h-1zM232 790h1v1h-1zM251 790h1v1h-1zM311 790h1v1h-1zM313 790h1v1h-1zM332 790h1v1h-1zM394 790h1v1h-1zM409 790h1v1h-1zM422 790h2v1h-2zM448 790h1v1h-1zM484 790h1v1h-1zM499 790h1v1h-1zM508 790h1v1h-1zM528 790h1v1h-1zM542 790h1v1h-1zM562 790h1v1h-1zM568 790h1v1h-1zM666 790h1v1h-1zM875 790h1v1h-1zM878 790h1v1h-1zM888 790h1v1h-1zM899 790h1v1h-1zM903 790h1v1h-1zM910 790h1v1h-1zM944 790h1v1h-1zM1040 790h1v1h-1zM1147 790h1v1h-1zM1155 790h1v1h-1zM1184 790h2v1h-2zM1188 790h1v1h-1zM1193 790h1v1h-1zM1213 790h1v1h-1zM1220 790h1v1h-1zM1231 790h1v1h-1zM1235 790h1v1h-1zM1267 790h1v1h-1zM1275 790h1v1h-1zM1334 790h1v1h-1zM1350 790h1v1h-1zM1395 790h1v1h-1zM1453 790h1v1h-1zM1500 790h1v1h-1zM1503 790h1v1h-1zM1517 790h2v1h-2zM1528 790h1v1h-1zM1544 790h1v1h-1zM1549 790h1v1h-1zM15 791h1v1h-1zM38 791h1v1h-1zM96 791h1v1h-1zM98 791h1v1h-1zM109 791h1v1h-1zM119 791h1v1h-1zM127 791h2v1h-2zM141 791h1v1h-1zM143 791h1v1h-1zM149 791h1v1h-1zM191 791h1v1h-1zM251 791h1v1h-1zM311 791h1v1h-1zM313 791h1v1h-1zM332 791h1v1h-1zM394 791h1v1h-1zM408 791h1v1h-1zM422 791h2v1h-2zM448 791h1v1h-1zM484 791h1v1h-1zM499 791h1v1h-1zM508 791h1v1h-1zM528 791h1v1h-1zM542 791h1v1h-1zM563 791h1v1h-1zM568 791h1v1h-1zM666 791h1v1h-1zM875 791h1v1h-1zM877 791h1v1h-1zM888 791h1v1h-1zM898 791h1v1h-1zM904 791h1v1h-1zM909 791h1v1h-1zM944 791h1v1h-1zM1040 791h1v1h-1zM1147 791h1v1h-1zM1155 791h1v1h-1zM1186 791h2v1h-2zM1194 791h1v1h-1zM1213 791h1v1h-1zM1220 791h1v1h-1zM1231 791h1v1h-1zM1235 791h1v1h-1zM1266 791h2v1h-2zM1275 791h1v1h-1zM1335 791h1v1h-1zM1349 791h1v1h-1zM1395 791h1v1h-1zM1453 791h1v1h-1zM1500 791h1v1h-1zM1503 791h1v1h-1zM1519 791h1v1h-1zM1528 791h1v1h-1zM1545 791h1v1h-1zM1549 791h1v1h-1zM15 792h1v1h-1zM38 792h1v1h-1zM97 792h1v1h-1zM110 792h1v1h-1zM119 792h1v1h-1zM127 792h1v1h-1zM141 792h1v1h-1zM143 792h1v1h-1zM149 792h1v1h-1zM191 792h1v1h-1zM252 792h1v1h-1zM311 792h1v1h-1zM313 792h1v1h-1zM332 792h1v1h-1zM395 792h1v1h-1zM407 792h1v1h-1zM422 792h1v1h-1zM448 792h1v1h-1zM484 792h1v1h-1zM499 792h1v1h-1zM508 792h1v1h-1zM529 792h1v1h-1zM542 792h1v1h-1zM563 792h1v1h-1zM568 792h1v1h-1zM666 792h1v1h-1zM876 792h2v1h-2zM888 792h1v1h-1zM897 792h1v1h-1zM904 792h1v1h-1zM909 792h1v1h-1zM945 792h1v1h-1zM1040 792h1v1h-1zM1148 792h1v1h-1zM1155 792h1v1h-1zM1194 792h1v1h-1zM1212 792h1v1h-1zM1220 792h1v1h-1zM1231 792h1v1h-1zM1235 792h1v1h-1zM1265 792h1v1h-1zM1267 792h1v1h-1zM1275 792h1v1h-1zM1335 792h1v1h-1zM1349 792h1v1h-1zM1395 792h1v1h-1zM1453 792h1v1h-1zM1500 792h1v1h-1zM1503 792h1v1h-1zM1520 792h1v1h-1zM1527 792h1v1h-1zM1545 792h1v1h-1zM1549 792h1v1h-1zM15 793h1v1h-1zM38 793h1v1h-1zM97 793h1v1h-1zM110 793h1v1h-1zM118 793h1v1h-1zM141 793h1v1h-1zM143 793h1v1h-1zM149 793h1v1h-1zM191 793h1v1h-1zM252 793h1v1h-1zM311 793h1v1h-1zM314 793h1v1h-1zM332 793h1v1h-1zM395 793h1v1h-1zM407 793h1v1h-1zM422 793h1v1h-1zM448 793h1v1h-1zM484 793h1v1h-1zM499 793h1v1h-1zM508 793h1v1h-1zM529 793h1v1h-1zM541 793h1v1h-1zM563 793h1v1h-1zM568 793h1v1h-1zM666 793h1v1h-1zM876 793h2v1h-2zM888 793h1v1h-1zM897 793h1v1h-1zM904 793h1v1h-1zM909 793h1v1h-1zM945 793h1v1h-1zM1040 793h1v1h-1zM1148 793h1v1h-1zM1155 793h1v1h-1zM1194 793h1v1h-1zM1212 793h1v1h-1zM1220 793h1v1h-1zM1231 793h1v1h-1zM1235 793h1v1h-1zM1264 793h1v1h-1zM1268 793h1v1h-1zM1275 793h1v1h-1zM1336 793h1v1h-1zM1349 793h1v1h-1zM1395 793h1v1h-1zM1453 793h1v1h-1zM1500 793h1v1h-1zM1503 793h1v1h-1zM1521 793h1v1h-1zM1527 793h1v1h-1zM1545 793h1v1h-1zM1549 793h1v1h-1zM15 794h1v1h-1zM38 794h1v1h-1zM97 794h1v1h-1zM110 794h1v1h-1zM118 794h1v1h-1zM142 794h1v1h-1zM149 794h1v1h-1zM191 794h1v1h-1zM252 794h1v1h-1zM311 794h1v1h-1zM314 794h1v1h-1zM332 794h1v1h-1zM395 794h1v1h-1zM406 794h1v1h-1zM422 794h1v1h-1zM449 794h1v1h-1zM484 794h1v1h-1zM499 794h1v1h-1zM508 794h1v1h-1zM529 794h1v1h-1zM541 794h1v1h-1zM564 794h1v1h-1zM568 794h1v1h-1zM666 794h1v1h-1zM876 794h2v1h-2zM888 794h1v1h-1zM897 794h1v1h-1zM905 794h1v1h-1zM908 794h1v1h-1zM945 794h1v1h-1zM1017 794h1v1h-1zM1040 794h1v1h-1zM1148 794h1v1h-1zM1155 794h1v1h-1zM1194 794h1v1h-1zM1212 794h1v1h-1zM1221 794h1v1h-1zM1231 794h1v1h-1zM1236 794h1v1h-1zM1262 794h2v1h-2zM1268 794h1v1h-1zM1275 794h1v1h-1zM1337 794h1v1h-1zM1349 794h1v1h-1zM1395 794h1v1h-1zM1453 794h1v1h-1zM1501 794h1v1h-1zM1503 794h1v1h-1zM1522 794h6v1h-6zM1545 794h1v1h-1zM1548 794h1v1h-1zM15 795h1v1h-1zM38 795h1v1h-1zM110 795h1v1h-1zM118 795h1v1h-1zM142 795h1v1h-1zM149 795h1v1h-1zM191 795h1v1h-1zM252 795h1v1h-1zM292 795h1v1h-1zM311 795h1v1h-1zM314 795h1v1h-1zM332 795h1v1h-1zM395 795h1v1h-1zM405 795h1v1h-1zM449 795h1v1h-1zM484 795h1v1h-1zM499 795h1v1h-1zM508 795h1v1h-1zM530 795h1v1h-1zM541 795h1v1h-1zM564 795h1v1h-1zM568 795h1v1h-1zM876 795h1v1h-1zM888 795h1v1h-1zM897 795h1v1h-1zM905 795h1v1h-1zM908 795h1v1h-1zM946 795h1v1h-1zM1016 795h2v1h-2zM1040 795h1v1h-1zM1148 795h1v1h-1zM1154 795h1v1h-1zM1194 795h1v1h-1zM1212 795h1v1h-1zM1221 795h1v1h-1zM1231 795h1v1h-1zM1236 795h1v1h-1zM1262 795h1v1h-1zM1268 795h1v1h-1zM1275 795h1v1h-1zM1337 795h1v1h-1zM1348 795h1v1h-1zM1395 795h1v1h-1zM1453 795h1v1h-1zM1501 795h2v1h-2zM1545 795h1v1h-1zM1548 795h1v1h-1zM15 796h1v1h-1zM37 796h1v1h-1zM111 796h1v1h-1zM118 796h1v1h-1zM149 796h1v1h-1zM190 796h1v1h-1zM252 796h1v1h-1zM291 796h1v1h-1zM293 796h1v1h-1zM311 796h1v1h-1zM314 796h1v1h-1zM332 796h1v1h-1zM395 796h1v1h-1zM404 796h1v1h-1zM449 796h1v1h-1zM484 796h1v1h-1zM500 796h1v1h-1zM508 796h1v1h-1zM530 796h1v1h-1zM541 796h1v1h-1zM564 796h1v1h-1zM568 796h1v1h-1zM876 796h1v1h-1zM889 796h1v1h-1zM897 796h1v1h-1zM906 796h1v1h-1zM908 796h1v1h-1zM946 796h1v1h-1zM1014 796h2v1h-2zM1018 796h1v1h-1zM1040 796h1v1h-1zM1149 796h1v1h-1zM1154 796h1v1h-1zM1195 796h1v1h-1zM1212 796h1v1h-1zM1221 796h1v1h-1zM1231 796h1v1h-1zM1236 796h1v1h-1zM1262 796h1v1h-1zM1268 796h1v1h-1zM1275 796h1v1h-1zM1337 796h1v1h-1zM1348 796h1v1h-1zM1396 796h1v1h-1zM1453 796h1v1h-1zM1501 796h2v1h-2zM1545 796h1v1h-1zM1548 796h1v1h-1zM15 797h1v1h-1zM37 797h1v1h-1zM111 797h1v1h-1zM118 797h1v1h-1zM150 797h1v1h-1zM190 797h1v1h-1zM253 797h1v1h-1zM291 797h1v1h-1zM293 797h1v1h-1zM311 797h1v1h-1zM314 797h1v1h-1zM331 797h1v1h-1zM395 797h1v1h-1zM403 797h1v1h-1zM449 797h1v1h-1zM484 797h1v1h-1zM500 797h1v1h-1zM508 797h1v1h-1zM530 797h1v1h-1zM541 797h1v1h-1zM565 797h1v1h-1zM568 797h1v1h-1zM876 797h1v1h-1zM889 797h1v1h-1zM896 797h1v1h-1zM906 797h1v1h-1zM908 797h1v1h-1zM946 797h1v1h-1zM1013 797h1v1h-1zM1018 797h1v1h-1zM1040 797h1v1h-1zM1149 797h1v1h-1zM1154 797h1v1h-1zM1195 797h1v1h-1zM1211 797h1v1h-1zM1221 797h1v1h-1zM1230 797h1v1h-1zM1237 797h1v1h-1zM1262 797h1v1h-1zM1269 797h1v1h-1zM1274 797h1v1h-1zM1338 797h1v1h-1zM1348 797h1v1h-1zM1396 797h1v1h-1zM1453 797h1v1h-1zM1502 797h1v1h-1zM1545 797h1v1h-1zM1548 797h1v1h-1zM15 798h1v1h-1zM37 798h1v1h-1zM111 798h1v1h-1zM118 798h1v1h-1zM150 798h1v1h-1zM190 798h1v1h-1zM253 798h1v1h-1zM290 798h1v1h-1zM294 798h1v1h-1zM311 798h1v1h-1zM314 798h1v1h-1zM331 798h1v1h-1zM395 798h1v1h-1zM402 798h1v1h-1zM450 798h1v1h-1zM484 798h1v1h-1zM500 798h1v1h-1zM507 798h1v1h-1zM531 798h1v1h-1zM541 798h1v1h-1zM565 798h1v1h-1zM568 798h1v1h-1zM889 798h1v1h-1zM896 798h1v1h-1zM907 798h1v1h-1zM946 798h1v1h-1zM1012 798h1v1h-1zM1018 798h1v1h-1zM1039 798h1v1h-1zM1149 798h1v1h-1zM1154 798h1v1h-1zM1195 798h1v1h-1zM1211 798h1v1h-1zM1221 798h1v1h-1zM1230 798h1v1h-1zM1237 798h1v1h-1zM1261 798h1v1h-1zM1269 798h1v1h-1zM1274 798h1v1h-1zM1338 798h1v1h-1zM1347 798h1v1h-1zM1396 798h1v1h-1zM1453 798h1v1h-1zM1502 798h1v1h-1zM1545 798h1v1h-1zM1548 798h1v1h-1zM15 799h1v1h-1zM37 799h1v1h-1zM111 799h1v1h-1zM118 799h1v1h-1zM150 799h1v1h-1zM190 799h1v1h-1zM253 799h1v1h-1zM290 799h1v1h-1zM294 799h1v1h-1zM311 799h1v1h-1zM315 799h1v1h-1zM331 799h1v1h-1zM395 799h1v1h-1zM402 799h1v1h-1zM450 799h1v1h-1zM484 799h1v1h-1zM500 799h1v1h-1zM507 799h1v1h-1zM531 799h1v1h-1zM540 799h1v1h-1zM565 799h1v1h-1zM568 799h1v1h-1zM889 799h1v1h-1zM896 799h1v1h-1zM907 799h1v1h-1zM947 799h1v1h-1zM1012 799h1v1h-1zM1019 799h1v1h-1zM1039 799h1v1h-1zM1150 799h1v1h-1zM1154 799h1v1h-1zM1195 799h1v1h-1zM1211 799h1v1h-1zM1221 799h1v1h-1zM1230 799h1v1h-1zM1238 799h1v1h-1zM1261 799h1v1h-1zM1269 799h1v1h-1zM1274 799h1v1h-1zM1338 799h1v1h-1zM1347 799h1v1h-1zM1396 799h1v1h-1zM1453 799h1v1h-1zM1502 799h1v1h-1zM1545 799h1v1h-1zM1548 799h1v1h-1zM15 800h1v1h-1zM37 800h1v1h-1zM111 800h1v1h-1zM118 800h1v1h-1zM150 800h1v1h-1zM190 800h1v1h-1zM253 800h1v1h-1zM289 800h1v1h-1zM295 800h1v1h-1zM310 800h1v1h-1zM315 800h1v1h-1zM331 800h1v1h-1zM395 800h1v1h-1zM402 800h1v1h-1zM450 800h1v1h-1zM484 800h1v1h-1zM500 800h1v1h-1zM507 800h1v1h-1zM531 800h1v1h-1zM540 800h1v1h-1zM566 800h2v1h-2zM889 800h1v1h-1zM896 800h1v1h-1zM947 800h1v1h-1zM1012 800h1v1h-1zM1019 800h1v1h-1zM1039 800h1v1h-1zM1150 800h1v1h-1zM1153 800h1v1h-1zM1195 800h1v1h-1zM1211 800h1v1h-1zM1222 800h1v1h-1zM1230 800h1v1h-1zM1238 800h1v1h-1zM1261 800h1v1h-1zM1269 800h1v1h-1zM1274 800h1v1h-1zM1338 800h1v1h-1zM1347 800h1v1h-1zM1396 800h1v1h-1zM1453 800h1v1h-1zM1545 800h1v1h-1zM1548 800h1v1h-1zM15 801h1v1h-1zM37 801h1v1h-1zM112 801h1v1h-1zM117 801h1v1h-1zM150 801h1v1h-1zM190 801h1v1h-1zM253 801h1v1h-1zM289 801h1v1h-1zM296 801h1v1h-1zM310 801h1v1h-1zM315 801h1v1h-1zM327 801h1v1h-1zM331 801h1v1h-1zM396 801h1v1h-1zM401 801h1v1h-1zM450 801h1v1h-1zM484 801h1v1h-1zM500 801h1v1h-1zM507 801h1v1h-1zM532 801h1v1h-1zM540 801h1v1h-1zM566 801h2v1h-2zM889 801h1v1h-1zM896 801h1v1h-1zM948 801h3v1h-3zM1011 801h1v1h-1zM1020 801h1v1h-1zM1039 801h1v1h-1zM1150 801h1v1h-1zM1153 801h1v1h-1zM1196 801h1v1h-1zM1211 801h1v1h-1zM1222 801h1v1h-1zM1230 801h1v1h-1zM1239 801h1v1h-1zM1261 801h1v1h-1zM1269 801h1v1h-1zM1274 801h1v1h-1zM1339 801h1v1h-1zM1346 801h1v1h-1zM1396 801h1v1h-1zM1453 801h1v1h-1zM1546 801h1v1h-1zM1548 801h1v1h-1zM15 802h1v1h-1zM37 802h1v1h-1zM112 802h1v1h-1zM117 802h1v1h-1zM150 802h1v1h-1zM190 802h1v1h-1zM253 802h1v1h-1zM288 802h1v1h-1zM296 802h1v1h-1zM310 802h1v1h-1zM315 802h1v1h-1zM327 802h3v1h-3zM331 802h1v1h-1zM396 802h1v1h-1zM401 802h1v1h-1zM451 802h1v1h-1zM484 802h1v1h-1zM500 802h1v1h-1zM507 802h1v1h-1zM532 802h1v1h-1zM540 802h1v1h-1zM566 802h2v1h-2zM889 802h1v1h-1zM896 802h1v1h-1zM951 802h2v1h-2zM961 802h1v1h-1zM1011 802h1v1h-1zM1020 802h1v1h-1zM1039 802h1v1h-1zM1150 802h1v1h-1zM1153 802h1v1h-1zM1196 802h1v1h-1zM1211 802h1v1h-1zM1222 802h1v1h-1zM1230 802h1v1h-1zM1239 802h1v1h-1zM1261 802h1v1h-1zM1270 802h1v1h-1zM1274 802h1v1h-1zM1339 802h1v1h-1zM1346 802h1v1h-1zM1396 802h1v1h-1zM1452 802h1v1h-1zM1546 802h1v1h-1zM1548 802h1v1h-1zM16 803h1v1h-1zM37 803h1v1h-1zM113 803h2v1h-2zM117 803h1v1h-1zM150 803h1v1h-1zM190 803h1v1h-1zM253 803h1v1h-1zM288 803h1v1h-1zM297 803h1v1h-1zM310 803h1v1h-1zM315 803h1v1h-1zM327 803h1v1h-1zM330 803h2v1h-2zM396 803h1v1h-1zM400 803h1v1h-1zM451 803h1v1h-1zM484 803h1v1h-1zM500 803h1v1h-1zM507 803h1v1h-1zM532 803h1v1h-1zM540 803h1v1h-1zM566 803h2v1h-2zM889 803h1v1h-1zM896 803h1v1h-1zM953 803h1v1h-1zM960 803h2v1h-2zM1011 803h1v1h-1zM1020 803h1v1h-1zM1039 803h1v1h-1zM1151 803h1v1h-1zM1153 803h1v1h-1zM1196 803h1v1h-1zM1210 803h1v1h-1zM1222 803h1v1h-1zM1230 803h1v1h-1zM1240 803h1v1h-1zM1260 803h1v1h-1zM1270 803h1v1h-1zM1273 803h1v1h-1zM1339 803h1v1h-1zM1346 803h1v1h-1zM1396 803h1v1h-1zM1452 803h1v1h-1zM1546 803h1v1h-1zM1548 803h1v1h-1zM16 804h1v1h-1zM37 804h1v1h-1zM115 804h3v1h-3zM151 804h1v1h-1zM190 804h1v1h-1zM254 804h1v1h-1zM287 804h1v1h-1zM297 804h1v1h-1zM310 804h1v1h-1zM315 804h1v1h-1zM326 804h1v1h-1zM331 804h1v1h-1zM396 804h1v1h-1zM400 804h1v1h-1zM451 804h1v1h-1zM484 804h1v1h-1zM500 804h1v1h-1zM506 804h1v1h-1zM532 804h1v1h-1zM540 804h1v1h-1zM567 804h1v1h-1zM889 804h1v1h-1zM896 804h1v1h-1zM954 804h1v1h-1zM960 804h1v1h-1zM962 804h1v1h-1zM1011 804h1v1h-1zM1021 804h1v1h-1zM1039 804h1v1h-1zM1151 804h1v1h-1zM1153 804h1v1h-1zM1196 804h1v1h-1zM1210 804h1v1h-1zM1222 804h1v1h-1zM1230 804h1v1h-1zM1240 804h1v1h-1zM1260 804h1v1h-1zM1270 804h1v1h-1zM1273 804h1v1h-1zM1339 804h1v1h-1zM1345 804h1v1h-1zM1397 804h1v1h-1zM1452 804h1v1h-1zM1546 804h1v1h-1zM1548 804h1v1h-1zM16 805h1v1h-1zM37 805h1v1h-1zM117 805h1v1h-1zM151 805h1v1h-1zM190 805h1v1h-1zM254 805h1v1h-1zM287 805h1v1h-1zM297 805h1v1h-1zM310 805h1v1h-1zM316 805h1v1h-1zM326 805h1v1h-1zM396 805h1v1h-1zM400 805h1v1h-1zM451 805h1v1h-1zM483 805h1v1h-1zM500 805h1v1h-1zM505 805h1v1h-1zM533 805h1v1h-1zM540 805h1v1h-1zM567 805h1v1h-1zM889 805h1v1h-1zM895 805h1v1h-1zM955 805h1v1h-1zM959 805h1v1h-1zM962 805h1v1h-1zM1011 805h1v1h-1zM1021 805h1v1h-1zM1039 805h1v1h-1zM1151 805h2v1h-2zM1196 805h1v1h-1zM1210 805h1v1h-1zM1223 805h1v1h-1zM1230 805h1v1h-1zM1241 805h1v1h-1zM1260 805h1v1h-1zM1270 805h1v1h-1zM1273 805h1v1h-1zM1340 805h1v1h-1zM1345 805h1v1h-1zM1397 805h1v1h-1zM1447 805h2v1h-2zM1452 805h1v1h-1zM1546 805h1v1h-1zM1548 805h1v1h-1zM16 806h1v1h-1zM37 806h1v1h-1zM151 806h1v1h-1zM190 806h1v1h-1zM254 806h1v1h-1zM287 806h1v1h-1zM297 806h1v1h-1zM310 806h1v1h-1zM316 806h1v1h-1zM326 806h1v1h-1zM396 806h1v1h-1zM399 806h1v1h-1zM452 806h1v1h-1zM472 806h1v1h-1zM483 806h1v1h-1zM500 806h1v1h-1zM505 806h1v1h-1zM533 806h1v1h-1zM539 806h1v1h-1zM890 806h1v1h-1zM895 806h1v1h-1zM955 806h1v1h-1zM958 806h1v1h-1zM962 806h1v1h-1zM1011 806h1v1h-1zM1022 806h1v1h-1zM1039 806h1v1h-1zM1152 806h1v1h-1zM1197 806h1v1h-1zM1210 806h1v1h-1zM1223 806h1v1h-1zM1229 806h1v1h-1zM1241 806h1v1h-1zM1260 806h1v1h-1zM1271 806h1v1h-1zM1273 806h1v1h-1zM1340 806h1v1h-1zM1345 806h1v1h-1zM1397 806h1v1h-1zM1446 806h1v1h-1zM1449 806h1v1h-1zM1452 806h1v1h-1zM1546 806h1v1h-1zM1548 806h1v1h-1zM16 807h1v1h-1zM36 807h1v1h-1zM151 807h1v1h-1zM190 807h1v1h-1zM254 807h1v1h-1zM286 807h1v1h-1zM298 807h1v1h-1zM310 807h1v1h-1zM316 807h1v1h-1zM326 807h1v1h-1zM396 807h1v1h-1zM399 807h1v1h-1zM452 807h1v1h-1zM471 807h2v1h-2zM483 807h1v1h-1zM501 807h1v1h-1zM504 807h1v1h-1zM533 807h1v1h-1zM539 807h1v1h-1zM890 807h1v1h-1zM895 807h1v1h-1zM956 807h1v1h-1zM958 807h1v1h-1zM962 807h1v1h-1zM1010 807h1v1h-1zM1022 807h1v1h-1zM1039 807h1v1h-1zM1152 807h1v1h-1zM1197 807h1v1h-1zM1210 807h1v1h-1zM1223 807h1v1h-1zM1229 807h1v1h-1zM1242 807h1v1h-1zM1260 807h1v1h-1zM1271 807h1v1h-1zM1273 807h1v1h-1zM1340 807h1v1h-1zM1344 807h1v1h-1zM1397 807h1v1h-1zM1446 807h1v1h-1zM1450 807h1v1h-1zM1452 807h1v1h-1zM1546 807h1v1h-1zM1548 807h1v1h-1zM16 808h1v1h-1zM36 808h1v1h-1zM151 808h1v1h-1zM190 808h1v1h-1zM254 808h1v1h-1zM286 808h1v1h-1zM298 808h1v1h-1zM310 808h1v1h-1zM316 808h1v1h-1zM325 808h1v1h-1zM396 808h1v1h-1zM399 808h1v1h-1zM452 808h1v1h-1zM471 808h1v1h-1zM473 808h1v1h-1zM483 808h1v1h-1zM501 808h1v1h-1zM504 808h1v1h-1zM534 808h1v1h-1zM539 808h1v1h-1zM890 808h1v1h-1zM895 808h1v1h-1zM957 808h1v1h-1zM962 808h1v1h-1zM1010 808h1v1h-1zM1022 808h1v1h-1zM1039 808h1v1h-1zM1197 808h1v1h-1zM1210 808h1v1h-1zM1223 808h1v1h-1zM1229 808h1v1h-1zM1242 808h1v1h-1zM1259 808h1v1h-1zM1271 808h1v1h-1zM1273 808h1v1h-1zM1340 808h1v1h-1zM1344 808h1v1h-1zM1397 808h1v1h-1zM1445 808h1v1h-1zM1451 808h2v1h-2zM1546 808h2v1h-2zM16 809h1v1h-1zM36 809h1v1h-1zM151 809h1v1h-1zM190 809h1v1h-1zM254 809h1v1h-1zM286 809h1v1h-1zM298 809h1v1h-1zM310 809h1v1h-1zM316 809h1v1h-1zM325 809h1v1h-1zM397 809h2v1h-2zM452 809h1v1h-1zM470 809h1v1h-1zM473 809h1v1h-1zM483 809h1v1h-1zM501 809h1v1h-1zM503 809h1v1h-1zM534 809h1v1h-1zM539 809h1v1h-1zM890 809h1v1h-1zM895 809h1v1h-1zM963 809h1v1h-1zM1010 809h1v1h-1zM1023 809h1v1h-1zM1039 809h1v1h-1zM1197 809h1v1h-1zM1209 809h1v1h-1zM1223 809h1v1h-1zM1229 809h1v1h-1zM1243 809h1v1h-1zM1259 809h1v1h-1zM1271 809h1v1h-1zM1273 809h1v1h-1zM1341 809h1v1h-1zM1344 809h1v1h-1zM1398 809h1v1h-1zM1445 809h1v1h-1zM1546 809h2v1h-2zM16 810h1v1h-1zM36 810h1v1h-1zM151 810h1v1h-1zM189 810h1v1h-1zM255 810h1v1h-1zM286 810h1v1h-1zM298 810h1v1h-1zM310 810h1v1h-1zM316 810h1v1h-1zM325 810h1v1h-1zM397 810h2v1h-2zM453 810h1v1h-1zM469 810h1v1h-1zM474 810h1v1h-1zM483 810h1v1h-1zM501 810h2v1h-2zM534 810h1v1h-1zM539 810h1v1h-1zM890 810h1v1h-1zM895 810h1v1h-1zM963 810h1v1h-1zM1010 810h1v1h-1zM1023 810h1v1h-1zM1038 810h1v1h-1zM1198 810h1v1h-1zM1209 810h1v1h-1zM1223 810h1v1h-1zM1229 810h1v1h-1zM1243 810h1v1h-1zM1259 810h1v1h-1zM1271 810h2v1h-2zM1341 810h1v1h-1zM1343 810h1v1h-1zM1398 810h1v1h-1zM1444 810h1v1h-1zM1547 810h1v1h-1zM16 811h1v1h-1zM36 811h1v1h-1zM152 811h1v1h-1zM189 811h1v1h-1zM255 811h1v1h-1zM286 811h1v1h-1zM298 811h1v1h-1zM309 811h1v1h-1zM316 811h1v1h-1zM325 811h1v1h-1zM397 811h2v1h-2zM453 811h1v1h-1zM468 811h1v1h-1zM474 811h1v1h-1zM483 811h1v1h-1zM501 811h2v1h-2zM534 811h1v1h-1zM539 811h1v1h-1zM890 811h1v1h-1zM895 811h1v1h-1zM963 811h1v1h-1zM1010 811h1v1h-1zM1023 811h1v1h-1zM1038 811h1v1h-1zM1198 811h1v1h-1zM1209 811h1v1h-1zM1224 811h1v1h-1zM1229 811h1v1h-1zM1243 811h1v1h-1zM1259 811h1v1h-1zM1272 811h1v1h-1zM1341 811h1v1h-1zM1343 811h1v1h-1zM1399 811h1v1h-1zM1444 811h1v1h-1zM1547 811h1v1h-1zM16 812h1v1h-1zM36 812h1v1h-1zM152 812h1v1h-1zM189 812h1v1h-1zM255 812h1v1h-1zM285 812h1v1h-1zM298 812h1v1h-1zM309 812h1v1h-1zM317 812h1v1h-1zM324 812h1v1h-1zM397 812h1v1h-1zM453 812h1v1h-1zM467 812h1v1h-1zM475 812h1v1h-1zM483 812h1v1h-1zM501 812h1v1h-1zM535 812h1v1h-1zM538 812h1v1h-1zM890 812h1v1h-1zM894 812h1v1h-1zM963 812h1v1h-1zM1002 812h1v1h-1zM1009 812h1v1h-1zM1024 812h1v1h-1zM1038 812h1v1h-1zM1198 812h1v1h-1zM1209 812h1v1h-1zM1224 812h1v1h-1zM1229 812h1v1h-1zM1243 812h1v1h-1zM1259 812h1v1h-1zM1272 812h1v1h-1zM1341 812h1v1h-1zM1343 812h1v1h-1zM1399 812h1v1h-1zM1443 812h1v1h-1zM1547 812h1v1h-1zM16 813h1v1h-1zM36 813h1v1h-1zM152 813h1v1h-1zM189 813h1v1h-1zM255 813h1v1h-1zM285 813h1v1h-1zM299 813h1v1h-1zM309 813h1v1h-1zM317 813h1v1h-1zM324 813h1v1h-1zM397 813h1v1h-1zM453 813h1v1h-1zM467 813h1v1h-1zM475 813h1v1h-1zM483 813h1v1h-1zM535 813h1v1h-1zM538 813h1v1h-1zM890 813h1v1h-1zM894 813h1v1h-1zM964 813h1v1h-1zM1002 813h1v1h-1zM1009 813h1v1h-1zM1024 813h1v1h-1zM1038 813h1v1h-1zM1199 813h1v1h-1zM1209 813h1v1h-1zM1224 813h1v1h-1zM1229 813h1v1h-1zM1244 813h1v1h-1zM1259 813h1v1h-1zM1272 813h1v1h-1zM1342 813h1v1h-1zM1400 813h1v1h-1zM1443 813h1v1h-1zM1547 813h1v1h-1zM16 814h1v1h-1zM36 814h1v1h-1zM152 814h1v1h-1zM189 814h1v1h-1zM255 814h1v1h-1zM285 814h1v1h-1zM299 814h1v1h-1zM309 814h1v1h-1zM317 814h1v1h-1zM324 814h1v1h-1zM454 814h1v1h-1zM466 814h1v1h-1zM476 814h1v1h-1zM483 814h1v1h-1zM535 814h1v1h-1zM538 814h1v1h-1zM890 814h1v1h-1zM894 814h1v1h-1zM964 814h1v1h-1zM1002 814h2v1h-2zM1009 814h1v1h-1zM1024 814h1v1h-1zM1038 814h1v1h-1zM1199 814h1v1h-1zM1209 814h1v1h-1zM1224 814h1v1h-1zM1229 814h1v1h-1zM1244 814h1v1h-1zM1258 814h1v1h-1zM1342 814h1v1h-1zM1400 814h1v1h-1zM1442 814h1v1h-1zM1547 814h1v1h-1zM16 815h1v1h-1zM36 815h1v1h-1zM152 815h2v1h-2zM189 815h1v1h-1zM255 815h1v1h-1zM285 815h1v1h-1zM299 815h1v1h-1zM309 815h1v1h-1zM317 815h1v1h-1zM324 815h1v1h-1zM454 815h1v1h-1zM466 815h1v1h-1zM476 815h1v1h-1zM483 815h1v1h-1zM535 815h1v1h-1zM538 815h1v1h-1zM890 815h1v1h-1zM894 815h1v1h-1zM964 815h1v1h-1zM1002 815h2v1h-2zM1009 815h1v1h-1zM1025 815h1v1h-1zM1038 815h1v1h-1zM1200 815h1v1h-1zM1208 815h1v1h-1zM1224 815h1v1h-1zM1229 815h1v1h-1zM1244 815h1v1h-1zM1258 815h1v1h-1zM1401 815h1v1h-1zM1442 815h1v1h-1zM16 816h1v1h-1zM36 816h1v1h-1zM154 816h2v1h-2zM189 816h1v1h-1zM256 816h1v1h-1zM284 816h1v1h-1zM299 816h1v1h-1zM309 816h1v1h-1zM318 816h1v1h-1zM323 816h1v1h-1zM454 816h1v1h-1zM466 816h1v1h-1zM477 816h1v1h-1zM483 816h1v1h-1zM536 816h1v1h-1zM538 816h1v1h-1zM891 816h1v1h-1zM894 816h1v1h-1zM964 816h1v1h-1zM1002 816h2v1h-2zM1009 816h1v1h-1zM1025 816h1v1h-1zM1038 816h1v1h-1zM1200 816h1v1h-1zM1208 816h1v1h-1zM1225 816h1v1h-1zM1228 816h1v1h-1zM1245 816h1v1h-1zM1258 816h1v1h-1zM1401 816h1v1h-1zM1442 816h1v1h-1zM16 817h1v1h-1zM35 817h1v1h-1zM156 817h1v1h-1zM189 817h1v1h-1zM256 817h1v1h-1zM284 817h1v1h-1zM299 817h1v1h-1zM309 817h1v1h-1zM319 817h1v1h-1zM323 817h1v1h-1zM454 817h1v1h-1zM465 817h1v1h-1zM477 817h1v1h-1zM483 817h1v1h-1zM536 817h1v1h-1zM538 817h1v1h-1zM891 817h1v1h-1zM894 817h1v1h-1zM964 817h1v1h-1zM1002 817h1v1h-1zM1004 817h1v1h-1zM1009 817h1v1h-1zM1026 817h1v1h-1zM1038 817h1v1h-1zM1200 817h1v1h-1zM1208 817h1v1h-1zM1225 817h1v1h-1zM1228 817h1v1h-1zM1245 817h1v1h-1zM1258 817h1v1h-1zM1402 817h1v1h-1zM1441 817h1v1h-1zM16 818h1v1h-1zM35 818h1v1h-1zM157 818h2v1h-2zM189 818h1v1h-1zM256 818h1v1h-1zM284 818h1v1h-1zM299 818h1v1h-1zM309 818h1v1h-1zM319 818h1v1h-1zM323 818h1v1h-1zM455 818h1v1h-1zM465 818h1v1h-1zM477 818h1v1h-1zM483 818h1v1h-1zM536 818h2v1h-2zM891 818h1v1h-1zM894 818h1v1h-1zM965 818h1v1h-1zM1001 818h1v1h-1zM1004 818h1v1h-1zM1008 818h1v1h-1zM1026 818h1v1h-1zM1038 818h1v1h-1zM1201 818h1v1h-1zM1208 818h1v1h-1zM1225 818h1v1h-1zM1228 818h1v1h-1zM1245 818h1v1h-1zM1258 818h1v1h-1zM1402 818h1v1h-1zM1441 818h1v1h-1zM16 819h1v1h-1zM35 819h1v1h-1zM159 819h2v1h-2zM189 819h1v1h-1zM256 819h1v1h-1zM284 819h1v1h-1zM300 819h1v1h-1zM309 819h1v1h-1zM320 819h1v1h-1zM323 819h1v1h-1zM455 819h1v1h-1zM465 819h1v1h-1zM478 819h1v1h-1zM483 819h1v1h-1zM537 819h1v1h-1zM891 819h1v1h-1zM894 819h1v1h-1zM965 819h1v1h-1zM1001 819h1v1h-1zM1005 819h1v1h-1zM1008 819h1v1h-1zM1026 819h1v1h-1zM1031 819h2v1h-2zM1038 819h1v1h-1zM1201 819h1v1h-1zM1208 819h1v1h-1zM1225 819h1v1h-1zM1228 819h1v1h-1zM1246 819h1v1h-1zM1257 819h1v1h-1zM1403 819h1v1h-1zM1441 819h1v1h-1zM16 820h1v1h-1zM35 820h1v1h-1zM161 820h1v1h-1zM189 820h1v1h-1zM256 820h1v1h-1zM284 820h1v1h-1zM300 820h1v1h-1zM309 820h1v1h-1zM321 820h2v1h-2zM455 820h1v1h-1zM464 820h1v1h-1zM478 820h1v1h-1zM483 820h1v1h-1zM537 820h1v1h-1zM891 820h1v1h-1zM893 820h1v1h-1zM965 820h1v1h-1zM1001 820h1v1h-1zM1005 820h1v1h-1zM1008 820h1v1h-1zM1027 820h1v1h-1zM1029 820h2v1h-2zM1033 820h1v1h-1zM1038 820h1v1h-1zM1202 820h1v1h-1zM1208 820h1v1h-1zM1225 820h1v1h-1zM1228 820h1v1h-1zM1246 820h1v1h-1zM1257 820h1v1h-1zM1403 820h1v1h-1zM1441 820h1v1h-1zM16 821h1v1h-1zM35 821h1v1h-1zM162 821h2v1h-2zM189 821h1v1h-1zM256 821h1v1h-1zM283 821h1v1h-1zM300 821h1v1h-1zM309 821h1v1h-1zM321 821h2v1h-2zM455 821h1v1h-1zM464 821h1v1h-1zM478 821h1v1h-1zM483 821h1v1h-1zM537 821h1v1h-1zM891 821h1v1h-1zM893 821h1v1h-1zM965 821h1v1h-1zM1001 821h1v1h-1zM1005 821h1v1h-1zM1008 821h1v1h-1zM1027 821h2v1h-2zM1033 821h1v1h-1zM1038 821h1v1h-1zM1202 821h2v1h-2zM1207 821h1v1h-1zM1225 821h1v1h-1zM1228 821h1v1h-1zM1246 821h1v1h-1zM1257 821h1v1h-1zM1403 821h1v1h-1zM1440 821h1v1h-1zM17 822h1v1h-1zM35 822h1v1h-1zM164 822h1v1h-1zM189 822h1v1h-1zM256 822h1v1h-1zM283 822h1v1h-1zM300 822h1v1h-1zM308 822h1v1h-1zM322 822h1v1h-1zM456 822h1v1h-1zM464 822h1v1h-1zM479 822h1v1h-1zM483 822h1v1h-1zM891 822h1v1h-1zM893 822h1v1h-1zM966 822h1v1h-1zM1001 822h1v1h-1zM1006 822h1v1h-1zM1008 822h1v1h-1zM1034 822h1v1h-1zM1038 822h1v1h-1zM1204 822h1v1h-1zM1207 822h1v1h-1zM1226 822h1v1h-1zM1228 822h1v1h-1zM1246 822h1v1h-1zM1257 822h1v1h-1zM1404 822h1v1h-1zM1440 822h1v1h-1zM17 823h1v1h-1zM35 823h1v1h-1zM165 823h1v1h-1zM188 823h1v1h-1zM257 823h1v1h-1zM283 823h1v1h-1zM300 823h1v1h-1zM308 823h1v1h-1zM456 823h1v1h-1zM463 823h1v1h-1zM479 823h1v1h-1zM482 823h1v1h-1zM891 823h1v1h-1zM893 823h1v1h-1zM966 823h1v1h-1zM1001 823h1v1h-1zM1006 823h1v1h-1zM1008 823h1v1h-1zM1034 823h1v1h-1zM1037 823h1v1h-1zM1205 823h3v1h-3zM1226 823h1v1h-1zM1228 823h1v1h-1zM1247 823h1v1h-1zM1257 823h1v1h-1zM1404 823h1v1h-1zM1440 823h1v1h-1zM17 824h1v1h-1zM34 824h1v1h-1zM166 824h2v1h-2zM188 824h1v1h-1zM257 824h1v1h-1zM283 824h1v1h-1zM300 824h1v1h-1zM308 824h1v1h-1zM457 824h1v1h-1zM463 824h1v1h-1zM479 824h1v1h-1zM482 824h1v1h-1zM891 824h1v1h-1zM893 824h1v1h-1zM966 824h1v1h-1zM1001 824h1v1h-1zM1006 824h2v1h-2zM1035 824h1v1h-1zM1037 824h1v1h-1zM1207 824h1v1h-1zM1226 824h1v1h-1zM1228 824h1v1h-1zM1247 824h2v1h-2zM1256 824h1v1h-1zM1405 824h1v1h-1zM1440 824h1v1h-1zM17 825h1v1h-1zM34 825h1v1h-1zM167 825h1v1h-1zM188 825h1v1h-1zM257 825h1v1h-1zM282 825h1v1h-1zM301 825h1v1h-1zM308 825h1v1h-1zM458 825h2v1h-2zM463 825h1v1h-1zM480 825h1v1h-1zM482 825h1v1h-1zM891 825h1v1h-1zM893 825h1v1h-1zM966 825h1v1h-1zM1001 825h1v1h-1zM1007 825h1v1h-1zM1035 825h1v1h-1zM1037 825h1v1h-1zM1226 825h2v1h-2zM1249 825h3v1h-3zM1256 825h1v1h-1zM1405 825h1v1h-1zM1439 825h1v1h-1zM17 826h1v1h-1zM34 826h1v1h-1zM168 826h1v1h-1zM188 826h1v1h-1zM257 826h1v1h-1zM282 826h1v1h-1zM301 826h1v1h-1zM308 826h1v1h-1zM460 826h1v1h-1zM462 826h1v1h-1zM480 826h1v1h-1zM482 826h1v1h-1zM891 826h1v1h-1zM893 826h1v1h-1zM967 826h1v1h-1zM1001 826h1v1h-1zM1007 826h1v1h-1zM1036 826h2v1h-2zM1226 826h2v1h-2zM1252 826h5v1h-5zM1405 826h1v1h-1zM1439 826h1v1h-1zM17 827h1v1h-1zM34 827h1v1h-1zM169 827h1v1h-1zM188 827h1v1h-1zM258 827h1v1h-1zM282 827h1v1h-1zM301 827h1v1h-1zM308 827h1v1h-1zM461 827h2v1h-2zM480 827h1v1h-1zM482 827h1v1h-1zM892 827h2v1h-2zM967 827h1v1h-1zM1000 827h1v1h-1zM1036 827h2v1h-2zM1227 827h1v1h-1zM1406 827h1v1h-1zM1439 827h1v1h-1zM17 828h1v1h-1zM34 828h1v1h-1zM169 828h1v1h-1zM188 828h1v1h-1zM259 828h1v1h-1zM282 828h1v1h-1zM301 828h1v1h-1zM308 828h1v1h-1zM481 828h2v1h-2zM892 828h1v1h-1zM967 828h1v1h-1zM1000 828h1v1h-1zM1037 828h1v1h-1zM1227 828h1v1h-1zM1406 828h1v1h-1zM1439 828h1v1h-1zM17 829h1v1h-1zM34 829h1v1h-1zM170 829h1v1h-1zM188 829h1v1h-1zM260 829h1v1h-1zM282 829h1v1h-1zM301 829h1v1h-1zM308 829h1v1h-1zM481 829h2v1h-2zM892 829h1v1h-1zM968 829h1v1h-1zM1000 829h1v1h-1zM1037 829h1v1h-1zM1227 829h1v1h-1zM1406 829h1v1h-1zM1438 829h1v1h-1zM17 830h1v1h-1zM34 830h1v1h-1zM171 830h1v1h-1zM188 830h1v1h-1zM261 830h1v1h-1zM281 830h1v1h-1zM301 830h1v1h-1zM308 830h1v1h-1zM481 830h2v1h-2zM892 830h1v1h-1zM969 830h1v1h-1zM1000 830h1v1h-1zM1407 830h1v1h-1zM1438 830h1v1h-1zM17 831h1v1h-1zM34 831h1v1h-1zM171 831h1v1h-1zM188 831h1v1h-1zM261 831h1v1h-1zM281 831h1v1h-1zM302 831h1v1h-1zM308 831h1v1h-1zM482 831h1v1h-1zM892 831h1v1h-1zM970 831h1v1h-1zM1000 831h1v1h-1zM1407 831h1v1h-1zM1438 831h1v1h-1zM18 832h1v1h-1zM33 832h1v1h-1zM172 832h1v1h-1zM188 832h1v1h-1zM262 832h1v1h-1zM281 832h1v1h-1zM302 832h1v1h-1zM308 832h1v1h-1zM482 832h1v1h-1zM971 832h1v1h-1zM1000 832h1v1h-1zM1408 832h1v1h-1zM1438 832h1v1h-1zM18 833h1v1h-1zM33 833h1v1h-1zM173 833h1v1h-1zM188 833h1v1h-1zM262 833h1v1h-1zM281 833h1v1h-1zM302 833h1v1h-1zM307 833h1v1h-1zM972 833h1v1h-1zM1000 833h1v1h-1zM1408 833h1v1h-1zM1437 833h1v1h-1zM19 834h1v1h-1zM33 834h1v1h-1zM174 834h1v1h-1zM188 834h1v1h-1zM263 834h1v1h-1zM281 834h1v1h-1zM303 834h1v1h-1zM307 834h1v1h-1zM973 834h2v1h-2zM1000 834h1v1h-1zM1409 834h1v1h-1zM1437 834h1v1h-1zM19 835h1v1h-1zM33 835h1v1h-1zM174 835h1v1h-1zM188 835h1v1h-1zM263 835h1v1h-1zM281 835h1v1h-1zM304 835h1v1h-1zM307 835h1v1h-1zM975 835h1v1h-1zM1000 835h1v1h-1zM1409 835h1v1h-1zM1437 835h1v1h-1zM20 836h1v1h-1zM33 836h1v1h-1zM175 836h1v1h-1zM188 836h1v1h-1zM263 836h1v1h-1zM280 836h1v1h-1zM305 836h1v1h-1zM307 836h1v1h-1zM976 836h2v1h-2zM1000 836h1v1h-1zM1410 836h1v1h-1zM1437 836h1v1h-1zM20 837h1v1h-1zM33 837h1v1h-1zM176 837h1v1h-1zM187 837h1v1h-1zM264 837h1v1h-1zM280 837h1v1h-1zM306 837h2v1h-2zM978 837h1v1h-1zM999 837h1v1h-1zM1410 837h1v1h-1zM1436 837h1v1h-1zM21 838h1v1h-1zM33 838h1v1h-1zM176 838h1v1h-1zM187 838h1v1h-1zM264 838h1v1h-1zM280 838h1v1h-1zM307 838h1v1h-1zM979 838h1v1h-1zM999 838h1v1h-1zM1411 838h1v1h-1zM1436 838h1v1h-1zM21 839h1v1h-1zM33 839h1v1h-1zM177 839h3v1h-3zM187 839h1v1h-1zM264 839h1v1h-1zM280 839h1v1h-1zM980 839h1v1h-1zM999 839h1v1h-1zM1411 839h1v1h-1zM1427 839h1v1h-1zM1435 839h1v1h-1zM21 840h1v1h-1zM32 840h1v1h-1zM180 840h3v1h-3zM187 840h1v1h-1zM265 840h1v1h-1zM280 840h1v1h-1zM981 840h2v1h-2zM999 840h1v1h-1zM1411 840h1v1h-1zM1425 840h2v1h-2zM1428 840h1v1h-1zM1435 840h1v1h-1zM22 841h2v1h-2zM32 841h1v1h-1zM183 841h1v1h-1zM187 841h1v1h-1zM265 841h1v1h-1zM280 841h1v1h-1zM982 841h1v1h-1zM999 841h1v1h-1zM1412 841h2v1h-2zM1424 841h1v1h-1zM1428 841h1v1h-1zM1435 841h1v1h-1zM24 842h5v1h-5zM32 842h1v1h-1zM184 842h2v1h-2zM187 842h1v1h-1zM265 842h1v1h-1zM279 842h1v1h-1zM983 842h1v1h-1zM999 842h1v1h-1zM1414 842h2v1h-2zM1423 842h1v1h-1zM1429 842h1v1h-1zM1434 842h1v1h-1zM29 843h4v1h-4zM186 843h2v1h-2zM266 843h1v1h-1zM279 843h1v1h-1zM983 843h1v1h-1zM999 843h1v1h-1zM1416 843h7v1h-7zM1429 843h1v1h-1zM1434 843h1v1h-1zM32 844h1v1h-1zM187 844h1v1h-1zM266 844h1v1h-1zM279 844h1v1h-1zM983 844h1v1h-1zM999 844h1v1h-1zM1430 844h1v1h-1zM1434 844h1v1h-1zM266 845h1v1h-1zM279 845h1v1h-1zM984 845h1v1h-1zM999 845h1v1h-1zM1430 845h1v1h-1zM1433 845h1v1h-1zM267 846h1v1h-1zM279 846h1v1h-1zM984 846h1v1h-1zM999 846h1v1h-1zM1431 846h1v1h-1zM1433 846h1v1h-1zM267 847h1v1h-1zM279 847h1v1h-1zM984 847h1v1h-1zM998 847h1v1h-1zM1431 847h1v1h-1zM1433 847h1v1h-1zM268 848h1v1h-1zM278 848h1v1h-1zM985 848h1v1h-1zM998 848h1v1h-1zM1432 848h1v1h-1zM269 849h1v1h-1zM278 849h1v1h-1zM985 849h1v1h-1zM998 849h1v1h-1zM1432 849h1v1h-1zM269 850h1v1h-1zM278 850h1v1h-1zM985 850h1v1h-1zM998 850h1v1h-1zM270 851h1v1h-1zM278 851h1v1h-1zM986 851h1v1h-1zM998 851h1v1h-1zM271 852h1v1h-1zM278 852h1v1h-1zM986 852h1v1h-1zM998 852h1v1h-1zM271 853h1v1h-1zM278 853h1v1h-1zM986 853h1v1h-1zM998 853h1v1h-1zM272 854h2v1h-2zM277 854h1v1h-1zM987 854h1v1h-1zM998 854h1v1h-1zM274 855h2v1h-2zM277 855h1v1h-1zM987 855h2v1h-2zM998 855h1v1h-1zM276 856h2v1h-2zM989 856h4v1h-4zM998 856h1v1h-1zM993 857h1v1h-1zM997 857h1v1h-1zM994 858h1v1h-1zM997 858h1v1h-1zM995 859h1v1h-1zM997 859h1v1h-1zM996 860h2v1h-2zM997 861h1v1h-1z" fill="#f00"/>
<rect x="1856" y="0" width="34" height="902" fill="#fff"/>
<line x1="1855.5" y1="0" x2="1855.5" y2="880" stroke="#000"/>
<path d="M1855 11.5h6M1855 17.5h3M1855 22.5h6M1855 28.5h3M1855 34.5h6M1855 39.5h3M1855 45.5h6M1855 50.5h3M1855 56.5h6M1855 62.5h3M1855 67.5h6M1855 73.5h3M1855 79.5h6M1855 84.5h3M1855 90.5h6M1855 95.5h3M1855 101.5h6M1855 107.5h3M1855 112.5h6M1855 118.5h3M1855 124.5h6M1855 129.5h3M1855 135.5h6M1855 140.5h3M1855 146.5h6M1855 152.5h3M1855 157.5h6M1855 163.5h3M1855 169.5h6M1855 174.5h3M1855 180.5h6M1855 185.5h3M1855 191.5h6M1855 197.5h3M1855 202.5h6M1855 208.5h3M1855 214.5h6M1855 219.5h3M1855 225.5h6M1855 231.5h3M1855 236.5h6M1855 242.5h3M1855 247.5h6M1855 253.5h3M1855 259.5h6M1855 264.5h3M1855 270.5h6M1855 276.5h3M1855 281.5h6M1855 287.5h3M1855 292.5h6M1855 298.5h3M1855 304.5h6M1855 309.5h3M1855 315.5h6M1855 321.5h3M1855 326.5h6M1855 332.5h3M1855 337.5h6M1855 343.5h3M1855 349.5h6M1855 354.5h3M1855 360.5h6M1855 366.5h3M1855 371.5h6M1855 377.5h3M1855 382.5h6M1855 388.5h3M1855 394.5h6M1855 399.5h3M1855 405.5h6M1855 411.5h3M1855 416.5h6M1855 422.5h3M1855 428.5h6M1855 433.5h3M1855 439.5h6M1855 444.5h3M1855 450.5h6M1855 456.5h3M1855 461.5h6M1855 467.5h3M1855 473.5h6M1855 478.5h3M1855 484.5h6M1855 489.5h3M1855 495.5h6M1855 501.5h3M1855 506.5h6M1855 512.5h3M1855 518.5h6M1855 523.5h3M1855 529.5h6M1855 534.5h3M1855 540.5h6M1855 546.5h3M1855 551.5h6M1855 557.5h3M1855 563.5h6M1855 568.5h3M1855 574.5h6M1855 579.5h3M1855 585.5h6M1855 591.5h3M1855 596.5h6M1855 602.5h3M1855 608.5h6M1855 613.5h3M1855 619.5h6M1855 625.5h3M1855 630.5h6M1855 636.5h3M1855 641.5h6M1855 647.5h3M1855 653.5h6M1855 6.5h3M1855 876.5h3M1855 872.5h3M1855 867.5h3M1855 863.5h3M1855 859.5h6M1855 854.5h3M1855 850.5h3M1855 846.5h3M1855 841.5h3M1855 837.5h6M1855 833.5h3M1855 828.5h3M1855 824.5h3M1855 820.5h3M1855 815.5h6M1855 811.5h3M1855 806.5h3M1855 802.5h3M1855 798.5h3M1855 793.5h6M1855 789.5h3M1855 785.5h3M1855 780.5h3M1855 776.5h3M1855 772.5h6M1855 767.5h3M1855 763.5h3M1855 759.5h3M1855 754.5h3M1855 750.5h6M1855 746.5h3M1855 741.5h3M1855 737.5h3M1855 733.5h3M1855 728.5h6M1855 724.5h3M1855 720.5h3M1855 715.5h3M1855 711.5h3M1855 707.5h6M1855 702.5h3M1855 698.5h3M1855 694.5h3M1855 689.5h3M1855 685.5h6M1855 681.5h3M1855 676.5h3M1855 672.5h3M1855 668.5h3M1855 663.5h6" stroke="#000" stroke-width="1"/>
<text x="1887.6" y="15.1" font-size="8.5" fill="#222" text-anchor="end">9.6</text>
<text x="1887.6" y="26.3" font-size="8.5" fill="#222" text-anchor="end">9.5</text>
<text x="1887.6" y="37.6" font-size="8.5" fill="#222" text-anchor="end">9.4</text>
<text x="1887.6" y="48.8" font-size="8.5" fill="#222" text-anchor="end">9.3</text>
<text x="1887.6" y="60.1" font-size="8.5" fill="#222" text-anchor="end">9.2</text>
<text x="1887.6" y="71.3" font-size="8.5" fill="#222" text-anchor="end">9.1</text>
<text x="1887.6" y="82.6" font-size="8.5" fill="#222" text-anchor="end">9.0</text>
<text x="1887.6" y="93.8" font-size="8.5" fill="#222" text-anchor="end">8.9</text>
<text x="1887.6" y="105.1" font-size="8.5" fill="#222" text-anchor="end">8.8</text>
<text x="1887.6" y="116.3" font-size="8.5" fill="#222" text-anchor="end">8.7</text>
<text x="1887.6" y="127.5" font-size="8.5" fill="#222" text-anchor="end">8.6</text>
<text x="1887.6" y="138.8" font-size="8.5" fill="#222" text-anchor="end">8.5</text>
<text x="1887.6" y="150.0" font-size="8.5" fill="#222" text-anchor="end">8.4</text>
<text x="1887.6" y="161.3" font-size="8.5" fill="#222" text-anchor="end">8.3</text>
<text x="1887.6" y="172.5" font-size="8.5" fill="#222" text-anchor="end">8.2</text>
<text x="1887.6" y="183.8" font-size="8.5" fill="#222" text-anchor="end">8.1</text>
<text x="1887.6" y="195.0" font-size="8.5" fill="#222" text-anchor="end">8.0</text>
<text x="1887.6" y="206.3" font-size="8.5" fill="#222" text-anchor="end">7.9</text>
<text x="1887.6" y="217.5" font-size="8.5" fill="#222" text-anchor="end">7.8</text>
<text x="1887.6" y="228.8" font-size="8.5" fill="#222" text-anchor="end">7.7</text>
<text x="1887.6" y="240.0" font-size="8.5" fill="#222" text-anchor="end">7.6</text>
<text x="1887.6" y="251.2" font-size="8.5" fill="#222" text-anchor="end">7.5</text>
<text x="1887.6" y="262.5" font-size="8.5" fill="#222" text-anchor="end">7.4</text>
<text x="1887.6" y="273.7" font-size="8.5" fill="#222" text-anchor="end">7.3</text>
<text x="1887.6" y="285.0" font-size="8.5" fill="#222" text-anchor="end">7.2</text>
<text x="1887.6" y="296.2" font-size="8.5" fill="#222" text-anchor="end">7.1</text>
<text x="1887.6" y="307.5" font-size="8.5" fill="#222" text-anchor="end">7.0</text>
<text x="1887.6" y="318.7" font-size="8.5" fill="#222" text-anchor="end">6.9</text>
<text x="1887.6" y="330.0" font-size="8.5" fill="#222" text-anchor="end">6.8</text>
<text x="1887.6" y="341.2" font-size="8.5" fill="#222" text-anchor="end">6.7</text>
<text x="1887.6" y="352.5" font-size="8.5" fill="#222" text-anchor="end">6.6</text>
<text x="1887.6" y="363.7" font-size="8.5" fill="#222" text-anchor="end">6.5</text>
<text x="1887.6" y="374.9" font-size="8.5" fill="#222" text-anchor="end">6.4</text>
<text x="1887.6" y="386.2" font-size="8.5" fill="#222" text-anchor="end">6.3</text>
<text x="1887.6" y="397.4" font-size="8.5" fill="#222" text-anchor="end">6.2</text>
<text x="1887.6" y="408.7" font-size="8.5" fill="#222" text-anchor="end">6.1</text>
<text x="1887.6" y="419.9" font-size="8.5" fill="#222" text-anchor="end">6.0</text>
<text x="1887.6" y="431.2" font-size="8.5" fill="#222" text-anchor="end">5.9</text>
<text x="1887.6" y="442.4" font-size="8.5" fill="#222" text-anchor="end">5.8</text>
<text x="1887.6" y="453.7" font-size="8.5" fill="#222" text-anchor="end">5.7</text>
<text x="1887.6" y="464.9" font-size="8.5" fill="#222" text-anchor="end">5.6</text>
<text x="1887.6" y="476.1" font-size="8.5" fill="#222" text-anchor="end">5.5</text>
<text x="1887.6" y="487.4" font-size="8.5" fill="#222" text-anchor="end">5.4</text>
<text x="1887.6" y="498.6" font-size="8.5" fill="#222" text-anchor="end">5.3</text>
<text x="1887.6" y="509.9" font-size="8.5" fill="#222" text-anchor="end">5.2</text>
<text x="1887.6" y="521.1" font-size="8.5" fill="#222" text-anchor="end">5.1</text>
<text x="1887.6" y="532.4" font-size="8.5" fill="#222" text-anchor="end">5.0</text>
<text x="1887.6" y="543.6" font-size="8.5" fill="#222" text-anchor="end">4.9</text>
<text x="1887.6" y="554.9" font-size="8.5" fill="#222" text-anchor="end">4.8</text>
<text x="1887.6" y="566.1" font-size="8.5" fill="#222" text-anchor="end">4.7</text>
<text x="1887.6" y="577.4" font-size="8.5" fill="#222" text-anchor="end">4.6</text>
<text x="1887.6" y="588.6" font-size="8.5" fill="#222" text-anchor="end">4.5</text>
<text x="1887.6" y="599.8" font-size="8.5" fill="#222" text-anchor="end">4.4</text>
<text x="1887.6" y="611.1" font-size="8.5" fill="#222" text-anchor="end">4.3</text>
<text x="1887.6" y="622.3" font-size="8.5" fill="#222" text-anchor="end">4.2</text>
<text x="1887.6" y="633.6" font-size="8.5" fill="#222" text-anchor="end">4.1</text>
<text x="1887.6" y="644.8" font-size="8.5" fill="#222" text-anchor="end">4.0</text>
<text x="1887.6" y="862.5" font-size="8.5" fill="#222" text-anchor="end">5000</text>
<text x="1887.6" y="840.5" font-size="8.5" fill="#222" text-anchor="end">10000</text>
<text x="1887.6" y="818.5" font-size="8.5" fill="#222" text-anchor="end">15000</text>
<text x="1887.6" y="796.5" font-size="8.5" fill="#222" text-anchor="end">20000</text>
<text x="1887.6" y="775.5" font-size="8.5" fill="#222" text-anchor="end">25000</text>
<text x="1887.6" y="753.5" font-size="8.5" fill="#222" text-anchor="end">30000</text>
<text x="1887.6" y="731.5" font-size="8.5" fill="#222" text-anchor="end">35000</text>
<text x="1887.6" y="710.5" font-size="8.5" fill="#222" text-anchor="end">40000</text>
<text x="1887.6" y="688.5" font-size="8.5" fill="#222" text-anchor="end">45000</text>
<text x="1887.6" y="666.5" font-size="8.5" fill="#222" text-anchor="end">50000</text>
<path d="M1857.5 879V872.5H1873.5V879" stroke="#000" fill="none"/>
<text x="1858" y="878.5" font-size="6" fill="#444">x100</text>
<rect x="0" y="880" width="1855" height="22" fill="#fff"/>
<line x1="0" y1="880.5" x2="1855" y2="880.5" stroke="#000" stroke-width="1" />
<line x1="0" y1="891.5" x2="1855" y2="891.5" stroke="#000" stroke-width="1" />
<path d="M2.5 880V891M27.5 880V891M52.5 880V891M77.5 880V891M102.5 880V891M127.5 880V891M152.5 880V891M177.5 880V891M197.5 880V891M222.5 880V891M246.5 880V891M272.5 880V891M297.5 880V891M322.5 880V891M347.5 880V891M372.5 880V891M397.5 880V891M422.5 880V891M447.5 880V891M472.5 880V891M497.5 880V891M522.5 880V891M547.5 880V891M572.5 880V891M597.5 880V891M622.5 880V891M647.5 880V891M657.5 880V891M672.5 880V891M697.5 880V891M722.5 880V891M747.5 880V891M772.5 880V891M796.5 880V891M822.5 880V891M847.5 880V891M872.5 880V891M897.5 880V891M921.5 880V891M947.5 880V891M972.5 880V891M997.5 880V891M1022.5 880V891M1042.5 880V891M1062.5 880V891M1082.5 880V891M1107.5 880V891M1132.5 880V891M1157.5 880V891M1182.5 880V891M1207.5 880V891M1232.5 880V891M1256.5 880V891M1282.5 880V891M1307.5 880V891M1332.5 880V891M1357.5 880V891M1382.5 880V891M1407.5 880V891M1432.5 880V891M1452.5 880V891M1477.5 880V891M1502.5 880V891M1527.5 880V891M1551.5 880V891M1577.5 880V891M1602.5 880V891M1627.5 880V891M1652.5 880V891M1676.5 880V891M1702.5 880V891M1727.5 880V891M1752.5 880V891M1777.5 880V891M1801.5 880V891M1827.5 880V891M1852.5 880V891M27.5 880V902M142.5 880V902M246.5 880V902M352.5 880V902M467.5 880V902M572.5 880V902M662.5 880V902M772.5 880V902M872.5 880V902M977.5 880V902M1077.5 880V902M1182.5 880V902M1287.5 880V902M1402.5 880V902M1502.5 880V902M1612.5 880V902M1727.5 880V902M1827.5 880V902" stroke="#000" stroke-width="1"/>
<svg x="0" y="880" width="1855" height="22" overflow="hidden">
<text x="4" y="9.0" font-size="8.5" fill="#222" textLength="8.2" lengthAdjust="spacingAndGlyphs">24</text>
<text x="29" y="9.0" font-size="8.5" fill="#222" textLength="4.1" lengthAdjust="spacingAndGlyphs">1</text>
<text x="54" y="9.0" font-size="8.5" fill="#222" textLength="4.1" lengthAdjust="spacingAndGlyphs">8</text>
<text x="79" y="9.0" font-size="8.5" fill="#222" textLength="8.2" lengthAdjust="spacingAndGlyphs">15</text>
<text x="104" y="9.0" font-size="8.5" fill="#222" textLength="8.2" lengthAdjust="spacingAndGlyphs">22</text>
<text x="129" y="9.0" font-size="8.5" fill="#222" textLength="8.2" lengthAdjust="spacingAndGlyphs">29</text>
<text x="154" y="9.0" font-size="8.5" fill="#222" textLength="4.1" lengthAdjust="spacingAndGlyphs">5</text>
<text x="179" y="9.0" font-size="8.5" fill="#222" textLength="8.2" lengthAdjust="spacingAndGlyphs">12</text>
<text x="199" y="9.0" font-size="8.5" fill="#222" textLength="8.2" lengthAdjust="spacingAndGlyphs">19</text>
<text x="224" y="9.0" font-size="8.5" fill="#222" textLength="8.2" lengthAdjust="spacingAndGlyphs">26</text>
<text x="248" y="9.0" font-size="8.5" fill="#222" textLength="4.1" lengthAdjust="spacingAndGlyphs">2</text>
<text x="274" y="9.0" font-size="8.5" fill="#222" textLength="4.1" lengthAdjust="spacingAndGlyphs">9</text>
<text x="299" y="9.0" font-size="8.5" fill="#222" textLength="8.2" lengthAdjust="spacingAndGlyphs">16</text>
<text x="324" y="9.0" font-size="8.5" fill="#222" textLength="8.2" lengthAdjust="spacingAndGlyphs">23</text>
<text x="349" y="9.0" font-size="8.5" fill="#222" textLength="8.2" lengthAdjust="spacingAndGlyphs">30</text>
<text x="374" y="9.0" font-size="8.5" fill="#222" textLength="4.1" lengthAdjust="spacingAndGlyphs">7</text>
<text x="399" y="9.0" font-size="8.5" fill="#222" textLength="8.2" lengthAdjust="spacingAndGlyphs">14</text>
<text x="424" y="9.0" font-size="8.5" fill="#222" textLength="8.2" lengthAdjust="spacingAndGlyphs">21</text>
<text x="449" y="9.0" font-size="8.5" fill="#222" textLength="8.2" lengthAdjust="spacingAndGlyphs">28</text>
<text x="474" y="9.0" font-size="8.5" fill="#222" textLength="4.1" lengthAdjust="spacingAndGlyphs">4</text>
<text x="499" y="9.0" font-size="8.5" fill="#222" textLength="8.2" lengthAdjust="spacingAndGlyphs">11</text>
<text x="524" y="9.0" font-size="8.5" fill="#222" textLength="8.2" lengthAdjust="spacingAndGlyphs">18</text>
<text x="549" y="9.0" font-size="8.5" fill="#222" textLength="8.2" lengthAdjust="spacingAndGlyphs">25</text>
<text x="574" y="9.0" font-size="8.5" fill="#222" textLength="4.1" lengthAdjust="spacingAndGlyphs">2</text>
<text x="599" y="9.0" font-size="8.5" fill="#222" textLength="4.1" lengthAdjust="spacingAndGlyphs">9</text>
<text x="624" y="9.0" font-size="8.5" fill="#222" textLength="8.2" lengthAdjust="spacingAndGlyphs">16</text>
<text x="649" y="9.0" font-size="8.5" fill="#222" textLength="8.2" lengthAdjust="spacingAndGlyphs">23</text>
<text x="674" y="9.0" font-size="8.5" fill="#222" textLength="4.1" lengthAdjust="spacingAndGlyphs">6</text>
<text x="699" y="9.0" font-size="8.5" fill="#222" textLength="8.2" lengthAdjust="spacingAndGlyphs">13</text>
<text x="724" y="9.0" font-size="8.5" fill="#222" textLength="8.2" lengthAdjust="spacingAndGlyphs">20</text>
<text x="749" y="9.0" font-size="8.5" fill="#222" textLength="8.2" lengthAdjust="spacingAndGlyphs">27</text>
<text x="774" y="9.0" font-size="8.5" fill="#222" textLength="4.1" lengthAdjust="spacingAndGlyphs">3</text>
<text x="798" y="9.0" font-size="8.5" fill="#222" textLength="8.2" lengthAdjust="spacingAndGlyphs">10</text>
<text x="824" y="9.0" font-size="8.5" fill="#222" textLength="8.2" lengthAdjust="spacingAndGlyphs">17</text>
<text x="849" y="9.0" font-size="8.5" fill="#222" textLength="8.2" lengthAdjust="spacingAndGlyphs">24</text>
<text x="874" y="9.0" font-size="8.5" fill="#222" textLength="4.1" lengthAdjust="spacingAndGlyphs">3</text>
<text x="899" y="9.0" font-size="8.5" fill="#222" textLength="8.2" lengthAdjust="spacingAndGlyphs">10</text>
<text x="923" y="9.0" font-size="8.5" fill="#222" textLength="8.2" lengthAdjust="spacingAndGlyphs">17</text>
<text x="949" y="9.0" font-size="8.5" fill="#222" textLength="8.2" lengthAdjust="spacingAndGlyphs">24</text>
<text x="974" y="9.0" font-size="8.5" fill="#222" textLength="8.2" lengthAdjust="spacingAndGlyphs">31</text>
<text x="999" y="9.0" font-size="8.5" fill="#222" textLength="4.1" lengthAdjust="spacingAndGlyphs">7</text>
<text x="1024" y="9.0" font-size="8.5" fill="#222" textLength="8.2" lengthAdjust="spacingAndGlyphs">14</text>
<text x="1044" y="9.0" font-size="8.5" fill="#222" textLength="8.2" lengthAdjust="spacingAndGlyphs">22</text>
<text x="1064" y="9.0" font-size="8.5" fill="#222" textLength="8.2" lengthAdjust="spacingAndGlyphs">28</text>
<text x="1084" y="9.0" font-size="8.5" fill="#222" textLength="4.1" lengthAdjust="spacingAndGlyphs">5</text>
<text x="1109" y="9.0" font-size="8.5" fill="#222" textLength="8.2" lengthAdjust="spacingAndGlyphs">12</text>
<text x="1134" y="9.0" font-size="8.5" fill="#222" textLength="8.2" lengthAdjust="spacingAndGlyphs">19</text>
<text x="1159" y="9.0" font-size="8.5" fill="#222" textLength="8.2" lengthAdjust="spacingAndGlyphs">26</text>
<text x="1184" y="9.0" font-size="8.5" fill="#222" textLength="4.1" lengthAdjust="spacingAndGlyphs">2</text>
<text x="1209" y="9.0" font-size="8.5" fill="#222" textLength="4.1" lengthAdjust="spacingAndGlyphs">9</text>
<text x="1234" y="9.0" font-size="8.5" fill="#222" textLength="8.2" lengthAdjust="spacingAndGlyphs">16</text>
<text x="1258" y="9.0" font-size="8.5" fill="#222" textLength="8.2" lengthAdjust="spacingAndGlyphs">23</text>
<text x="1284" y="9.0" font-size="8.5" fill="#222" textLength="8.2" lengthAdjust="spacingAndGlyphs">30</text>
<text x="1309" y="9.0" font-size="8.5" fill="#222" textLength="4.1" lengthAdjust="spacingAndGlyphs">7</text>
<text x="1334" y="9.0" font-size="8.5" fill="#222" textLength="8.2" lengthAdjust="spacingAndGlyphs">14</text>
<text x="1359" y="9.0" font-size="8.5" fill="#222" textLength="8.2" lengthAdjust="spacingAndGlyphs">21</text>
<text x="1384" y="9.0" font-size="8.5" fill="#222" textLength="8.2" lengthAdjust="spacingAndGlyphs">28</text>
<text x="1409" y="9.0" font-size="8.5" fill="#222" textLength="4.1" lengthAdjust="spacingAndGlyphs">4</text>
<text x="1434" y="9.0" font-size="8.5" fill="#222" textLength="8.2" lengthAdjust="spacingAndGlyphs">11</text>
<text x="1454" y="9.0" font-size="8.5" fill="#222" textLength="8.2" lengthAdjust="spacingAndGlyphs">18</text>
<text x="1479" y="9.0" font-size="8.5" fill="#222" textLength="8.2" lengthAdjust="spacingAndGlyphs">25</text>
<text x="1504" y="9.0" font-size="8.5" fill="#222" textLength="4.1" lengthAdjust="spacingAndGlyphs">1</text>
<text x="1529" y="9.0" font-size="8.5" fill="#222" textLength="4.1" lengthAdjust="spacingAndGlyphs">8</text>
<text x="1553" y="9.0" font-size="8.5" fill="#222" textLength="8.2" lengthAdjust="spacingAndGlyphs">15</text>
<text x="1579" y="9.0" font-size="8.5" fill="#222" textLength="8.2" lengthAdjust="spacingAndGlyphs">22</text>
<text x="1604" y="9.0" font-size="8.5" fill="#222" textLength="8.2" lengthAdjust="spacingAndGlyphs">29</text>
<text x="1629" y="9.0" font-size="8.5" fill="#222" textLength="4.1" lengthAdjust="spacingAndGlyphs">6</text>
<text x="1654" y="9.0" font-size="8.5" fill="#222" textLength="8.2" lengthAdjust="spacingAndGlyphs">13</text>
<text x="1678" y="9.0" font-size="8.5" fill="#222" textLength="8.2" lengthAdjust="spacingAndGlyphs">20</text>
<text x="1704" y="9.0" font-size="8.5" fill="#222" textLength="8.2" lengthAdjust="spacingAndGlyphs">27</text>
<text x="1729" y="9.0" font-size="8.5" fill="#222" textLength="4.1" lengthAdjust="spacingAndGlyphs">3</text>
<text x="1754" y="9.0" font-size="8.5" fill="#222" textLength="8.2" lengthAdjust="spacingAndGlyphs">10</text>
<text x="1779" y="9.0" font-size="8.5" fill="#222" textLength="8.2" lengthAdjust="spacingAndGlyphs">17</text>
<text x="1803" y="9.0" font-size="8.5" fill="#222" textLength="8.2" lengthAdjust="spacingAndGlyphs">24</text>
<text x="1829" y="9.0" font-size="8.5" fill="#222" textLength="4.1" lengthAdjust="spacingAndGlyphs">1</text>
<text x="1854" y="9.0" font-size="8.5" fill="#222" textLength="4.1" lengthAdjust="spacingAndGlyphs">8</text>
<text x="28" y="20.0" font-size="8.5" fill="#222">July</text>
<text x="143" y="20.0" font-size="8.5" fill="#222">August</text>
<text x="247" y="20.0" font-size="8.5" fill="#222">September</text>
<text x="353" y="20.0" font-size="8.5" fill="#222">October</text>
<text x="468" y="20.0" font-size="8.5" fill="#222">November</text>
<text x="573" y="20.0" font-size="8.5" fill="#222">December</text>
<text x="663" y="20.0" font-size="8.5" fill="#222">2025</text>
<text x="773" y="20.0" font-size="8.5" fill="#222">February</text>
<text x="873" y="20.0" font-size="8.5" fill="#222">March</text>
<text x="978" y="20.0" font-size="8.5" fill="#222">April</text>
<text x="1078" y="20.0" font-size="8.5" fill="#222">May</text>
<text x="1183" y="20.0" font-size="8.5" fill="#222">June</text>
<text x="1288" y="20.0" font-size="8.5" fill="#222">July</text>
<text x="1403" y="20.0" font-size="8.5" fill="#222">August</text>
<text x="1503" y="20.0" font-size="8.5" fill="#222">September</text>
<text x="1613" y="20.0" font-size="8.5" fill="#222">October</text>
<text x="1728" y="20.0" font-size="8.5" fill="#222">November</text>
<text x="1828" y="20.0" font-size="8.5" fill="#222">December</text>
</svg>
<text x="807" y="11" font-size="8.5" fill="#333">FERRAGAMO (7.30000, 7.64500, 7.30000, 7.56000, +0.11500)</text>
<rect x="754.5" y="15.5" width="207" height="11" fill="#fff" stroke="#000"/>
<text x="756.5" y="23.8" font-size="9.6" font-weight="bold" fill="#000" stroke="#000" stroke-width="0.3" shape-rendering="auto" textLength="202" lengthAdjust="spacing">COPYRIGHT@ LABORSADEIPICCOLI.COM</text>
<rect x="999.5" y="105.5" width="405" height="96" fill="#f0fff0" stroke="#000"/>
<text x="1001.8" y="117.8" font-size="13.4" font-weight="bold" fill="#000" textLength="195.0" lengthAdjust="spacingAndGlyphs">Ferragamo tiene ancora botta.</text>
<text x="1001.8" y="133.9" font-size="13.4" font-weight="bold" fill="#000" textLength="362.0" lengthAdjust="spacingAndGlyphs">Apre debole con il mercato ma disegna subito una white</text>
<text x="1001.8" y="149.9" font-size="13.4" font-weight="bold" fill="#000" textLength="400.6" lengthAdjust="spacingAndGlyphs">candle in recupero sui 7,56 in close seppur con pochi scambi.</text>
<text x="1001.8" y="165.9" font-size="13.4" font-weight="bold" fill="#000" textLength="350.6" lengthAdjust="spacingAndGlyphs">C'e' una forza di fondo che sta tenendo in piedi il trend</text>
<text x="1001.8" y="182.0" font-size="13.4" font-weight="bold" fill="#000" textLength="124.4" lengthAdjust="spacingAndGlyphs">positivo da ottobre.</text>
<text x="1001.8" y="198.1" font-size="13.4" font-weight="bold" fill="#000" textLength="255.0" lengthAdjust="spacingAndGlyphs">Solamente sotto i 7,15 tornerà a rischio.</text>
</svg>
</body></html>
